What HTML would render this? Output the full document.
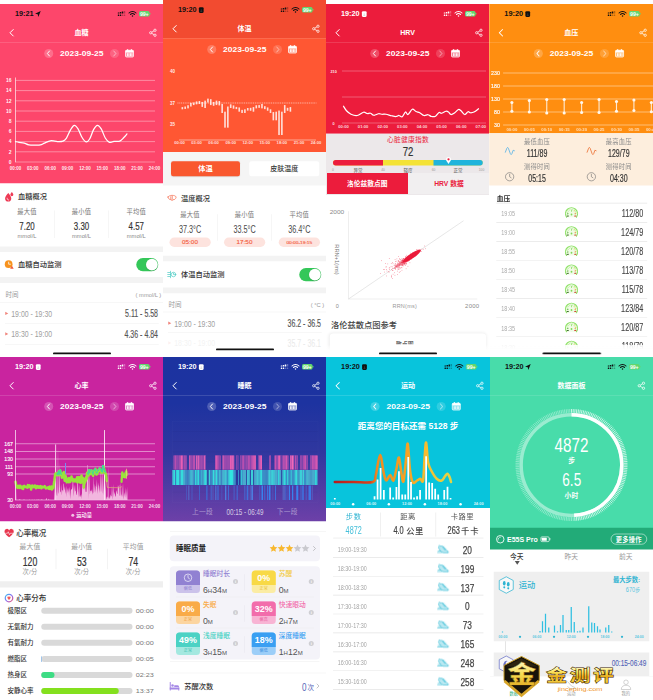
<!DOCTYPE html><html lang="zh-CN"><head><meta charset="utf-8"><title>collage</title><style>
html,body{margin:0;padding:0;background:#fff}
body{width:653px;height:700px;overflow:hidden;position:relative}
#s{position:absolute;left:0;top:0;width:2612px;height:2800px;transform:scale(.25);transform-origin:0 0;font-family:"Liberation Sans","Noto Sans CJK SC",sans-serif;background:#fff;overflow:hidden}
.p{position:absolute;overflow:hidden}
.a{position:absolute;display:block}
.t{position:absolute;white-space:nowrap;line-height:1}
svg{overflow:visible}
</style></head><body><div id="s"><div class="p" style="left:0px;top:16px;width:652px;height:1412px;background:#fff"><div class="a" style="left:0px;top:0px;width:652px;height:717px;background:#fd466b;"></div><div class="t" style="top:26.3px;font-size:28px;color:#111;font-weight:700;left:60px;transform:scaleX(1.04);transform-origin:0 50%;">19:21</div><svg class="a" style="left:139px;top:27px;" width="26" height="26" viewBox="0 0 26 26"><path d="M24 1 L1 12 L12 14 L14 25 Z" fill="#111"/></svg><svg class="a" style="left:471px;top:28px;" width="32" height="20" viewBox="0 0 32 20"><rect x="0" y="6" width="6" height="4" rx="1.2" fill="#111" opacity="1"/><rect x="8" y="4" width="6" height="6" rx="1.2" fill="#111" opacity="1"/><rect x="16" y="2" width="6" height="8" rx="1.2" fill="#111" opacity="1"/><rect x="24" y="0" width="6" height="10" rx="1.2" fill="#111" opacity="0.3"/><rect x="0" y="14" width="6" height="5.5" rx="1.5" fill="#111" opacity="1"/><rect x="8" y="14" width="6" height="5.5" rx="1.5" fill="#111" opacity="1"/><rect x="16" y="14" width="6" height="5.5" rx="1.5" fill="#111" opacity="0.3"/><rect x="24" y="14" width="6" height="5.5" rx="1.5" fill="#111" opacity="0.3"/></svg><svg class="a" style="left:514px;top:27px;" width="32" height="26" viewBox="0 0 32 26"><path d="M2 9 A19 19 0 0 1 30 9" fill="none" stroke="#111" stroke-width="4.2" stroke-linecap="round"/><path d="M8 15 A11.5 11.5 0 0 1 24 15" fill="none" stroke="#111" stroke-width="4.2" stroke-linecap="round"/><circle cx="16" cy="21" r="3" fill="#111"/></svg><div class="a" style="left:556px;top:28px;width:42px;height:22px;background:#62d66e;border-radius:6px;"></div><div class="a" style="left:598px;top:35px;width:3px;height:8px;background:#62d66e;border-radius:1.5px;"></div><div class="t" style="top:29.2px;font-size:21px;color:#fff;font-weight:700;letter-spacing:-0.3px;left:577px;transform:translateX(-50%);transform-origin:50% 50%;">99+</div><svg class="a" style="left:36px;top:99px;" width="20" height="32" viewBox="0 0 20 32"><path d="M17 3 L4 16 L17 29" fill="none" stroke="#fff" stroke-width="4" stroke-linecap="round" stroke-linejoin="round"/></svg><div class="t" style="top:101.3px;font-size:28px;color:#fff;font-weight:700;left:326px;transform:translateX(-50%);transform-origin:50% 50%;">血糖</div><svg class="a" style="left:596px;top:98px;" width="32" height="34" viewBox="0 0 32 34"><g fill="none" stroke="#fff" stroke-width="3"><circle cx="24" cy="7" r="4.6"/><circle cx="7" cy="17" r="4.6"/><circle cx="24" cy="27" r="4.6"/><path d="M11 14.5 L20 9.5 M11 19.5 L20 24.5"/></g></svg><div class="a" style="left:0px;top:152px;width:652px;height:2px;background:rgba(255,255,255,.28);"></div><div class="a" style="left:177px;top:180px;width:36px;height:36px;background:rgba(255,255,255,.22);border-radius:18px;"></div><svg class="a" style="left:187px;top:187px;" width="14" height="22" viewBox="0 0 14 22"><path d="M11 1 L2.5 11 L11 21" fill="none" stroke="#fff" stroke-opacity=".95" stroke-width="4" stroke-linecap="round" stroke-linejoin="round"/></svg><div class="t" style="top:183.8px;font-size:29px;color:#fff;font-weight:700;left:327px;transform:translateX(-50%) scaleX(1.17);transform-origin:50% 50%;">2023-09-25</div><div class="a" style="left:440px;top:180px;width:36px;height:36px;background:rgba(255,255,255,.16);border-radius:18px;"></div><svg class="a" style="left:452px;top:187px;" width="14" height="22" viewBox="0 0 14 22"><path d="M3 1 L11.5 11 L3 21" fill="none" stroke="#fff" stroke-opacity=".5" stroke-width="4" stroke-linecap="round" stroke-linejoin="round"/></svg><svg class="a" style="left:500px;top:180px;" width="36" height="34" viewBox="0 0 36 34"><rect x="2" y="5" width="32" height="27" rx="4" fill="#fff" fill-opacity=".45" stroke="#fff" stroke-width="3"/><rect x="2" y="5" width="32" height="9" rx="3" fill="#fff"/><rect x="8.5" y="0" width="4" height="8" rx="2" fill="#fff"/><rect x="23.5" y="0" width="4" height="8" rx="2" fill="#fff"/><g fill="#fff"><rect x="8" y="17" width="3.4" height="11"/><rect x="14" y="17" width="3.4" height="11"/><rect x="20" y="17" width="3.4" height="11"/><rect x="26" y="17" width="3.4" height="11"/></g></svg><svg class="a" style="left:0px;top:0px;" width="652" height="717" viewBox="0 0 652 717"><line x1="62" y1="632.0" x2="620" y2="632.0" stroke="#fff" stroke-opacity=".5" stroke-width="3"/><text x="46" y="639.0" font-size="20" font-weight="700" fill="#fff" fill-opacity=".95" text-anchor="end">0</text><line x1="62" y1="591.2" x2="620" y2="591.2" stroke="#fff" stroke-opacity=".5" stroke-width="3"/><text x="46" y="598.2" font-size="20" font-weight="700" fill="#fff" fill-opacity=".95" text-anchor="end">2</text><line x1="62" y1="550.4" x2="620" y2="550.4" stroke="#fff" stroke-opacity=".5" stroke-width="3"/><text x="46" y="557.4" font-size="20" font-weight="700" fill="#fff" fill-opacity=".95" text-anchor="end">4</text><line x1="62" y1="509.6" x2="620" y2="509.6" stroke="#fff" stroke-opacity=".5" stroke-width="3"/><text x="46" y="516.6" font-size="20" font-weight="700" fill="#fff" fill-opacity=".95" text-anchor="end">6</text><line x1="62" y1="468.8" x2="620" y2="468.8" stroke="#fff" stroke-opacity=".5" stroke-width="3"/><text x="46" y="475.8" font-size="20" font-weight="700" fill="#fff" fill-opacity=".95" text-anchor="end">8</text><line x1="62" y1="428.0" x2="620" y2="428.0" stroke="#fff" stroke-opacity=".5" stroke-width="3"/><text x="46" y="435.0" font-size="20" font-weight="700" fill="#fff" fill-opacity=".95" text-anchor="end">10</text><line x1="62" y1="387.2" x2="620" y2="387.2" stroke="#fff" stroke-opacity=".5" stroke-width="3"/><text x="46" y="394.2" font-size="20" font-weight="700" fill="#fff" fill-opacity=".95" text-anchor="end">12</text><line x1="62" y1="346.4" x2="620" y2="346.4" stroke="#fff" stroke-opacity=".5" stroke-width="3"/><text x="46" y="353.4" font-size="20" font-weight="700" fill="#fff" fill-opacity=".95" text-anchor="end">14</text><line x1="62" y1="305.6" x2="620" y2="305.6" stroke="#fff" stroke-opacity=".5" stroke-width="3"/><text x="46" y="312.6" font-size="20" font-weight="700" fill="#fff" fill-opacity=".95" text-anchor="end">16</text><line x1="62" y1="294" x2="62" y2="633" stroke="#fff" stroke-opacity=".85" stroke-width="3"/><text x="62.0" y="663.5" font-size="18" font-weight="700" fill="#fff" fill-opacity=".9" text-anchor="middle">00:00</text><text x="131.5" y="663.5" font-size="18" font-weight="700" fill="#fff" fill-opacity=".9" text-anchor="middle">03:00</text><text x="201.0" y="663.5" font-size="18" font-weight="700" fill="#fff" fill-opacity=".9" text-anchor="middle">06:00</text><text x="270.5" y="663.5" font-size="18" font-weight="700" fill="#fff" fill-opacity=".9" text-anchor="middle">09:00</text><text x="340.0" y="663.5" font-size="18" font-weight="700" fill="#fff" fill-opacity=".9" text-anchor="middle">12:00</text><text x="409.5" y="663.5" font-size="18" font-weight="700" fill="#fff" fill-opacity=".9" text-anchor="middle">15:00</text><text x="479.0" y="663.5" font-size="18" font-weight="700" fill="#fff" fill-opacity=".9" text-anchor="middle">18:00</text><text x="548.5" y="663.5" font-size="18" font-weight="700" fill="#fff" fill-opacity=".9" text-anchor="middle">21:00</text><text x="618.0" y="663.5" font-size="18" font-weight="700" fill="#fff" fill-opacity=".9" text-anchor="middle">24:00</text><path d="M62.0 550.4 C64.3 550.9 70.1 552.4 75.9 553.5 C81.7 554.5 90.2 554.8 96.8 556.5 C103.3 558.2 107.6 562.3 115.3 563.7 C123.0 565.0 135.4 564.7 143.1 564.7 C150.8 564.7 155.8 565.0 161.6 563.7 C167.4 562.3 171.3 559.2 177.8 556.5 C184.4 553.8 194.1 548.7 201.0 547.3 C207.9 546.0 214.1 547.9 219.5 548.4 C224.9 548.9 228.0 550.4 233.4 550.4 C238.8 550.4 246.6 550.7 252.0 548.4 C257.4 546.0 260.8 543.6 265.9 536.1 C270.9 528.6 276.9 512.0 282.1 503.5 C287.3 495.0 292.1 485.8 297.1 485.1 C302.2 484.4 307.0 491.2 312.2 499.4 C317.4 507.6 323.0 525.4 328.4 534.1 C333.8 542.8 339.6 550.4 344.6 551.4 C349.7 552.4 353.5 548.5 358.5 540.2 C363.6 531.9 369.5 510.6 374.8 501.4 C380.0 492.3 384.8 485.5 389.8 485.1 C394.8 484.8 399.7 490.9 404.9 499.4 C410.1 507.9 415.7 527.1 421.1 536.1 C426.5 545.1 431.5 551.2 437.3 553.5 C443.1 555.7 448.9 550.2 455.8 549.4 C462.8 548.5 472.4 550.9 479.0 548.4 C485.6 545.8 490.4 538.8 495.2 534.1 C500.0 529.3 505.8 522.2 508.0 519.8" fill="none" stroke="#fff" stroke-width="5" stroke-linecap="round" stroke-linejoin="round"/></svg><svg class="a" style="left:19px;top:751px;" width="38" height="40" viewBox="0 0 32 34"><path d="M12 4 C5 12 1 17 1 23 A10.5 10.5 0 0 0 22 23 C22 17 18 12 12 4Z" fill="#ee3a55"/><path d="M24 1 C21 5 19 7 19 10 A5 5 0 0 0 29 10 C29 7 27 5 24 1Z" fill="#ee3a55"/><path d="M8 22 C8 26 10 28 13 28" fill="none" stroke="#fff" stroke-width="2.4" stroke-linecap="round"/></svg><div class="t" style="top:755.8px;font-size:29px;color:#333;font-weight:500;left:72px;">血糖概况</div><div class="t" style="top:817.8px;font-size:25px;color:#777;letter-spacing:1px;left:108px;transform:translateX(-50%);transform-origin:50% 50%;">最大值</div><div class="t" style="top:866.4px;font-size:44px;color:#333;left:108px;transform:translateX(-50%) scaleX(0.72);transform-origin:50% 50%;-webkit-text-stroke:.7px #333;">7.20</div><div class="t" style="top:918.2px;font-size:20px;color:#888;left:108px;transform:translateX(-50%) scaleX(1.15);transform-origin:50% 50%;">mmol/L</div><div class="t" style="top:817.8px;font-size:25px;color:#777;letter-spacing:1px;left:326px;transform:translateX(-50%);transform-origin:50% 50%;">最小值</div><div class="t" style="top:866.4px;font-size:44px;color:#333;left:326px;transform:translateX(-50%) scaleX(0.72);transform-origin:50% 50%;-webkit-text-stroke:.7px #333;">3.30</div><div class="t" style="top:918.2px;font-size:20px;color:#888;left:326px;transform:translateX(-50%) scaleX(1.15);transform-origin:50% 50%;">mmol/L</div><div class="t" style="top:817.8px;font-size:25px;color:#777;letter-spacing:1px;left:545px;transform:translateX(-50%);transform-origin:50% 50%;">平均值</div><div class="t" style="top:866.4px;font-size:44px;color:#333;left:545px;transform:translateX(-50%) scaleX(0.72);transform-origin:50% 50%;-webkit-text-stroke:.7px #333;">4.57</div><div class="t" style="top:918.2px;font-size:20px;color:#888;left:545px;transform:translateX(-50%) scaleX(1.15);transform-origin:50% 50%;">mmol/L</div><div class="a" style="left:217px;top:826px;width:2px;height:110px;background:#ececec;"></div><div class="a" style="left:434px;top:826px;width:2px;height:110px;background:#ececec;"></div><div class="a" style="left:0px;top:970px;width:652px;height:22px;background:#f3f3f3;"></div><svg class="a" style="left:18px;top:1023px;" width="38" height="38" viewBox="0 0 32 32"><circle cx="14" cy="15" r="13" fill="#f7931e"/><path d="M14 8 V15 H20" fill="none" stroke="#fff" stroke-width="2.6" stroke-linecap="round"/><path d="M25 20 L31 30 H19Z" fill="#f05a3c"/></svg><div class="t" style="top:1027.8px;font-size:29px;color:#333;font-weight:500;left:72px;">血糖自动监测</div><div class="a" style="left:545px;top:1016px;width:88px;height:53px;background:#34c759;border-radius:26.5px;"></div><div class="a" style="left:584px;top:1019px;width:47px;height:47px;background:#fff;border-radius:23.5px;box-shadow:0 2px 4px rgba(0,0,0,.2);"></div><div class="a" style="left:0px;top:1092px;width:652px;height:24px;background:#f3f3f3;"></div><div class="t" style="top:1151.3px;font-size:26px;color:#999;left:22px;">时间</div><div class="t" style="top:1152.7px;font-size:23px;color:#999;left:645px;transform:translateX(-100%);transform-origin:100% 50%;">( mmol/L )</div><div class="a" style="left:0px;top:1193px;width:652px;height:2px;background:#eee;"></div><svg class="a" style="left:20px;top:1230px;" width="14" height="15" viewBox="0 0 14 15"><path d="M1 1 L13 7.5 L1 14Z" fill="#f0837a"/></svg><div class="t" style="top:1219.4px;font-size:38px;color:#a0a0a0;left:45px;transform:scaleX(0.73);transform-origin:0 50%;">19:00 - 19:30</div><div class="t" style="top:1218.4px;font-size:40px;color:#555;left:632px;transform:translateX(-100%) scaleX(0.7);transform-origin:100% 50%;-webkit-text-stroke:.6px #555;">5.11 - 5.58</div><div class="a" style="left:20px;top:1278px;width:615px;height:2px;background:#eee;"></div><svg class="a" style="left:20px;top:1312px;" width="14" height="15" viewBox="0 0 14 15"><path d="M1 1 L13 7.5 L1 14Z" fill="#f0837a"/></svg><div class="t" style="top:1301.4px;font-size:38px;color:#a0a0a0;left:45px;transform:scaleX(0.73);transform-origin:0 50%;">18:30 - 19:00</div><div class="t" style="top:1300.4px;font-size:40px;color:#555;left:632px;transform:translateX(-100%) scaleX(0.7);transform-origin:100% 50%;-webkit-text-stroke:.6px #555;">4.36 - 4.84</div><div class="a" style="left:20px;top:1360px;width:615px;height:2px;background:#eee;"></div><div class="a" style="left:212px;top:1394px;width:232px;height:7px;background:#111;border-radius:3.5px;"></div></div>
<div class="p" style="left:652px;top:0px;width:652px;height:1412px;background:#fff"><div class="a" style="left:0px;top:0px;width:652px;height:608px;background:#ff5733;"></div><div class="a" style="left:0px;top:0px;width:652px;height:153px;background:#f24b30;"></div><div class="t" style="top:26.3px;font-size:28px;color:#111;font-weight:700;left:60px;transform:scaleX(1.04);transform-origin:0 50%;">19:20</div><svg class="a" style="left:143px;top:28px;" width="20" height="24" viewBox="0 0 20 24"><rect x="0.5" y="0.5" width="19" height="23" rx="4.5" fill="#111"/><rect x="5" y="5" width="10" height="7" rx="1" fill="#111" stroke="BGC" stroke-opacity=".0"/><path d="M6 17.5 H14 M10 9 V17" stroke="#888" stroke-opacity=".55" stroke-width="2"/></svg><svg class="a" style="left:471px;top:28px;" width="32" height="20" viewBox="0 0 32 20"><rect x="0" y="6" width="6" height="4" rx="1.2" fill="#111" opacity="1"/><rect x="8" y="4" width="6" height="6" rx="1.2" fill="#111" opacity="1"/><rect x="16" y="2" width="6" height="8" rx="1.2" fill="#111" opacity="1"/><rect x="24" y="0" width="6" height="10" rx="1.2" fill="#111" opacity="0.3"/><rect x="0" y="14" width="6" height="5.5" rx="1.5" fill="#111" opacity="1"/><rect x="8" y="14" width="6" height="5.5" rx="1.5" fill="#111" opacity="1"/><rect x="16" y="14" width="6" height="5.5" rx="1.5" fill="#111" opacity="0.3"/><rect x="24" y="14" width="6" height="5.5" rx="1.5" fill="#111" opacity="0.3"/></svg><svg class="a" style="left:514px;top:27px;" width="32" height="26" viewBox="0 0 32 26"><path d="M2 9 A19 19 0 0 1 30 9" fill="none" stroke="#111" stroke-width="4.2" stroke-linecap="round"/><path d="M8 15 A11.5 11.5 0 0 1 24 15" fill="none" stroke="#111" stroke-width="4.2" stroke-linecap="round"/><circle cx="16" cy="21" r="3" fill="#111"/></svg><div class="a" style="left:556px;top:28px;width:42px;height:22px;background:#62d66e;border-radius:6px;"></div><div class="a" style="left:598px;top:35px;width:3px;height:8px;background:#62d66e;border-radius:1.5px;"></div><div class="t" style="top:29.2px;font-size:21px;color:#fff;font-weight:700;letter-spacing:-0.3px;left:577px;transform:translateX(-50%);transform-origin:50% 50%;">99+</div><svg class="a" style="left:36px;top:99px;" width="20" height="32" viewBox="0 0 20 32"><path d="M17 3 L4 16 L17 29" fill="none" stroke="#fff" stroke-width="4" stroke-linecap="round" stroke-linejoin="round"/></svg><div class="t" style="top:101.3px;font-size:28px;color:#fff;font-weight:700;left:326px;transform:translateX(-50%);transform-origin:50% 50%;">体温</div><svg class="a" style="left:596px;top:98px;" width="32" height="34" viewBox="0 0 32 34"><g fill="none" stroke="#fff" stroke-width="3"><circle cx="24" cy="7" r="4.6"/><circle cx="7" cy="17" r="4.6"/><circle cx="24" cy="27" r="4.6"/><path d="M11 14.5 L20 9.5 M11 19.5 L20 24.5"/></g></svg><div class="a" style="left:0px;top:152px;width:652px;height:2px;background:rgba(255,255,255,.28);"></div><div class="a" style="left:177px;top:180px;width:36px;height:36px;background:rgba(255,255,255,.22);border-radius:18px;"></div><svg class="a" style="left:187px;top:187px;" width="14" height="22" viewBox="0 0 14 22"><path d="M11 1 L2.5 11 L11 21" fill="none" stroke="#fff" stroke-opacity=".95" stroke-width="4" stroke-linecap="round" stroke-linejoin="round"/></svg><div class="t" style="top:183.8px;font-size:29px;color:#fff;font-weight:700;left:327px;transform:translateX(-50%) scaleX(1.17);transform-origin:50% 50%;">2023-09-25</div><div class="a" style="left:440px;top:180px;width:36px;height:36px;background:rgba(255,255,255,.16);border-radius:18px;"></div><svg class="a" style="left:452px;top:187px;" width="14" height="22" viewBox="0 0 14 22"><path d="M3 1 L11.5 11 L3 21" fill="none" stroke="#fff" stroke-opacity=".5" stroke-width="4" stroke-linecap="round" stroke-linejoin="round"/></svg><svg class="a" style="left:500px;top:180px;" width="36" height="34" viewBox="0 0 36 34"><rect x="2" y="5" width="32" height="27" rx="4" fill="#fff" fill-opacity=".45" stroke="#fff" stroke-width="3"/><rect x="2" y="5" width="32" height="9" rx="3" fill="#fff"/><rect x="8.5" y="0" width="4" height="8" rx="2" fill="#fff"/><rect x="23.5" y="0" width="4" height="8" rx="2" fill="#fff"/><g fill="#fff"><rect x="8" y="17" width="3.4" height="11"/><rect x="14" y="17" width="3.4" height="11"/><rect x="20" y="17" width="3.4" height="11"/><rect x="26" y="17" width="3.4" height="11"/></g></svg><svg class="a" style="left:0px;top:0px;" width="652" height="608" viewBox="0 0 652 608"><text x="28" y="291.0" font-size="18" font-weight="700" fill="#fff" fill-opacity=".9">40</text><text x="28" y="418.5" font-size="18" font-weight="700" fill="#fff" fill-opacity=".9">37</text><text x="28" y="503.5" font-size="18" font-weight="700" fill="#fff" fill-opacity=".9">35</text><line x1="58" y1="412" x2="614" y2="412" stroke="#fff" stroke-opacity=".9" stroke-width="2.6" stroke-dasharray="4 3.2"/><line x1="64" y1="560" x2="612" y2="560" stroke="#fff" stroke-opacity=".75" stroke-width="2.6"/><text x="66.0" y="577" font-size="16.5" font-weight="700" fill="#fff" fill-opacity=".8" text-anchor="middle">00:00</text><text x="134.2" y="577" font-size="16.5" font-weight="700" fill="#fff" fill-opacity=".8" text-anchor="middle">03:00</text><text x="202.5" y="577" font-size="16.5" font-weight="700" fill="#fff" fill-opacity=".8" text-anchor="middle">06:00</text><text x="270.8" y="577" font-size="16.5" font-weight="700" fill="#fff" fill-opacity=".8" text-anchor="middle">09:00</text><text x="339.0" y="577" font-size="16.5" font-weight="700" fill="#fff" fill-opacity=".8" text-anchor="middle">12:00</text><text x="407.2" y="577" font-size="16.5" font-weight="700" fill="#fff" fill-opacity=".8" text-anchor="middle">15:00</text><text x="475.5" y="577" font-size="16.5" font-weight="700" fill="#fff" fill-opacity=".8" text-anchor="middle">18:00</text><text x="543.8" y="577" font-size="16.5" font-weight="700" fill="#fff" fill-opacity=".8" text-anchor="middle">21:00</text><text x="612.0" y="577" font-size="16.5" font-weight="700" fill="#fff" fill-opacity=".8" text-anchor="middle">24:00</text><rect x="74.2" y="428.4" width="6.4" height="8.8" fill="#fff" fill-opacity=".82"/><rect x="85.5" y="426.1" width="6.4" height="9.6" fill="#fff" fill-opacity=".82"/><rect x="96.9" y="421.0" width="6.4" height="12.5" fill="#fff" fill-opacity=".82"/><rect x="108.3" y="411.4" width="6.4" height="14.7" fill="#fff" fill-opacity=".82"/><rect x="119.7" y="410.0" width="6.4" height="10.3" fill="#fff" fill-opacity=".82"/><rect x="131.1" y="405.6" width="6.4" height="11.8" fill="#fff" fill-opacity=".82"/><rect x="142.4" y="404.1" width="6.4" height="11.8" fill="#fff" fill-opacity=".82"/><rect x="153.8" y="407.8" width="6.4" height="19.8" fill="#fff" fill-opacity=".82"/><rect x="165.2" y="402.6" width="6.4" height="29.4" fill="#fff" fill-opacity=".82"/><rect x="176.6" y="394.5" width="6.4" height="15.4" fill="#fff" fill-opacity=".82"/><rect x="187.9" y="396.8" width="6.4" height="23.5" fill="#fff" fill-opacity=".82"/><rect x="199.3" y="407.8" width="6.4" height="15.4" fill="#fff" fill-opacity=".82"/><rect x="210.7" y="402.6" width="6.4" height="17.6" fill="#fff" fill-opacity=".82"/><rect x="222.1" y="404.1" width="6.4" height="17.6" fill="#fff" fill-opacity=".82"/><rect x="233.4" y="415.9" width="6.4" height="36.0" fill="#fff" fill-opacity=".82"/><rect x="244.8" y="446.7" width="6.4" height="63.9" fill="#fff" fill-opacity=".82"/><rect x="256.2" y="426.1" width="6.4" height="84.5" fill="#fff" fill-opacity=".82"/><rect x="267.6" y="417.3" width="6.4" height="14.7" fill="#fff" fill-opacity=".82"/><rect x="278.9" y="421.7" width="6.4" height="13.2" fill="#fff" fill-opacity=".82"/><rect x="290.3" y="427.6" width="6.4" height="8.8" fill="#fff" fill-opacity=".82"/><rect x="301.7" y="429.8" width="6.4" height="16.9" fill="#fff" fill-opacity=".82"/><rect x="313.1" y="439.4" width="6.4" height="12.5" fill="#fff" fill-opacity=".82"/><rect x="324.4" y="437.2" width="6.4" height="14.7" fill="#fff" fill-opacity=".82"/><rect x="335.8" y="432.0" width="6.4" height="10.3" fill="#fff" fill-opacity=".82"/><rect x="347.2" y="431.3" width="6.4" height="11.8" fill="#fff" fill-opacity=".82"/><rect x="358.6" y="428.4" width="6.4" height="18.4" fill="#fff" fill-opacity=".82"/><rect x="369.9" y="421.0" width="6.4" height="12.5" fill="#fff" fill-opacity=".82"/><rect x="381.3" y="420.3" width="6.4" height="11.0" fill="#fff" fill-opacity=".82"/><rect x="392.7" y="415.9" width="6.4" height="17.6" fill="#fff" fill-opacity=".82"/><rect x="404.1" y="424.7" width="6.4" height="11.8" fill="#fff" fill-opacity=".82"/><rect x="415.4" y="429.8" width="6.4" height="13.2" fill="#fff" fill-opacity=".82"/><rect x="426.8" y="437.2" width="6.4" height="14.7" fill="#fff" fill-opacity=".82"/><rect x="438.2" y="448.2" width="6.4" height="33.1" fill="#fff" fill-opacity=".82"/><rect x="449.6" y="446.7" width="6.4" height="34.5" fill="#fff" fill-opacity=".82"/><rect x="460.9" y="442.3" width="6.4" height="97.8" fill="#fff" fill-opacity=".82"/><rect x="472.3" y="446.7" width="6.4" height="93.3" fill="#fff" fill-opacity=".82"/><rect x="483.7" y="420.3" width="6.4" height="31.6" fill="#fff" fill-opacity=".82"/><rect x="495.1" y="431.3" width="6.4" height="11.8" fill="#fff" fill-opacity=".82"/><rect x="506.4" y="428.4" width="6.4" height="18.4" fill="#fff" fill-opacity=".82"/></svg><div class="a" style="left:0px;top:608px;width:652px;height:134px;background:#f5f5f5;"></div><div class="a" style="left:32px;top:645px;width:276px;height:60px;background:#f9582f;border-radius:9px;box-shadow:0 2px 5px rgba(0,0,0,.12);"></div><div class="t" style="top:660.8px;font-size:29px;color:#fff;font-weight:700;left:170px;transform:translateX(-50%);transform-origin:50% 50%;">体温</div><div class="a" style="left:345px;top:645px;width:280px;height:60px;background:#fff;border-radius:9px;"></div><div class="t" style="top:661.3px;font-size:28px;color:#333;font-weight:500;left:485px;transform:translateX(-50%);transform-origin:50% 50%;">皮肤温度</div><svg class="a" style="left:18px;top:776px;" width="38" height="30" viewBox="0 0 38 30"><g fill="none" stroke="#f4603f" stroke-width="2.6" stroke-linejoin="round" stroke-linecap="round"><path d="M2 12 C6 3 30 3 35 12 C32 22 26 24 22 22 L18 27 L15 22 C8 24 4 20 2 12Z"/><path d="M13 11 V19 M19 9 V21"/></g></svg><div class="t" style="top:777.8px;font-size:29px;color:#333;font-weight:500;left:72px;">温度概况</div><div class="t" style="top:845.8px;font-size:25px;color:#777;letter-spacing:1px;left:108px;transform:translateX(-50%);transform-origin:50% 50%;">最大值</div><div class="t" style="top:897.4px;font-size:42px;color:#4a4a4a;left:108px;transform:translateX(-50%) scaleX(0.69);transform-origin:50% 50%;">37.3°C</div><div class="a" style="left:26px;top:950px;width:165px;height:38px;background:#fde3de;border-radius:19px;"></div><div class="t" style="top:958.7px;font-size:21px;color:#f4603f;left:108px;transform:translateX(-50%) scaleX(1.2);transform-origin:50% 50%;-webkit-text-stroke:.5px #f4603f;">05:00</div><div class="t" style="top:845.8px;font-size:25px;color:#777;letter-spacing:1px;left:326px;transform:translateX(-50%);transform-origin:50% 50%;">最小值</div><div class="t" style="top:897.4px;font-size:42px;color:#4a4a4a;left:326px;transform:translateX(-50%) scaleX(0.69);transform-origin:50% 50%;">33.5°C</div><div class="a" style="left:244px;top:950px;width:165px;height:38px;background:#fde3de;border-radius:19px;"></div><div class="t" style="top:958.7px;font-size:21px;color:#f4603f;left:326px;transform:translateX(-50%) scaleX(1.2);transform-origin:50% 50%;-webkit-text-stroke:.5px #f4603f;">17:50</div><div class="t" style="top:845.8px;font-size:25px;color:#777;letter-spacing:1px;left:545px;transform:translateX(-50%);transform-origin:50% 50%;">平均值</div><div class="t" style="top:897.4px;font-size:42px;color:#4a4a4a;left:545px;transform:translateX(-50%) scaleX(0.69);transform-origin:50% 50%;">36.4°C</div><div class="a" style="left:463px;top:950px;width:165px;height:38px;background:#fde3de;border-radius:19px;"></div><div class="t" style="top:961.2px;font-size:16px;color:#f4603f;left:545px;transform:translateX(-50%) scaleX(1.2);transform-origin:50% 50%;-webkit-text-stroke:.5px #f4603f;">00:00-19:15</div><div class="a" style="left:217px;top:857px;width:2px;height:106px;background:#ececec;"></div><div class="a" style="left:434px;top:857px;width:2px;height:106px;background:#ececec;"></div><div class="a" style="left:0px;top:1023px;width:652px;height:22px;background:#f3f3f3;"></div><svg class="a" style="left:18px;top:1082px;" width="36" height="32" viewBox="0 0 36 32"><g fill="none" stroke="#3fc8c0" stroke-width="2.6" stroke-linecap="round"><path d="M1 8 H10 M1 16 H12 M1 24 H10 M12 3 V29"/><circle cx="24" cy="16" r="9"/><path d="M24 11 V16 H28"/></g></svg><div class="t" style="top:1083.8px;font-size:29px;color:#333;font-weight:500;left:72px;">体温自动监测</div><div class="a" style="left:545px;top:1072px;width:88px;height:53px;background:#34c759;border-radius:26.5px;"></div><div class="a" style="left:584px;top:1075px;width:47px;height:47px;background:#fff;border-radius:23.5px;box-shadow:0 2px 4px rgba(0,0,0,.2);"></div><div class="a" style="left:0px;top:1150px;width:652px;height:23px;background:#f3f3f3;"></div><div class="t" style="top:1205.3px;font-size:26px;color:#999;left:22px;">时间</div><div class="t" style="top:1206.7px;font-size:23px;color:#999;left:645px;transform:translateX(-100%);transform-origin:100% 50%;">( °C )</div><div class="a" style="left:0px;top:1247px;width:652px;height:2px;background:#eee;"></div><svg class="a" style="left:20px;top:1285px;" width="14" height="15" viewBox="0 0 14 15"><path d="M1 1 L13 7.5 L1 14Z" fill="#f0837a"/></svg><div class="t" style="top:1274.4px;font-size:38px;color:#a0a0a0;left:45px;transform:scaleX(0.73);transform-origin:0 50%;">19:00 - 19:30</div><div class="t" style="top:1273.4px;font-size:40px;color:#555;left:632px;transform:translateX(-100%) scaleX(0.7);transform-origin:100% 50%;-webkit-text-stroke:.6px #555;">36.2 - 36.5</div><div class="a" style="left:20px;top:1330px;width:615px;height:2px;background:#eee;"></div><svg class="a" style="left:20px;top:1364px;opacity:0.12;" width="14" height="15" viewBox="0 0 14 15"><path d="M1 1 L13 7.5 L1 14Z" fill="#f0837a"/></svg><div class="t" style="top:1353.4px;font-size:38px;color:#a0a0a0;left:45px;transform:scaleX(0.73);transform-origin:0 50%;opacity:0.12;">18:30 - 19:00</div><div class="t" style="top:1352.4px;font-size:40px;color:#555;left:632px;transform:translateX(-100%) scaleX(0.7);transform-origin:100% 50%;-webkit-text-stroke:.6px #555;opacity:0.12;">35.7 - 36.1</div><div class="a" style="left:212px;top:1394px;width:232px;height:7px;background:#111;border-radius:3.5px;"></div></div>
<div class="p" style="left:1304px;top:16px;width:652px;height:1412px;background:#fff"><div class="a" style="left:0px;top:0px;width:652px;height:519px;background:#ec1c3c;"></div><div class="t" style="top:26.3px;font-size:28px;color:#fff;font-weight:700;left:60px;transform:scaleX(1.04);transform-origin:0 50%;">19:20</div><svg class="a" style="left:143px;top:28px;" width="20" height="24" viewBox="0 0 20 24"><rect x="0.5" y="0.5" width="19" height="23" rx="4.5" fill="#fff"/><rect x="5" y="5" width="10" height="7" rx="1" fill="#fff" stroke="BGC" stroke-opacity=".0"/><path d="M6 17.5 H14 M10 9 V17" stroke="#888" stroke-opacity=".55" stroke-width="2"/></svg><svg class="a" style="left:471px;top:28px;" width="32" height="20" viewBox="0 0 32 20"><rect x="0" y="6" width="6" height="4" rx="1.2" fill="#fff" opacity="1"/><rect x="8" y="4" width="6" height="6" rx="1.2" fill="#fff" opacity="1"/><rect x="16" y="2" width="6" height="8" rx="1.2" fill="#fff" opacity="1"/><rect x="24" y="0" width="6" height="10" rx="1.2" fill="#fff" opacity="0.3"/><rect x="0" y="14" width="6" height="5.5" rx="1.5" fill="#fff" opacity="1"/><rect x="8" y="14" width="6" height="5.5" rx="1.5" fill="#fff" opacity="1"/><rect x="16" y="14" width="6" height="5.5" rx="1.5" fill="#fff" opacity="0.3"/><rect x="24" y="14" width="6" height="5.5" rx="1.5" fill="#fff" opacity="0.3"/></svg><svg class="a" style="left:514px;top:27px;" width="32" height="26" viewBox="0 0 32 26"><path d="M2 9 A19 19 0 0 1 30 9" fill="none" stroke="#fff" stroke-width="4.2" stroke-linecap="round"/><path d="M8 15 A11.5 11.5 0 0 1 24 15" fill="none" stroke="#fff" stroke-width="4.2" stroke-linecap="round"/><circle cx="16" cy="21" r="3" fill="#fff"/></svg><div class="a" style="left:556px;top:28px;width:42px;height:22px;background:#62d66e;border-radius:6px;"></div><div class="a" style="left:598px;top:35px;width:3px;height:8px;background:#62d66e;border-radius:1.5px;"></div><div class="t" style="top:29.2px;font-size:21px;color:#fff;font-weight:700;letter-spacing:-0.3px;left:577px;transform:translateX(-50%);transform-origin:50% 50%;">99+</div><svg class="a" style="left:36px;top:99px;" width="20" height="32" viewBox="0 0 20 32"><path d="M17 3 L4 16 L17 29" fill="none" stroke="#fff" stroke-width="4" stroke-linecap="round" stroke-linejoin="round"/></svg><div class="t" style="top:101.3px;font-size:28px;color:#fff;font-weight:700;left:326px;transform:translateX(-50%);transform-origin:50% 50%;">HRV</div><svg class="a" style="left:596px;top:98px;" width="32" height="34" viewBox="0 0 32 34"><g fill="none" stroke="#fff" stroke-width="3"><circle cx="24" cy="7" r="4.6"/><circle cx="7" cy="17" r="4.6"/><circle cx="24" cy="27" r="4.6"/><path d="M11 14.5 L20 9.5 M11 19.5 L20 24.5"/></g></svg><div class="a" style="left:0px;top:152px;width:652px;height:2px;background:rgba(255,255,255,.28);"></div><div class="a" style="left:177px;top:180px;width:36px;height:36px;background:rgba(255,255,255,.22);border-radius:18px;"></div><svg class="a" style="left:187px;top:187px;" width="14" height="22" viewBox="0 0 14 22"><path d="M11 1 L2.5 11 L11 21" fill="none" stroke="#fff" stroke-opacity=".95" stroke-width="4" stroke-linecap="round" stroke-linejoin="round"/></svg><div class="t" style="top:183.8px;font-size:29px;color:#fff;font-weight:700;left:327px;transform:translateX(-50%) scaleX(1.17);transform-origin:50% 50%;">2023-09-25</div><div class="a" style="left:440px;top:180px;width:36px;height:36px;background:rgba(255,255,255,.16);border-radius:18px;"></div><svg class="a" style="left:452px;top:187px;" width="14" height="22" viewBox="0 0 14 22"><path d="M3 1 L11.5 11 L3 21" fill="none" stroke="#fff" stroke-opacity=".5" stroke-width="4" stroke-linecap="round" stroke-linejoin="round"/></svg><svg class="a" style="left:500px;top:180px;" width="36" height="34" viewBox="0 0 36 34"><rect x="2" y="5" width="32" height="27" rx="4" fill="#fff" fill-opacity=".45" stroke="#fff" stroke-width="3"/><rect x="2" y="5" width="32" height="9" rx="3" fill="#fff"/><rect x="8.5" y="0" width="4" height="8" rx="2" fill="#fff"/><rect x="23.5" y="0" width="4" height="8" rx="2" fill="#fff"/><g fill="#fff"><rect x="8" y="17" width="3.4" height="11"/><rect x="14" y="17" width="3.4" height="11"/><rect x="20" y="17" width="3.4" height="11"/><rect x="26" y="17" width="3.4" height="11"/></g></svg><svg class="a" style="left:0px;top:0px;" width="652" height="519" viewBox="0 0 652 519"><line x1="64" y1="268" x2="640" y2="268" stroke="#fff" stroke-opacity=".45" stroke-width="2.6"/><line x1="64" y1="372" x2="640" y2="372" stroke="#fff" stroke-opacity=".45" stroke-width="2.6"/><line x1="64" y1="476" x2="640" y2="476" stroke="#fff" stroke-opacity=".45" stroke-width="2.6"/><text x="18" y="274" font-size="15" font-weight="700" fill="#fff" fill-opacity=".9">210</text><text x="26" y="482" font-size="15" font-weight="700" fill="#fff" fill-opacity=".9">0</text><text x="70.0" y="495.5" font-size="16.5" font-weight="700" fill="#fff" fill-opacity=".8" text-anchor="middle">00:00</text><text x="148.5" y="495.5" font-size="16.5" font-weight="700" fill="#fff" fill-opacity=".8" text-anchor="middle">01:00</text><text x="227.0" y="495.5" font-size="16.5" font-weight="700" fill="#fff" fill-opacity=".8" text-anchor="middle">02:00</text><text x="305.5" y="495.5" font-size="16.5" font-weight="700" fill="#fff" fill-opacity=".8" text-anchor="middle">03:00</text><text x="384.0" y="495.5" font-size="16.5" font-weight="700" fill="#fff" fill-opacity=".8" text-anchor="middle">04:00</text><text x="462.5" y="495.5" font-size="16.5" font-weight="700" fill="#fff" fill-opacity=".8" text-anchor="middle">05:00</text><text x="541.0" y="495.5" font-size="16.5" font-weight="700" fill="#fff" fill-opacity=".8" text-anchor="middle">06:00</text><text x="619.5" y="495.5" font-size="16.5" font-weight="700" fill="#fff" fill-opacity=".8" text-anchor="middle">07:00</text><path d="M70.0 409.0 C72.0 412.0 77.0 421.7 82.0 427.0 C87.0 432.3 92.8 437.8 100.0 441.0 C107.2 444.2 116.7 447.3 125.0 446.0 C133.3 444.7 143.3 434.3 150.0 433.0 C156.7 431.7 160.3 437.3 165.0 438.0 C169.7 438.7 173.5 435.8 178.0 437.0 C182.5 438.2 186.7 444.7 192.0 445.0 C197.3 445.3 204.5 439.7 210.0 439.0 C215.5 438.3 220.0 440.7 225.0 441.0 C230.0 441.3 233.8 440.0 240.0 441.0 C246.2 442.0 255.3 445.5 262.0 447.0 C268.7 448.5 275.0 450.2 280.0 450.0 C285.0 449.8 287.8 445.8 292.0 446.0 C296.2 446.2 300.7 453.3 305.0 451.0 C309.3 448.7 314.2 433.5 318.0 432.0 C321.8 430.5 323.5 443.8 328.0 442.0 C332.5 440.2 339.7 423.0 345.0 421.0 C350.3 419.0 355.0 427.7 360.0 430.0 C365.0 432.3 369.7 432.3 375.0 435.0 C380.3 437.7 386.5 444.7 392.0 446.0 C397.5 447.3 403.0 442.3 408.0 443.0 C413.0 443.7 417.0 449.0 422.0 450.0 C427.0 451.0 433.0 451.7 438.0 449.0 C443.0 446.3 448.0 436.0 452.0 434.0 C456.0 432.0 457.3 437.8 462.0 437.0 C466.7 436.2 475.3 429.8 480.0 429.0 C484.7 428.2 486.7 429.8 490.0 432.0 C493.3 434.2 495.8 441.5 500.0 442.0 C504.2 442.5 510.0 438.3 515.0 435.0 C520.0 431.7 525.8 423.3 530.0 422.0 C534.2 420.7 535.8 423.7 540.0 427.0 C544.2 430.3 550.3 441.3 555.0 442.0 C559.7 442.7 564.2 432.2 568.0 431.0 C571.8 429.8 574.0 434.8 578.0 435.0 C582.0 435.2 586.7 434.7 592.0 432.0 C597.3 429.3 607.0 421.2 610.0 419.0" fill="none" stroke="#fff" stroke-width="5" stroke-linecap="round" stroke-linejoin="round"/></svg><div class="a" style="left:0px;top:519px;width:652px;height:245px;background:#ece8ea;"></div><div class="t" style="top:530.8px;font-size:27px;color:#ea1c3c;letter-spacing:1px;left:328px;transform:translateX(-50%);transform-origin:50% 50%;">心脏健康指数</div><div class="t" style="top:562.0px;font-size:53px;color:#333;left:328px;transform:translateX(-50%) scaleX(0.72);transform-origin:50% 50%;-webkit-text-stroke:.8px #333;">72</div><div class="a" style="left:28px;top:624px;width:599px;height:22px;background:#f4e236;border-radius:11px;"></div><div class="a" style="left:430px;top:624px;width:197px;height:22px;background:#1fb4dc;border-radius:11px;border-radius:0 11px 11px 0;"></div><div class="a" style="left:28px;top:624px;width:200px;height:22px;background:#ec1c3c;border-radius:11px 0 0 11px;"></div><svg class="a" style="left:480px;top:612px;" width="20" height="28" viewBox="0 0 20 28"><path d="M10 0 A10 10 0 0 1 20 10 C20 16 12 22 10 28 C8 22 0 16 0 10 A10 10 0 0 1 10 0Z" fill="#fff"/><circle cx="10" cy="9" r="4.5" fill="#ec1c3c"/></svg><div class="t" style="top:657.6px;font-size:13px;color:#999;left:28px;transform:translateX(-50%);transform-origin:50% 50%;">0</div><div class="t" style="top:655.2px;font-size:18px;color:#777;font-weight:500;left:128px;transform:translateX(-50%);transform-origin:50% 50%;">异常</div><div class="t" style="top:657.6px;font-size:13px;color:#999;left:228px;transform:translateX(-50%);transform-origin:50% 50%;">40</div><div class="t" style="top:655.2px;font-size:18px;color:#777;font-weight:500;left:328px;transform:translateX(-50%);transform-origin:50% 50%;">轻度</div><div class="t" style="top:657.6px;font-size:13px;color:#999;left:430px;transform:translateX(-50%);transform-origin:50% 50%;">60</div><div class="t" style="top:655.2px;font-size:18px;color:#777;font-weight:500;left:528px;transform:translateX(-50%);transform-origin:50% 50%;">正常</div><div class="t" style="top:657.6px;font-size:13px;color:#999;left:622px;transform:translateX(-50%);transform-origin:50% 50%;">100</div><div class="a" style="left:328px;top:676px;width:324px;height:84px;background:#f1eff0;"></div><div class="a" style="left:4px;top:676px;width:324px;height:84px;background:#ec1c3c;"></div><div class="t" style="top:704.8px;font-size:27px;color:#fff;font-weight:700;left:165px;transform:translateX(-50%);transform-origin:50% 50%;">洛伦兹散点图</div><div class="t" style="top:704.8px;font-size:27px;color:#ea1c3c;font-weight:700;left:492px;transform:translateX(-50%);transform-origin:50% 50%;">HRV 数据</div><svg class="a" style="left:0px;top:0px;" width="652" height="1412" viewBox="0 0 652 1412"><line x1="90" y1="829" x2="90" y2="1180" stroke="#ddd" stroke-width="2"/><line x1="90" y1="1180" x2="605" y2="1180" stroke="#ddd" stroke-width="2"/><line x1="90" y1="1180" x2="550" y2="867" stroke="#cfcfcf" stroke-width="2"/><ellipse cx="343" cy="1008" rx="44" ry="10" fill="#ec1c3c" transform="rotate(-34.3 343 1008)"/><ellipse cx="318" cy="1025" rx="52" ry="9" fill="#ec1c3c" fill-opacity=".45" transform="rotate(-34.3 318 1025)"/><rect x="305.3" y="1040.1" width="2.6" height="2.6" fill="#ec1c3c" fill-opacity=".7"/><rect x="301.0" y="1031.7" width="2.6" height="2.6" fill="#ec1c3c" fill-opacity=".7"/><rect x="278.9" y="1046.9" width="2.6" height="2.6" fill="#ec1c3c" fill-opacity=".7"/><rect x="346.4" y="1007.9" width="2.6" height="2.6" fill="#ec1c3c" fill-opacity=".7"/><rect x="343.5" y="1008.8" width="2.6" height="2.6" fill="#ec1c3c" fill-opacity=".7"/><rect x="323.3" y="1022.5" width="2.6" height="2.6" fill="#ec1c3c" fill-opacity=".7"/><rect x="267.1" y="1079.4" width="2.6" height="2.6" fill="#ec1c3c" fill-opacity=".7"/><rect x="327.9" y="1021.8" width="2.6" height="2.6" fill="#ec1c3c" fill-opacity=".7"/><rect x="237.1" y="1036.7" width="2.6" height="2.6" fill="#ec1c3c" fill-opacity=".7"/><rect x="278.1" y="1042.8" width="2.6" height="2.6" fill="#ec1c3c" fill-opacity=".7"/><rect x="319.5" y="1023.0" width="2.6" height="2.6" fill="#ec1c3c" fill-opacity=".7"/><rect x="324.1" y="1015.2" width="2.6" height="2.6" fill="#ec1c3c" fill-opacity=".7"/><rect x="321.6" y="1025.8" width="2.6" height="2.6" fill="#ec1c3c" fill-opacity=".7"/><rect x="302.5" y="1063.6" width="2.6" height="2.6" fill="#ec1c3c" fill-opacity=".7"/><rect x="332.0" y="1024.3" width="2.6" height="2.6" fill="#ec1c3c" fill-opacity=".7"/><rect x="284.9" y="1034.7" width="2.6" height="2.6" fill="#ec1c3c" fill-opacity=".7"/><rect x="298.5" y="1036.1" width="2.6" height="2.6" fill="#ec1c3c" fill-opacity=".7"/><rect x="330.9" y="1017.6" width="2.6" height="2.6" fill="#ec1c3c" fill-opacity=".7"/><rect x="289.3" y="1029.4" width="2.6" height="2.6" fill="#ec1c3c" fill-opacity=".7"/><rect x="302.5" y="1054.0" width="2.6" height="2.6" fill="#ec1c3c" fill-opacity=".7"/><rect x="286.6" y="1050.0" width="2.6" height="2.6" fill="#ec1c3c" fill-opacity=".7"/><rect x="317.5" y="1011.8" width="2.6" height="2.6" fill="#ec1c3c" fill-opacity=".7"/><rect x="318.6" y="1039.1" width="2.6" height="2.6" fill="#ec1c3c" fill-opacity=".7"/><rect x="242.6" y="1066.8" width="2.6" height="2.6" fill="#ec1c3c" fill-opacity=".7"/><rect x="302.0" y="1025.0" width="2.6" height="2.6" fill="#ec1c3c" fill-opacity=".7"/><rect x="325.6" y="1018.9" width="2.6" height="2.6" fill="#ec1c3c" fill-opacity=".7"/><rect x="272.6" y="1073.8" width="2.6" height="2.6" fill="#ec1c3c" fill-opacity=".7"/><rect x="334.2" y="1020.1" width="2.6" height="2.6" fill="#ec1c3c" fill-opacity=".7"/><rect x="356.6" y="1000.6" width="2.6" height="2.6" fill="#ec1c3c" fill-opacity=".7"/><rect x="307.3" y="1017.5" width="2.6" height="2.6" fill="#ec1c3c" fill-opacity=".7"/><rect x="327.4" y="1013.6" width="2.6" height="2.6" fill="#ec1c3c" fill-opacity=".7"/><rect x="286.9" y="1026.3" width="2.6" height="2.6" fill="#ec1c3c" fill-opacity=".7"/><rect x="274.9" y="1043.5" width="2.6" height="2.6" fill="#ec1c3c" fill-opacity=".7"/><rect x="345.1" y="993.9" width="2.6" height="2.6" fill="#ec1c3c" fill-opacity=".7"/><rect x="266.6" y="1064.5" width="2.6" height="2.6" fill="#ec1c3c" fill-opacity=".7"/><rect x="357.2" y="1001.5" width="2.6" height="2.6" fill="#ec1c3c" fill-opacity=".7"/><rect x="220.1" y="1025.6" width="2.6" height="2.6" fill="#ec1c3c" fill-opacity=".7"/><rect x="318.2" y="1017.5" width="2.6" height="2.6" fill="#ec1c3c" fill-opacity=".7"/><rect x="283.9" y="1067.1" width="2.6" height="2.6" fill="#ec1c3c" fill-opacity=".7"/><rect x="345.3" y="1007.0" width="2.6" height="2.6" fill="#ec1c3c" fill-opacity=".7"/><rect x="319.9" y="1027.6" width="2.6" height="2.6" fill="#ec1c3c" fill-opacity=".7"/><rect x="362.1" y="998.4" width="2.6" height="2.6" fill="#ec1c3c" fill-opacity=".7"/><rect x="328.5" y="1021.8" width="2.6" height="2.6" fill="#ec1c3c" fill-opacity=".7"/><rect x="274.5" y="1083.7" width="2.6" height="2.6" fill="#ec1c3c" fill-opacity=".7"/><rect x="341.7" y="1011.7" width="2.6" height="2.6" fill="#ec1c3c" fill-opacity=".7"/><rect x="240.1" y="1060.3" width="2.6" height="2.6" fill="#ec1c3c" fill-opacity=".7"/><rect x="331.6" y="1004.4" width="2.6" height="2.6" fill="#ec1c3c" fill-opacity=".7"/><rect x="310.5" y="1043.0" width="2.6" height="2.6" fill="#ec1c3c" fill-opacity=".7"/><rect x="284.8" y="1081.5" width="2.6" height="2.6" fill="#ec1c3c" fill-opacity=".7"/><rect x="327.0" y="1017.3" width="2.6" height="2.6" fill="#ec1c3c" fill-opacity=".7"/><rect x="323.2" y="1027.1" width="2.6" height="2.6" fill="#ec1c3c" fill-opacity=".7"/><rect x="319.7" y="1035.9" width="2.6" height="2.6" fill="#ec1c3c" fill-opacity=".7"/><rect x="286.0" y="1039.1" width="2.6" height="2.6" fill="#ec1c3c" fill-opacity=".7"/><rect x="343.0" y="1007.7" width="2.6" height="2.6" fill="#ec1c3c" fill-opacity=".7"/><rect x="290.4" y="1060.4" width="2.6" height="2.6" fill="#ec1c3c" fill-opacity=".7"/><rect x="355.1" y="996.8" width="2.6" height="2.6" fill="#ec1c3c" fill-opacity=".7"/><rect x="265.2" y="1057.1" width="2.6" height="2.6" fill="#ec1c3c" fill-opacity=".7"/><rect x="303.6" y="1030.3" width="2.6" height="2.6" fill="#ec1c3c" fill-opacity=".7"/><rect x="351.5" y="995.6" width="2.6" height="2.6" fill="#ec1c3c" fill-opacity=".7"/><rect x="346.3" y="997.7" width="2.6" height="2.6" fill="#ec1c3c" fill-opacity=".7"/><rect x="290.4" y="1054.2" width="2.6" height="2.6" fill="#ec1c3c" fill-opacity=".7"/><rect x="348.1" y="1009.3" width="2.6" height="2.6" fill="#ec1c3c" fill-opacity=".7"/><rect x="321.6" y="1023.4" width="2.6" height="2.6" fill="#ec1c3c" fill-opacity=".7"/><rect x="317.8" y="1030.8" width="2.6" height="2.6" fill="#ec1c3c" fill-opacity=".7"/><rect x="306.2" y="1036.1" width="2.6" height="2.6" fill="#ec1c3c" fill-opacity=".7"/><rect x="328.2" y="1017.6" width="2.6" height="2.6" fill="#ec1c3c" fill-opacity=".7"/><rect x="335.8" y="1016.0" width="2.6" height="2.6" fill="#ec1c3c" fill-opacity=".7"/><rect x="374.4" y="988.4" width="2.6" height="2.6" fill="#ec1c3c" fill-opacity=".7"/><rect x="294.0" y="1035.1" width="2.6" height="2.6" fill="#ec1c3c" fill-opacity=".7"/><rect x="314.8" y="1037.7" width="2.6" height="2.6" fill="#ec1c3c" fill-opacity=".7"/><rect x="302.0" y="1040.8" width="2.6" height="2.6" fill="#ec1c3c" fill-opacity=".7"/><rect x="360.9" y="980.1" width="2.6" height="2.6" fill="#ec1c3c" fill-opacity=".7"/><rect x="276.9" y="1057.1" width="2.6" height="2.6" fill="#ec1c3c" fill-opacity=".7"/><rect x="323.6" y="1022.8" width="2.6" height="2.6" fill="#ec1c3c" fill-opacity=".7"/><rect x="301.1" y="1045.7" width="2.6" height="2.6" fill="#ec1c3c" fill-opacity=".7"/><rect x="316.6" y="1020.3" width="2.6" height="2.6" fill="#ec1c3c" fill-opacity=".7"/><rect x="387.7" y="979.6" width="2.6" height="2.6" fill="#ec1c3c" fill-opacity=".7"/><rect x="291.9" y="1040.5" width="2.6" height="2.6" fill="#ec1c3c" fill-opacity=".7"/><rect x="302.6" y="1034.0" width="2.6" height="2.6" fill="#ec1c3c" fill-opacity=".7"/><rect x="216.9" y="1077.2" width="2.6" height="2.6" fill="#ec1c3c" fill-opacity=".7"/><rect x="338.6" y="1003.5" width="2.6" height="2.6" fill="#ec1c3c" fill-opacity=".7"/><rect x="313.4" y="1039.3" width="2.6" height="2.6" fill="#ec1c3c" fill-opacity=".7"/><rect x="341.3" y="1017.8" width="2.6" height="2.6" fill="#ec1c3c" fill-opacity=".7"/><rect x="252.5" y="1060.1" width="2.6" height="2.6" fill="#ec1c3c" fill-opacity=".7"/><rect x="303.5" y="1043.2" width="2.6" height="2.6" fill="#ec1c3c" fill-opacity=".7"/><rect x="337.0" y="995.4" width="2.6" height="2.6" fill="#ec1c3c" fill-opacity=".7"/><rect x="340.4" y="1000.6" width="2.6" height="2.6" fill="#ec1c3c" fill-opacity=".7"/><rect x="326.9" y="1008.3" width="2.6" height="2.6" fill="#ec1c3c" fill-opacity=".7"/><rect x="321.5" y="1034.7" width="2.6" height="2.6" fill="#ec1c3c" fill-opacity=".7"/><rect x="306.5" y="1034.7" width="2.6" height="2.6" fill="#ec1c3c" fill-opacity=".7"/><rect x="335.6" y="1013.4" width="2.6" height="2.6" fill="#ec1c3c" fill-opacity=".7"/><rect x="316.2" y="1044.8" width="2.6" height="2.6" fill="#ec1c3c" fill-opacity=".7"/><rect x="342.3" y="1006.3" width="2.6" height="2.6" fill="#ec1c3c" fill-opacity=".7"/><rect x="393.5" y="966.6" width="2.6" height="2.6" fill="#ec1c3c" fill-opacity=".7"/><rect x="338.2" y="1009.2" width="2.6" height="2.6" fill="#ec1c3c" fill-opacity=".7"/><rect x="317.8" y="1032.2" width="2.6" height="2.6" fill="#ec1c3c" fill-opacity=".7"/><rect x="320.1" y="1029.5" width="2.6" height="2.6" fill="#ec1c3c" fill-opacity=".7"/><rect x="245.8" y="1038.4" width="2.6" height="2.6" fill="#ec1c3c" fill-opacity=".7"/><rect x="326.2" y="1011.9" width="2.6" height="2.6" fill="#ec1c3c" fill-opacity=".7"/><rect x="264.5" y="1032.1" width="2.6" height="2.6" fill="#ec1c3c" fill-opacity=".7"/><rect x="352.1" y="1005.9" width="2.6" height="2.6" fill="#ec1c3c" fill-opacity=".7"/><rect x="353.9" y="994.6" width="2.6" height="2.6" fill="#ec1c3c" fill-opacity=".7"/><rect x="303.9" y="1020.5" width="2.6" height="2.6" fill="#ec1c3c" fill-opacity=".7"/><rect x="338.8" y="1020.3" width="2.6" height="2.6" fill="#ec1c3c" fill-opacity=".7"/><rect x="295.3" y="1068.4" width="2.6" height="2.6" fill="#ec1c3c" fill-opacity=".7"/><rect x="340.8" y="1008.0" width="2.6" height="2.6" fill="#ec1c3c" fill-opacity=".7"/><rect x="265.1" y="1097.2" width="2.6" height="2.6" fill="#ec1c3c" fill-opacity=".7"/><rect x="303.6" y="1026.7" width="2.6" height="2.6" fill="#ec1c3c" fill-opacity=".7"/><rect x="324.4" y="1023.8" width="2.6" height="2.6" fill="#ec1c3c" fill-opacity=".7"/><rect x="354.5" y="993.7" width="2.6" height="2.6" fill="#ec1c3c" fill-opacity=".7"/><rect x="350.1" y="1011.8" width="2.6" height="2.6" fill="#ec1c3c" fill-opacity=".7"/><rect x="355.4" y="998.1" width="2.6" height="2.6" fill="#ec1c3c" fill-opacity=".7"/><rect x="294.8" y="1057.7" width="2.6" height="2.6" fill="#ec1c3c" fill-opacity=".7"/><rect x="314.4" y="1028.3" width="2.6" height="2.6" fill="#ec1c3c" fill-opacity=".7"/><rect x="354.3" y="998.4" width="2.6" height="2.6" fill="#ec1c3c" fill-opacity=".7"/><rect x="232.5" y="1071.0" width="2.6" height="2.6" fill="#ec1c3c" fill-opacity=".7"/><rect x="261.3" y="1083.6" width="2.6" height="2.6" fill="#ec1c3c" fill-opacity=".7"/><rect x="317.4" y="1019.1" width="2.6" height="2.6" fill="#ec1c3c" fill-opacity=".7"/><rect x="314.4" y="1036.8" width="2.6" height="2.6" fill="#ec1c3c" fill-opacity=".7"/><rect x="319.5" y="1038.4" width="2.6" height="2.6" fill="#ec1c3c" fill-opacity=".7"/><rect x="314.1" y="1039.9" width="2.6" height="2.6" fill="#ec1c3c" fill-opacity=".7"/><rect x="361.6" y="1004.7" width="2.6" height="2.6" fill="#ec1c3c" fill-opacity=".7"/><rect x="295.8" y="1054.2" width="2.6" height="2.6" fill="#ec1c3c" fill-opacity=".7"/><rect x="238.1" y="1050.7" width="2.6" height="2.6" fill="#ec1c3c" fill-opacity=".7"/><rect x="261.2" y="1090.9" width="2.6" height="2.6" fill="#ec1c3c" fill-opacity=".7"/><rect x="271.1" y="1055.8" width="2.6" height="2.6" fill="#ec1c3c" fill-opacity=".7"/><rect x="303.9" y="1033.6" width="2.6" height="2.6" fill="#ec1c3c" fill-opacity=".7"/><rect x="293.2" y="1045.0" width="2.6" height="2.6" fill="#ec1c3c" fill-opacity=".7"/><rect x="366.7" y="991.9" width="2.6" height="2.6" fill="#ec1c3c" fill-opacity=".7"/><rect x="330.5" y="1024.0" width="2.6" height="2.6" fill="#ec1c3c" fill-opacity=".7"/><rect x="296.1" y="1022.5" width="2.6" height="2.6" fill="#ec1c3c" fill-opacity=".7"/><rect x="300.5" y="1053.4" width="2.6" height="2.6" fill="#ec1c3c" fill-opacity=".7"/><rect x="251.5" y="1055.0" width="2.6" height="2.6" fill="#ec1c3c" fill-opacity=".7"/><rect x="344.1" y="1011.7" width="2.6" height="2.6" fill="#ec1c3c" fill-opacity=".7"/><rect x="314.7" y="1036.2" width="2.6" height="2.6" fill="#ec1c3c" fill-opacity=".7"/><rect x="309.5" y="1017.7" width="2.6" height="2.6" fill="#ec1c3c" fill-opacity=".7"/><rect x="253.9" y="1052.8" width="2.6" height="2.6" fill="#ec1c3c" fill-opacity=".7"/><rect x="337.6" y="1007.8" width="2.6" height="2.6" fill="#ec1c3c" fill-opacity=".7"/><rect x="275.0" y="1039.2" width="2.6" height="2.6" fill="#ec1c3c" fill-opacity=".7"/><rect x="260.5" y="1060.5" width="2.6" height="2.6" fill="#ec1c3c" fill-opacity=".7"/><rect x="276.4" y="1060.0" width="2.6" height="2.6" fill="#ec1c3c" fill-opacity=".7"/><rect x="240.1" y="1086.6" width="2.6" height="2.6" fill="#ec1c3c" fill-opacity=".7"/><rect x="275.0" y="1021.4" width="2.6" height="2.6" fill="#ec1c3c" fill-opacity=".7"/><rect x="332.1" y="1013.1" width="2.6" height="2.6" fill="#ec1c3c" fill-opacity=".7"/><rect x="228.3" y="1060.3" width="2.6" height="2.6" fill="#ec1c3c" fill-opacity=".7"/><rect x="317.2" y="1020.6" width="2.6" height="2.6" fill="#ec1c3c" fill-opacity=".7"/><rect x="336.8" y="1016.3" width="2.6" height="2.6" fill="#ec1c3c" fill-opacity=".7"/><rect x="332.2" y="1017.2" width="2.6" height="2.6" fill="#ec1c3c" fill-opacity=".7"/><rect x="354.0" y="1004.2" width="2.6" height="2.6" fill="#ec1c3c" fill-opacity=".7"/><rect x="316.1" y="1008.0" width="2.6" height="2.6" fill="#ec1c3c" fill-opacity=".7"/><rect x="342.0" y="1016.2" width="2.6" height="2.6" fill="#ec1c3c" fill-opacity=".7"/><rect x="297.7" y="1031.6" width="2.6" height="2.6" fill="#ec1c3c" fill-opacity=".7"/><rect x="366.4" y="981.2" width="2.6" height="2.6" fill="#ec1c3c" fill-opacity=".7"/><rect x="334.3" y="1033.8" width="2.6" height="2.6" fill="#ec1c3c" fill-opacity=".7"/><rect x="286.8" y="1058.4" width="2.6" height="2.6" fill="#ec1c3c" fill-opacity=".7"/><rect x="369.3" y="989.2" width="2.6" height="2.6" fill="#ec1c3c" fill-opacity=".7"/><rect x="331.0" y="1022.6" width="2.6" height="2.6" fill="#ec1c3c" fill-opacity=".7"/><rect x="280.8" y="1047.9" width="2.6" height="2.6" fill="#ec1c3c" fill-opacity=".7"/><rect x="323.0" y="1029.1" width="2.6" height="2.6" fill="#ec1c3c" fill-opacity=".7"/><rect x="307.9" y="1028.9" width="2.6" height="2.6" fill="#ec1c3c" fill-opacity=".7"/><rect x="274.8" y="1046.7" width="2.6" height="2.6" fill="#ec1c3c" fill-opacity=".7"/><rect x="338.5" y="1011.2" width="2.6" height="2.6" fill="#ec1c3c" fill-opacity=".7"/><rect x="276.1" y="1037.5" width="2.6" height="2.6" fill="#ec1c3c" fill-opacity=".7"/><rect x="397.4" y="977.8" width="2.6" height="2.6" fill="#ec1c3c" fill-opacity=".7"/><rect x="321.6" y="1003.5" width="2.6" height="2.6" fill="#ec1c3c" fill-opacity=".7"/><rect x="331.3" y="1019.0" width="2.6" height="2.6" fill="#ec1c3c" fill-opacity=".7"/><rect x="364.4" y="995.7" width="2.6" height="2.6" fill="#ec1c3c" fill-opacity=".7"/><rect x="311.0" y="1035.7" width="2.6" height="2.6" fill="#ec1c3c" fill-opacity=".7"/><rect x="261.3" y="1089.7" width="2.6" height="2.6" fill="#ec1c3c" fill-opacity=".7"/><rect x="317.3" y="1018.3" width="2.6" height="2.6" fill="#ec1c3c" fill-opacity=".7"/><rect x="357.0" y="1009.1" width="2.6" height="2.6" fill="#ec1c3c" fill-opacity=".7"/><rect x="259.0" y="1049.5" width="2.6" height="2.6" fill="#ec1c3c" fill-opacity=".7"/><rect x="320.1" y="1024.8" width="2.6" height="2.6" fill="#ec1c3c" fill-opacity=".7"/><rect x="290.9" y="1028.4" width="2.6" height="2.6" fill="#ec1c3c" fill-opacity=".7"/><rect x="379.9" y="989.0" width="2.6" height="2.6" fill="#ec1c3c" fill-opacity=".7"/><rect x="259.6" y="1036.2" width="2.6" height="2.6" fill="#ec1c3c" fill-opacity=".7"/><rect x="366.6" y="997.7" width="2.6" height="2.6" fill="#ec1c3c" fill-opacity=".7"/><rect x="369.8" y="994.4" width="2.6" height="2.6" fill="#ec1c3c" fill-opacity=".7"/><rect x="284.8" y="1051.6" width="2.6" height="2.6" fill="#ec1c3c" fill-opacity=".7"/><rect x="232.4" y="1061.5" width="2.6" height="2.6" fill="#ec1c3c" fill-opacity=".7"/><rect x="311.2" y="1035.5" width="2.6" height="2.6" fill="#ec1c3c" fill-opacity=".7"/><rect x="286.2" y="1043.8" width="2.6" height="2.6" fill="#ec1c3c" fill-opacity=".7"/><rect x="326.0" y="1022.2" width="2.6" height="2.6" fill="#ec1c3c" fill-opacity=".7"/><rect x="330.9" y="1017.3" width="2.6" height="2.6" fill="#ec1c3c" fill-opacity=".7"/><rect x="305.1" y="1044.4" width="2.6" height="2.6" fill="#ec1c3c" fill-opacity=".7"/><rect x="307.3" y="1022.2" width="2.6" height="2.6" fill="#ec1c3c" fill-opacity=".7"/><rect x="290.4" y="1043.1" width="2.6" height="2.6" fill="#ec1c3c" fill-opacity=".7"/><rect x="307.6" y="1033.5" width="2.6" height="2.6" fill="#ec1c3c" fill-opacity=".7"/><rect x="311.0" y="1031.2" width="2.6" height="2.6" fill="#ec1c3c" fill-opacity=".7"/><rect x="298.4" y="1021.6" width="2.6" height="2.6" fill="#ec1c3c" fill-opacity=".7"/><rect x="327.7" y="1027.2" width="2.6" height="2.6" fill="#ec1c3c" fill-opacity=".7"/><rect x="323.1" y="1019.4" width="2.6" height="2.6" fill="#ec1c3c" fill-opacity=".7"/><rect x="320.3" y="1014.6" width="2.6" height="2.6" fill="#ec1c3c" fill-opacity=".7"/><rect x="251.0" y="1071.2" width="2.6" height="2.6" fill="#ec1c3c" fill-opacity=".7"/><rect x="287.2" y="1059.1" width="2.6" height="2.6" fill="#ec1c3c" fill-opacity=".7"/><rect x="251.8" y="1017.1" width="2.6" height="2.6" fill="#ec1c3c" fill-opacity=".7"/><rect x="291.6" y="1073.0" width="2.6" height="2.6" fill="#ec1c3c" fill-opacity=".7"/><rect x="288.8" y="1024.1" width="2.6" height="2.6" fill="#ec1c3c" fill-opacity=".7"/><rect x="290.2" y="1052.3" width="2.6" height="2.6" fill="#ec1c3c" fill-opacity=".7"/><rect x="326.4" y="1020.2" width="2.6" height="2.6" fill="#ec1c3c" fill-opacity=".7"/><rect x="358.9" y="1001.2" width="2.6" height="2.6" fill="#ec1c3c" fill-opacity=".7"/><rect x="312.8" y="1035.2" width="2.6" height="2.6" fill="#ec1c3c" fill-opacity=".7"/><rect x="365.0" y="998.6" width="2.6" height="2.6" fill="#ec1c3c" fill-opacity=".7"/><rect x="339.4" y="1003.5" width="2.6" height="2.6" fill="#ec1c3c" fill-opacity=".7"/><rect x="309.8" y="1039.4" width="2.6" height="2.6" fill="#ec1c3c" fill-opacity=".7"/><rect x="307.7" y="1046.4" width="2.6" height="2.6" fill="#ec1c3c" fill-opacity=".7"/><rect x="332.0" y="1021.8" width="2.6" height="2.6" fill="#ec1c3c" fill-opacity=".7"/><rect x="319.2" y="1057.8" width="2.6" height="2.6" fill="#ec1c3c" fill-opacity=".7"/><rect x="348.6" y="1002.5" width="2.6" height="2.6" fill="#ec1c3c" fill-opacity=".7"/><rect x="326.4" y="1047.8" width="2.6" height="2.6" fill="#ec1c3c" fill-opacity=".7"/><rect x="305.1" y="1045.7" width="2.6" height="2.6" fill="#ec1c3c" fill-opacity=".7"/><rect x="341.0" y="1009.0" width="2.6" height="2.6" fill="#ec1c3c" fill-opacity=".7"/><rect x="275.1" y="1057.3" width="2.6" height="2.6" fill="#ec1c3c" fill-opacity=".7"/><rect x="326.3" y="1029.3" width="2.6" height="2.6" fill="#ec1c3c" fill-opacity=".7"/><rect x="334.9" y="1013.2" width="2.6" height="2.6" fill="#ec1c3c" fill-opacity=".7"/><rect x="338.5" y="1013.9" width="2.6" height="2.6" fill="#ec1c3c" fill-opacity=".7"/><rect x="316.9" y="1025.8" width="2.6" height="2.6" fill="#ec1c3c" fill-opacity=".7"/><rect x="306.8" y="1041.4" width="2.6" height="2.6" fill="#ec1c3c" fill-opacity=".7"/><rect x="271.1" y="1043.8" width="2.6" height="2.6" fill="#ec1c3c" fill-opacity=".7"/><rect x="302.2" y="1017.8" width="2.6" height="2.6" fill="#ec1c3c" fill-opacity=".7"/><rect x="282.3" y="1018.3" width="2.6" height="2.6" fill="#ec1c3c" fill-opacity=".7"/><rect x="293.0" y="1050.9" width="2.6" height="2.6" fill="#ec1c3c" fill-opacity=".7"/><rect x="327.8" y="1017.5" width="2.6" height="2.6" fill="#ec1c3c" fill-opacity=".7"/><rect x="293.9" y="1021.6" width="2.6" height="2.6" fill="#ec1c3c" fill-opacity=".7"/><rect x="369.2" y="993.0" width="2.6" height="2.6" fill="#ec1c3c" fill-opacity=".7"/><rect x="342.1" y="1002.9" width="2.6" height="2.6" fill="#ec1c3c" fill-opacity=".7"/><rect x="293.1" y="1017.2" width="2.6" height="2.6" fill="#ec1c3c" fill-opacity=".7"/><rect x="337.4" y="1017.1" width="2.6" height="2.6" fill="#ec1c3c" fill-opacity=".7"/><rect x="249.6" y="1069.3" width="2.6" height="2.6" fill="#ec1c3c" fill-opacity=".7"/><rect x="324.1" y="1007.7" width="2.6" height="2.6" fill="#ec1c3c" fill-opacity=".7"/><rect x="240.1" y="1050.2" width="2.6" height="2.6" fill="#ec1c3c" fill-opacity=".7"/><rect x="279.5" y="1027.3" width="2.6" height="2.6" fill="#ec1c3c" fill-opacity=".7"/><rect x="312.4" y="1031.1" width="2.6" height="2.6" fill="#ec1c3c" fill-opacity=".7"/><rect x="332.4" y="1019.8" width="2.6" height="2.6" fill="#ec1c3c" fill-opacity=".7"/><rect x="360.8" y="1002.7" width="2.6" height="2.6" fill="#ec1c3c" fill-opacity=".7"/><rect x="263.7" y="1050.3" width="2.6" height="2.6" fill="#ec1c3c" fill-opacity=".7"/><rect x="266.9" y="1037.8" width="2.6" height="2.6" fill="#ec1c3c" fill-opacity=".7"/><rect x="307.6" y="1031.6" width="2.6" height="2.6" fill="#ec1c3c" fill-opacity=".7"/><rect x="319.5" y="1010.4" width="2.6" height="2.6" fill="#ec1c3c" fill-opacity=".7"/><rect x="270.8" y="1055.8" width="2.6" height="2.6" fill="#ec1c3c" fill-opacity=".7"/><rect x="301.9" y="1031.2" width="2.6" height="2.6" fill="#ec1c3c" fill-opacity=".7"/><rect x="303.8" y="1024.7" width="2.6" height="2.6" fill="#ec1c3c" fill-opacity=".7"/><rect x="333.3" y="1016.5" width="2.6" height="2.6" fill="#ec1c3c" fill-opacity=".7"/><rect x="303.4" y="1025.9" width="2.6" height="2.6" fill="#ec1c3c" fill-opacity=".7"/><rect x="288.1" y="1009.0" width="2.6" height="2.6" fill="#ec1c3c" fill-opacity=".7"/><rect x="279.5" y="1051.2" width="2.6" height="2.6" fill="#ec1c3c" fill-opacity=".7"/><rect x="264.8" y="1064.9" width="2.6" height="2.6" fill="#ec1c3c" fill-opacity=".7"/><rect x="307.9" y="1016.5" width="2.6" height="2.6" fill="#ec1c3c" fill-opacity=".7"/><rect x="300.2" y="1032.2" width="2.6" height="2.6" fill="#ec1c3c" fill-opacity=".7"/><rect x="327.0" y="1023.6" width="2.6" height="2.6" fill="#ec1c3c" fill-opacity=".7"/><rect x="304.2" y="1023.5" width="2.6" height="2.6" fill="#ec1c3c" fill-opacity=".7"/><rect x="305.2" y="1032.3" width="2.6" height="2.6" fill="#ec1c3c" fill-opacity=".7"/><rect x="334.1" y="1015.5" width="2.6" height="2.6" fill="#ec1c3c" fill-opacity=".7"/><rect x="276.5" y="1029.2" width="2.6" height="2.6" fill="#ec1c3c" fill-opacity=".7"/><rect x="293.3" y="1030.3" width="2.6" height="2.6" fill="#ec1c3c" fill-opacity=".7"/><rect x="274.0" y="1051.9" width="2.6" height="2.6" fill="#ec1c3c" fill-opacity=".7"/><rect x="295.4" y="1041.4" width="2.6" height="2.6" fill="#ec1c3c" fill-opacity=".7"/><rect x="325.1" y="1016.4" width="2.6" height="2.6" fill="#ec1c3c" fill-opacity=".7"/><rect x="382.5" y="979.0" width="2.6" height="2.6" fill="#ec1c3c" fill-opacity=".7"/><rect x="345.2" y="1006.9" width="2.6" height="2.6" fill="#ec1c3c" fill-opacity=".7"/><text x="15" y="840" font-size="24" fill="#8a8a8a" textLength="58" lengthAdjust="spacingAndGlyphs">2000</text><text x="45" y="1217" font-size="22" fill="#8a8a8a" text-anchor="middle">0</text><text x="315" y="1217" font-size="22" fill="#9a9a9a" text-anchor="middle" letter-spacing="1">RRN(ms)</text><text x="585" y="1217" font-size="24" fill="#8a8a8a" text-anchor="middle" letter-spacing="1">2000</text><text transform="translate(36 1022) rotate(90)" font-size="23" fill="#777" text-anchor="middle">RRN+1(ms)</text></svg><div class="t" style="top:1266.8px;font-size:33px;color:#444;font-weight:500;left:20px;">洛伦兹散点图参考</div><div class="a" style="left:15px;top:1318px;width:625px;height:120px;background:#fff;border-radius:14px;box-shadow:0 0 14px rgba(0,0,0,.09);"></div><div class="t" style="top:1348.2px;font-size:24px;color:#333;font-weight:700;left:315px;transform:translateX(-50%);transform-origin:50% 50%;opacity:.75;clip-path:inset(0 0 45% 0);">散点图</div><div class="a" style="left:0px;top:1366px;width:652px;height:50px;background:linear-gradient(rgba(255,255,255,.3),#fff 40%);"></div><div class="a" style="left:212px;top:1394px;width:232px;height:7px;background:#111;border-radius:3.5px;"></div></div>
<div class="p" style="left:1957.0px;top:16px;width:655.0px;height:1412px;background:#fff"><div class="a" style="left:0;top:0;width:652px;height:1412px;transform:scaleX(1.0062);transform-origin:0 0"><div class="a" style="left:0px;top:0px;width:652px;height:517px;background:#ff8e10;"></div><div class="t" style="top:26.3px;font-size:28px;color:#111;font-weight:700;left:60px;transform:scaleX(1.04);transform-origin:0 50%;">19:20</div><svg class="a" style="left:143px;top:28px;" width="20" height="24" viewBox="0 0 20 24"><rect x="0.5" y="0.5" width="19" height="23" rx="4.5" fill="#111"/><rect x="5" y="5" width="10" height="7" rx="1" fill="#111" stroke="BGC" stroke-opacity=".0"/><path d="M6 17.5 H14 M10 9 V17" stroke="#888" stroke-opacity=".55" stroke-width="2"/></svg><svg class="a" style="left:471px;top:28px;" width="32" height="20" viewBox="0 0 32 20"><rect x="0" y="6" width="6" height="4" rx="1.2" fill="#111" opacity="1"/><rect x="8" y="4" width="6" height="6" rx="1.2" fill="#111" opacity="1"/><rect x="16" y="2" width="6" height="8" rx="1.2" fill="#111" opacity="1"/><rect x="24" y="0" width="6" height="10" rx="1.2" fill="#111" opacity="0.3"/><rect x="0" y="14" width="6" height="5.5" rx="1.5" fill="#111" opacity="1"/><rect x="8" y="14" width="6" height="5.5" rx="1.5" fill="#111" opacity="1"/><rect x="16" y="14" width="6" height="5.5" rx="1.5" fill="#111" opacity="0.3"/><rect x="24" y="14" width="6" height="5.5" rx="1.5" fill="#111" opacity="0.3"/></svg><svg class="a" style="left:514px;top:27px;" width="32" height="26" viewBox="0 0 32 26"><path d="M2 9 A19 19 0 0 1 30 9" fill="none" stroke="#111" stroke-width="4.2" stroke-linecap="round"/><path d="M8 15 A11.5 11.5 0 0 1 24 15" fill="none" stroke="#111" stroke-width="4.2" stroke-linecap="round"/><circle cx="16" cy="21" r="3" fill="#111"/></svg><div class="a" style="left:556px;top:28px;width:42px;height:22px;background:#62d66e;border-radius:6px;"></div><div class="a" style="left:598px;top:35px;width:3px;height:8px;background:#62d66e;border-radius:1.5px;"></div><div class="t" style="top:29.2px;font-size:21px;color:#fff;font-weight:700;letter-spacing:-0.3px;left:577px;transform:translateX(-50%);transform-origin:50% 50%;">99+</div><svg class="a" style="left:36px;top:99px;" width="20" height="32" viewBox="0 0 20 32"><path d="M17 3 L4 16 L17 29" fill="none" stroke="#fff" stroke-width="4" stroke-linecap="round" stroke-linejoin="round"/></svg><div class="t" style="top:101.3px;font-size:28px;color:#fff;font-weight:700;left:326px;transform:translateX(-50%);transform-origin:50% 50%;">血压</div><svg class="a" style="left:596px;top:98px;" width="32" height="34" viewBox="0 0 32 34"><g fill="none" stroke="#fff" stroke-width="3"><circle cx="24" cy="7" r="4.6"/><circle cx="7" cy="17" r="4.6"/><circle cx="24" cy="27" r="4.6"/><path d="M11 14.5 L20 9.5 M11 19.5 L20 24.5"/></g></svg><div class="a" style="left:0px;top:152px;width:652px;height:2px;background:rgba(255,255,255,.28);"></div><div class="a" style="left:177px;top:180px;width:36px;height:36px;background:rgba(255,255,255,.22);border-radius:18px;"></div><svg class="a" style="left:187px;top:187px;" width="14" height="22" viewBox="0 0 14 22"><path d="M11 1 L2.5 11 L11 21" fill="none" stroke="#fff" stroke-opacity=".95" stroke-width="4" stroke-linecap="round" stroke-linejoin="round"/></svg><div class="t" style="top:183.8px;font-size:29px;color:#fff;font-weight:700;left:327px;transform:translateX(-50%) scaleX(1.17);transform-origin:50% 50%;">2023-09-25</div><div class="a" style="left:440px;top:180px;width:36px;height:36px;background:rgba(255,255,255,.16);border-radius:18px;"></div><svg class="a" style="left:452px;top:187px;" width="14" height="22" viewBox="0 0 14 22"><path d="M3 1 L11.5 11 L3 21" fill="none" stroke="#fff" stroke-opacity=".5" stroke-width="4" stroke-linecap="round" stroke-linejoin="round"/></svg><svg class="a" style="left:500px;top:180px;" width="36" height="34" viewBox="0 0 36 34"><rect x="2" y="5" width="32" height="27" rx="4" fill="#fff" fill-opacity=".45" stroke="#fff" stroke-width="3"/><rect x="2" y="5" width="32" height="9" rx="3" fill="#fff"/><rect x="8.5" y="0" width="4" height="8" rx="2" fill="#fff"/><rect x="23.5" y="0" width="4" height="8" rx="2" fill="#fff"/><g fill="#fff"><rect x="8" y="17" width="3.4" height="11"/><rect x="14" y="17" width="3.4" height="11"/><rect x="20" y="17" width="3.4" height="11"/><rect x="26" y="17" width="3.4" height="11"/></g></svg><svg class="a" style="left:0px;top:0px;" width="652" height="517" viewBox="0 0 652 517"><line x1="55" y1="276" x2="652" y2="276" stroke="#fff" stroke-opacity=".5" stroke-width="3.4"/><text x="43" y="283.5" font-size="21" fill="#fff" fill-opacity=".95" text-anchor="end" letter-spacing=".5" stroke="#fff" stroke-width=".7">230</text><line x1="55" y1="328" x2="652" y2="328" stroke="#fff" stroke-opacity=".5" stroke-width="3.4"/><text x="43" y="335.5" font-size="21" fill="#fff" fill-opacity=".95" text-anchor="end" letter-spacing=".5" stroke="#fff" stroke-width=".7">180</text><line x1="55" y1="380" x2="652" y2="380" stroke="#fff" stroke-opacity=".5" stroke-width="3.4"/><text x="43" y="387.5" font-size="21" fill="#fff" fill-opacity=".95" text-anchor="end" letter-spacing=".5" stroke="#fff" stroke-width=".7">130</text><line x1="55" y1="432" x2="652" y2="432" stroke="#fff" stroke-opacity=".5" stroke-width="3.4"/><text x="43" y="439.5" font-size="21" fill="#fff" fill-opacity=".95" text-anchor="end" letter-spacing=".5" stroke="#fff" stroke-width=".7">80</text><line x1="55" y1="484" x2="652" y2="484" stroke="#fff" stroke-opacity=".5" stroke-width="3.4"/><text x="43" y="491.5" font-size="21" fill="#fff" fill-opacity=".95" text-anchor="end" letter-spacing=".5" stroke="#fff" stroke-width=".7">30</text><text x="90.0" y="509.5" font-size="17" font-weight="700" fill="#fff" fill-opacity=".7" text-anchor="middle">00:00</text><line x1="90.0" y1="394" x2="90.0" y2="429" stroke="#fff" stroke-opacity=".8" stroke-width="4.5"/><circle cx="90.0" cy="394" r="6.2" fill="#fff8ee"/><circle cx="90.0" cy="429" r="6.2" fill="#fff8ee"/><text x="159.3" y="509.5" font-size="17" font-weight="700" fill="#fff" fill-opacity=".7" text-anchor="middle">00:05</text><line x1="159.3" y1="386" x2="159.3" y2="432" stroke="#fff" stroke-opacity=".8" stroke-width="4.5"/><circle cx="159.3" cy="386" r="6.2" fill="#fff8ee"/><circle cx="159.3" cy="432" r="6.2" fill="#fff8ee"/><text x="228.6" y="509.5" font-size="17" font-weight="700" fill="#fff" fill-opacity=".7" text-anchor="middle">00:10</text><line x1="228.6" y1="382" x2="228.6" y2="436" stroke="#fff" stroke-opacity=".8" stroke-width="4.5"/><circle cx="228.6" cy="382" r="6.2" fill="#fff8ee"/><circle cx="228.6" cy="436" r="6.2" fill="#fff8ee"/><text x="297.9" y="509.5" font-size="17" font-weight="700" fill="#fff" fill-opacity=".7" text-anchor="middle">00:15</text><line x1="297.9" y1="382" x2="297.9" y2="436" stroke="#fff" stroke-opacity=".8" stroke-width="4.5"/><circle cx="297.9" cy="382" r="6.2" fill="#fff8ee"/><circle cx="297.9" cy="436" r="6.2" fill="#fff8ee"/><text x="367.2" y="509.5" font-size="17" font-weight="700" fill="#fff" fill-opacity=".7" text-anchor="middle">00:20</text><line x1="367.2" y1="394" x2="367.2" y2="434" stroke="#fff" stroke-opacity=".8" stroke-width="4.5"/><circle cx="367.2" cy="394" r="6.2" fill="#fff8ee"/><circle cx="367.2" cy="434" r="6.2" fill="#fff8ee"/><text x="436.5" y="509.5" font-size="17" font-weight="700" fill="#fff" fill-opacity=".7" text-anchor="middle">00:25</text><line x1="436.5" y1="382" x2="436.5" y2="434" stroke="#fff" stroke-opacity=".8" stroke-width="4.5"/><circle cx="436.5" cy="382" r="6.2" fill="#fff8ee"/><circle cx="436.5" cy="434" r="6.2" fill="#fff8ee"/><text x="505.8" y="509.5" font-size="17" font-weight="700" fill="#fff" fill-opacity=".7" text-anchor="middle">00:30</text><line x1="505.8" y1="390" x2="505.8" y2="429" stroke="#fff" stroke-opacity=".8" stroke-width="4.5"/><circle cx="505.8" cy="390" r="6.2" fill="#fff8ee"/><circle cx="505.8" cy="429" r="6.2" fill="#fff8ee"/><text x="575.1" y="509.5" font-size="17" font-weight="700" fill="#fff" fill-opacity=".7" text-anchor="middle">00:35</text><line x1="575.1" y1="384" x2="575.1" y2="426" stroke="#fff" stroke-opacity=".8" stroke-width="4.5"/><circle cx="575.1" cy="384" r="6.2" fill="#fff8ee"/><circle cx="575.1" cy="426" r="6.2" fill="#fff8ee"/><text x="644.4" y="509.5" font-size="17" font-weight="700" fill="#fff" fill-opacity=".7" text-anchor="middle">00:40</text><line x1="644.4" y1="394" x2="644.4" y2="431" stroke="#fff" stroke-opacity=".8" stroke-width="4.5"/><circle cx="644.4" cy="394" r="6.2" fill="#fff8ee"/><circle cx="644.4" cy="431" r="6.2" fill="#fff8ee"/></svg><div class="a" style="left:0px;top:517px;width:652px;height:209px;background:#fdeedd;"></div><div class="t" style="top:538.8px;font-size:25px;color:#888;letter-spacing:1px;left:190px;transform:translateX(-50%);transform-origin:50% 50%;">最低血压</div><div class="t" style="top:576.4px;font-size:40px;color:#333;left:190px;transform:translateX(-50%) scaleX(0.7);transform-origin:50% 50%;-webkit-text-stroke:.7px #333;">111/89</div><div class="t" style="top:639.8px;font-size:25px;color:#888;letter-spacing:1px;left:190px;transform:translateX(-50%);transform-origin:50% 50%;">测得时间</div><div class="t" style="top:676.4px;font-size:40px;color:#333;left:190px;transform:translateX(-50%) scaleX(0.7);transform-origin:50% 50%;-webkit-text-stroke:.7px #333;">05:15</div><svg class="a" style="left:62px;top:569px;" width="40" height="40" viewBox="0 0 40 40"><path d="M2 24 L8 8 Q11 1 14 8 L22 30 Q25 37 28 30 L33 16 L38 18" fill="none" stroke="#5ab4e6" stroke-width="3.4" stroke-linecap="round" stroke-linejoin="round"/></svg><svg class="a" style="left:62px;top:672px;" width="38" height="38" viewBox="0 0 38 38"><circle cx="19" cy="19" r="16.5" fill="none" stroke="#777" stroke-width="2.6"/><path d="M19 9 V19 L25 23" fill="none" stroke="#777" stroke-width="2.6" stroke-linecap="round"/></svg><div class="t" style="top:538.8px;font-size:25px;color:#888;letter-spacing:1px;left:515px;transform:translateX(-50%);transform-origin:50% 50%;">最高血压</div><div class="t" style="top:576.4px;font-size:40px;color:#333;left:515px;transform:translateX(-50%) scaleX(0.7);transform-origin:50% 50%;-webkit-text-stroke:.7px #333;">129/79</div><div class="t" style="top:639.8px;font-size:25px;color:#888;letter-spacing:1px;left:515px;transform:translateX(-50%);transform-origin:50% 50%;">测得时间</div><div class="t" style="top:676.4px;font-size:40px;color:#333;left:515px;transform:translateX(-50%) scaleX(0.7);transform-origin:50% 50%;-webkit-text-stroke:.7px #333;">04:30</div><svg class="a" style="left:387px;top:569px;" width="40" height="40" viewBox="0 0 40 40"><path d="M2 24 L8 8 Q11 1 14 8 L22 30 Q25 37 28 30 L33 16 L38 18" fill="none" stroke="#ec7438" stroke-width="3.4" stroke-linecap="round" stroke-linejoin="round"/></svg><svg class="a" style="left:387px;top:672px;" width="38" height="38" viewBox="0 0 38 38"><circle cx="19" cy="19" r="16.5" fill="none" stroke="#777" stroke-width="2.6"/><path d="M19 9 V19 L25 23" fill="none" stroke="#777" stroke-width="2.6" stroke-linecap="round"/></svg><div class="t" style="top:763.8px;font-size:27px;color:#333;font-weight:700;left:30px;">血压</div><div class="a" style="left:28px;top:795px;width:600px;height:2.5px;background:#e6e6e6;"></div><div class="t" style="top:821.8px;font-size:31px;color:#aaa;left:48px;transform:scaleX(0.7);transform-origin:0 50%;">19:05</div><svg class="a" style="left:298px;top:812.0px;" width="58" height="44" viewBox="0 0 58 44"><path d="M9.3 40.8 A24 24 0 1 1 48.7 40.8 Z" fill="#f0fbe6"/><path d="M9.3 40.8 A24 24 0 1 1 48.7 40.8" fill="none" stroke="#8fe268" stroke-width="4.5" stroke-linecap="round"/><path d="M15 36.5 A17 17 0 1 1 43 36.5" fill="none" stroke="#b4ec96" stroke-width="6" stroke-dasharray="2.4 4.2"/><path d="M38 17 L43 13 M43 25 L48 23" stroke="#f1d267" stroke-width="3"/><circle cx="29" cy="30" r="3.6" fill="#7ed957"/><path d="M29 11 V19" stroke="#7ed957" stroke-width="2.8"/><rect x="10" y="34.5" width="8" height="3.6" fill="#2f5a1e"/><rect x="11" y="25.5" width="6" height="3" fill="#4da332"/><rect x="40" y="34.5" width="8" height="3.6" fill="#d0301f"/><rect x="41" y="25.5" width="6" height="3" fill="#f08a42"/></svg><div class="t" style="top:816.9px;font-size:41px;color:#444;left:612px;transform:translateX(-100%) scaleX(0.7);transform-origin:100% 50%;-webkit-text-stroke:.6px #444;">112/80</div><div class="a" style="left:28px;top:872.0px;width:600px;height:2.5px;background:#e6e6e6;"></div><div class="t" style="top:898.1px;font-size:31px;color:#aaa;left:48px;transform:scaleX(0.7);transform-origin:0 50%;">19:00</div><svg class="a" style="left:298px;top:888.3px;" width="58" height="44" viewBox="0 0 58 44"><path d="M9.3 40.8 A24 24 0 1 1 48.7 40.8 Z" fill="#f0fbe6"/><path d="M9.3 40.8 A24 24 0 1 1 48.7 40.8" fill="none" stroke="#8fe268" stroke-width="4.5" stroke-linecap="round"/><path d="M15 36.5 A17 17 0 1 1 43 36.5" fill="none" stroke="#b4ec96" stroke-width="6" stroke-dasharray="2.4 4.2"/><path d="M38 17 L43 13 M43 25 L48 23" stroke="#f1d267" stroke-width="3"/><circle cx="29" cy="30" r="3.6" fill="#7ed957"/><path d="M29 11 V19" stroke="#7ed957" stroke-width="2.8"/><rect x="10" y="34.5" width="8" height="3.6" fill="#2f5a1e"/><rect x="11" y="25.5" width="6" height="3" fill="#4da332"/><rect x="40" y="34.5" width="8" height="3.6" fill="#d0301f"/><rect x="41" y="25.5" width="6" height="3" fill="#f08a42"/></svg><div class="t" style="top:893.2px;font-size:41px;color:#444;left:612px;transform:translateX(-100%) scaleX(0.7);transform-origin:100% 50%;-webkit-text-stroke:.6px #444;">124/79</div><div class="a" style="left:28px;top:948.3px;width:600px;height:2.5px;background:#e6e6e6;"></div><div class="t" style="top:974.4px;font-size:31px;color:#aaa;left:48px;transform:scaleX(0.7);transform-origin:0 50%;">18:55</div><svg class="a" style="left:298px;top:964.6px;" width="58" height="44" viewBox="0 0 58 44"><path d="M9.3 40.8 A24 24 0 1 1 48.7 40.8 Z" fill="#f0fbe6"/><path d="M9.3 40.8 A24 24 0 1 1 48.7 40.8" fill="none" stroke="#8fe268" stroke-width="4.5" stroke-linecap="round"/><path d="M15 36.5 A17 17 0 1 1 43 36.5" fill="none" stroke="#b4ec96" stroke-width="6" stroke-dasharray="2.4 4.2"/><path d="M38 17 L43 13 M43 25 L48 23" stroke="#f1d267" stroke-width="3"/><circle cx="29" cy="30" r="3.6" fill="#7ed957"/><path d="M29 11 V19" stroke="#7ed957" stroke-width="2.8"/><rect x="10" y="34.5" width="8" height="3.6" fill="#2f5a1e"/><rect x="11" y="25.5" width="6" height="3" fill="#4da332"/><rect x="40" y="34.5" width="8" height="3.6" fill="#d0301f"/><rect x="41" y="25.5" width="6" height="3" fill="#f08a42"/></svg><div class="t" style="top:969.5px;font-size:41px;color:#444;left:612px;transform:translateX(-100%) scaleX(0.7);transform-origin:100% 50%;-webkit-text-stroke:.6px #444;">120/78</div><div class="a" style="left:28px;top:1024.6px;width:600px;height:2.5px;background:#e6e6e6;"></div><div class="t" style="top:1050.7px;font-size:31px;color:#aaa;left:48px;transform:scaleX(0.7);transform-origin:0 50%;">18:50</div><svg class="a" style="left:298px;top:1040.9px;" width="58" height="44" viewBox="0 0 58 44"><path d="M9.3 40.8 A24 24 0 1 1 48.7 40.8 Z" fill="#f0fbe6"/><path d="M9.3 40.8 A24 24 0 1 1 48.7 40.8" fill="none" stroke="#8fe268" stroke-width="4.5" stroke-linecap="round"/><path d="M15 36.5 A17 17 0 1 1 43 36.5" fill="none" stroke="#b4ec96" stroke-width="6" stroke-dasharray="2.4 4.2"/><path d="M38 17 L43 13 M43 25 L48 23" stroke="#f1d267" stroke-width="3"/><circle cx="29" cy="30" r="3.6" fill="#7ed957"/><path d="M29 11 V19" stroke="#7ed957" stroke-width="2.8"/><rect x="10" y="34.5" width="8" height="3.6" fill="#2f5a1e"/><rect x="11" y="25.5" width="6" height="3" fill="#4da332"/><rect x="40" y="34.5" width="8" height="3.6" fill="#d0301f"/><rect x="41" y="25.5" width="6" height="3" fill="#f08a42"/></svg><div class="t" style="top:1045.8px;font-size:41px;color:#444;left:612px;transform:translateX(-100%) scaleX(0.7);transform-origin:100% 50%;-webkit-text-stroke:.6px #444;">113/78</div><div class="a" style="left:28px;top:1100.9px;width:600px;height:2.5px;background:#e6e6e6;"></div><div class="t" style="top:1127.0px;font-size:31px;color:#aaa;left:48px;transform:scaleX(0.7);transform-origin:0 50%;">18:45</div><svg class="a" style="left:298px;top:1117.2px;" width="58" height="44" viewBox="0 0 58 44"><path d="M9.3 40.8 A24 24 0 1 1 48.7 40.8 Z" fill="#f0fbe6"/><path d="M9.3 40.8 A24 24 0 1 1 48.7 40.8" fill="none" stroke="#8fe268" stroke-width="4.5" stroke-linecap="round"/><path d="M15 36.5 A17 17 0 1 1 43 36.5" fill="none" stroke="#b4ec96" stroke-width="6" stroke-dasharray="2.4 4.2"/><path d="M38 17 L43 13 M43 25 L48 23" stroke="#f1d267" stroke-width="3"/><circle cx="29" cy="30" r="3.6" fill="#7ed957"/><path d="M29 11 V19" stroke="#7ed957" stroke-width="2.8"/><rect x="10" y="34.5" width="8" height="3.6" fill="#2f5a1e"/><rect x="11" y="25.5" width="6" height="3" fill="#4da332"/><rect x="40" y="34.5" width="8" height="3.6" fill="#d0301f"/><rect x="41" y="25.5" width="6" height="3" fill="#f08a42"/></svg><div class="t" style="top:1122.1px;font-size:41px;color:#444;left:612px;transform:translateX(-100%) scaleX(0.7);transform-origin:100% 50%;-webkit-text-stroke:.6px #444;">115/78</div><div class="a" style="left:28px;top:1177.2px;width:600px;height:2.5px;background:#e6e6e6;"></div><div class="t" style="top:1203.3px;font-size:31px;color:#aaa;left:48px;transform:scaleX(0.7);transform-origin:0 50%;">18:40</div><svg class="a" style="left:298px;top:1193.5px;" width="58" height="44" viewBox="0 0 58 44"><path d="M9.3 40.8 A24 24 0 1 1 48.7 40.8 Z" fill="#f0fbe6"/><path d="M9.3 40.8 A24 24 0 1 1 48.7 40.8" fill="none" stroke="#8fe268" stroke-width="4.5" stroke-linecap="round"/><path d="M15 36.5 A17 17 0 1 1 43 36.5" fill="none" stroke="#b4ec96" stroke-width="6" stroke-dasharray="2.4 4.2"/><path d="M38 17 L43 13 M43 25 L48 23" stroke="#f1d267" stroke-width="3"/><circle cx="29" cy="30" r="3.6" fill="#7ed957"/><path d="M29 11 V19" stroke="#7ed957" stroke-width="2.8"/><rect x="10" y="34.5" width="8" height="3.6" fill="#2f5a1e"/><rect x="11" y="25.5" width="6" height="3" fill="#4da332"/><rect x="40" y="34.5" width="8" height="3.6" fill="#d0301f"/><rect x="41" y="25.5" width="6" height="3" fill="#f08a42"/></svg><div class="t" style="top:1198.4px;font-size:41px;color:#444;left:612px;transform:translateX(-100%) scaleX(0.7);transform-origin:100% 50%;-webkit-text-stroke:.6px #444;">123/84</div><div class="a" style="left:28px;top:1253.5px;width:600px;height:2.5px;background:#e6e6e6;"></div><div class="t" style="top:1279.6px;font-size:31px;color:#aaa;left:48px;transform:scaleX(0.7);transform-origin:0 50%;">18:35</div><svg class="a" style="left:298px;top:1269.8px;" width="58" height="44" viewBox="0 0 58 44"><path d="M9.3 40.8 A24 24 0 1 1 48.7 40.8 Z" fill="#f0fbe6"/><path d="M9.3 40.8 A24 24 0 1 1 48.7 40.8" fill="none" stroke="#8fe268" stroke-width="4.5" stroke-linecap="round"/><path d="M15 36.5 A17 17 0 1 1 43 36.5" fill="none" stroke="#b4ec96" stroke-width="6" stroke-dasharray="2.4 4.2"/><path d="M38 17 L43 13 M43 25 L48 23" stroke="#f1d267" stroke-width="3"/><circle cx="29" cy="30" r="3.6" fill="#7ed957"/><path d="M29 11 V19" stroke="#7ed957" stroke-width="2.8"/><rect x="10" y="34.5" width="8" height="3.6" fill="#2f5a1e"/><rect x="11" y="25.5" width="6" height="3" fill="#4da332"/><rect x="40" y="34.5" width="8" height="3.6" fill="#d0301f"/><rect x="41" y="25.5" width="6" height="3" fill="#f08a42"/></svg><div class="t" style="top:1274.7px;font-size:41px;color:#444;left:612px;transform:translateX(-100%) scaleX(0.7);transform-origin:100% 50%;-webkit-text-stroke:.6px #444;">120/87</div><div class="a" style="left:28px;top:1329.8px;width:600px;height:2.5px;background:#e6e6e6;"></div><div class="t" style="top:1355.9px;font-size:31px;color:#aaa;left:48px;transform:scaleX(0.7);transform-origin:0 50%;">18:30</div><svg class="a" style="left:298px;top:1346.1px;" width="58" height="44" viewBox="0 0 58 44"><path d="M9.3 40.8 A24 24 0 1 1 48.7 40.8 Z" fill="#f0fbe6"/><path d="M9.3 40.8 A24 24 0 1 1 48.7 40.8" fill="none" stroke="#8fe268" stroke-width="4.5" stroke-linecap="round"/><path d="M15 36.5 A17 17 0 1 1 43 36.5" fill="none" stroke="#b4ec96" stroke-width="6" stroke-dasharray="2.4 4.2"/><path d="M38 17 L43 13 M43 25 L48 23" stroke="#f1d267" stroke-width="3"/><circle cx="29" cy="30" r="3.6" fill="#7ed957"/><path d="M29 11 V19" stroke="#7ed957" stroke-width="2.8"/><rect x="10" y="34.5" width="8" height="3.6" fill="#2f5a1e"/><rect x="11" y="25.5" width="6" height="3" fill="#4da332"/><rect x="40" y="34.5" width="8" height="3.6" fill="#d0301f"/><rect x="41" y="25.5" width="6" height="3" fill="#f08a42"/></svg><div class="t" style="top:1351.0px;font-size:41px;color:#444;left:612px;transform:translateX(-100%) scaleX(0.7);transform-origin:100% 50%;-webkit-text-stroke:.6px #444;">118/79</div><div class="a" style="left:28px;top:1406.1px;width:600px;height:2.5px;background:#e6e6e6;"></div><div class="a" style="left:0px;top:1364px;width:652px;height:60px;background:linear-gradient(rgba(255,255,255,.85),#fff 30%);"></div><div class="a" style="left:212px;top:1394px;width:232px;height:7px;background:#111;border-radius:3.5px;"></div></div></div>
<div class="p" style="left:0px;top:1428px;width:652px;height:1372px;background:#fff"><div class="a" style="left:0px;top:0px;width:652px;height:657px;background:#c9249f;"></div><div class="t" style="top:26.3px;font-size:28px;color:#fff;font-weight:700;left:60px;transform:scaleX(1.04);transform-origin:0 50%;">19:20</div><svg class="a" style="left:143px;top:28px;" width="20" height="24" viewBox="0 0 20 24"><rect x="0.5" y="0.5" width="19" height="23" rx="4.5" fill="#fff"/><rect x="5" y="5" width="10" height="7" rx="1" fill="#fff" stroke="BGC" stroke-opacity=".0"/><path d="M6 17.5 H14 M10 9 V17" stroke="#888" stroke-opacity=".55" stroke-width="2"/></svg><svg class="a" style="left:471px;top:28px;" width="32" height="20" viewBox="0 0 32 20"><rect x="0" y="6" width="6" height="4" rx="1.2" fill="#fff" opacity="1"/><rect x="8" y="4" width="6" height="6" rx="1.2" fill="#fff" opacity="1"/><rect x="16" y="2" width="6" height="8" rx="1.2" fill="#fff" opacity="1"/><rect x="24" y="0" width="6" height="10" rx="1.2" fill="#fff" opacity="0.3"/><rect x="0" y="14" width="6" height="5.5" rx="1.5" fill="#fff" opacity="1"/><rect x="8" y="14" width="6" height="5.5" rx="1.5" fill="#fff" opacity="1"/><rect x="16" y="14" width="6" height="5.5" rx="1.5" fill="#fff" opacity="0.3"/><rect x="24" y="14" width="6" height="5.5" rx="1.5" fill="#fff" opacity="0.3"/></svg><svg class="a" style="left:514px;top:27px;" width="32" height="26" viewBox="0 0 32 26"><path d="M2 9 A19 19 0 0 1 30 9" fill="none" stroke="#fff" stroke-width="4.2" stroke-linecap="round"/><path d="M8 15 A11.5 11.5 0 0 1 24 15" fill="none" stroke="#fff" stroke-width="4.2" stroke-linecap="round"/><circle cx="16" cy="21" r="3" fill="#fff"/></svg><div class="a" style="left:556px;top:28px;width:42px;height:22px;background:#62d66e;border-radius:6px;"></div><div class="a" style="left:598px;top:35px;width:3px;height:8px;background:#62d66e;border-radius:1.5px;"></div><div class="t" style="top:29.2px;font-size:21px;color:#fff;font-weight:700;letter-spacing:-0.3px;left:577px;transform:translateX(-50%);transform-origin:50% 50%;">99+</div><svg class="a" style="left:36px;top:99px;" width="20" height="32" viewBox="0 0 20 32"><path d="M17 3 L4 16 L17 29" fill="none" stroke="#fff" stroke-width="4" stroke-linecap="round" stroke-linejoin="round"/></svg><div class="t" style="top:101.3px;font-size:28px;color:#fff;font-weight:700;left:326px;transform:translateX(-50%);transform-origin:50% 50%;">心率</div><svg class="a" style="left:596px;top:98px;" width="32" height="34" viewBox="0 0 32 34"><g fill="none" stroke="#fff" stroke-width="3"><circle cx="24" cy="7" r="4.6"/><circle cx="7" cy="17" r="4.6"/><circle cx="24" cy="27" r="4.6"/><path d="M11 14.5 L20 9.5 M11 19.5 L20 24.5"/></g></svg><div class="a" style="left:0px;top:152px;width:652px;height:2px;background:rgba(255,255,255,.28);"></div><div class="a" style="left:177px;top:180px;width:36px;height:36px;background:rgba(255,255,255,.22);border-radius:18px;"></div><svg class="a" style="left:187px;top:187px;" width="14" height="22" viewBox="0 0 14 22"><path d="M11 1 L2.5 11 L11 21" fill="none" stroke="#fff" stroke-opacity=".95" stroke-width="4" stroke-linecap="round" stroke-linejoin="round"/></svg><div class="t" style="top:183.8px;font-size:29px;color:#fff;font-weight:700;left:327px;transform:translateX(-50%) scaleX(1.17);transform-origin:50% 50%;">2023-09-25</div><div class="a" style="left:440px;top:180px;width:36px;height:36px;background:rgba(255,255,255,.16);border-radius:18px;"></div><svg class="a" style="left:452px;top:187px;" width="14" height="22" viewBox="0 0 14 22"><path d="M3 1 L11.5 11 L3 21" fill="none" stroke="#fff" stroke-opacity=".5" stroke-width="4" stroke-linecap="round" stroke-linejoin="round"/></svg><svg class="a" style="left:500px;top:180px;" width="36" height="34" viewBox="0 0 36 34"><rect x="2" y="5" width="32" height="27" rx="4" fill="#fff" fill-opacity=".45" stroke="#fff" stroke-width="3"/><rect x="2" y="5" width="32" height="9" rx="3" fill="#fff"/><rect x="8.5" y="0" width="4" height="8" rx="2" fill="#fff"/><rect x="23.5" y="0" width="4" height="8" rx="2" fill="#fff"/><g fill="#fff"><rect x="8" y="17" width="3.4" height="11"/><rect x="14" y="17" width="3.4" height="11"/><rect x="20" y="17" width="3.4" height="11"/><rect x="26" y="17" width="3.4" height="11"/></g></svg><svg class="a" style="left:0px;top:0px;" width="652" height="657" viewBox="0 0 652 657"><line x1="62" y1="347" x2="620" y2="347" stroke="#fff" stroke-opacity=".62" stroke-width="3"/><text x="52" y="354.5" font-size="21" fill="#fff" text-anchor="end" stroke="#fff" stroke-width=".5">167</text><line x1="62" y1="378" x2="620" y2="378" stroke="#fff" stroke-opacity=".62" stroke-width="3"/><text x="52" y="385.5" font-size="21" fill="#fff" text-anchor="end" stroke="#fff" stroke-width=".5">148</text><line x1="62" y1="408" x2="620" y2="408" stroke="#fff" stroke-opacity=".62" stroke-width="3"/><text x="52" y="415.5" font-size="21" fill="#fff" text-anchor="end" stroke="#fff" stroke-width=".5">130</text><line x1="62" y1="439" x2="620" y2="439" stroke="#fff" stroke-opacity=".62" stroke-width="3"/><text x="52" y="446.5" font-size="21" fill="#fff" text-anchor="end" stroke="#fff" stroke-width=".5">111</text><line x1="62" y1="468" x2="620" y2="468" stroke="#fff" stroke-opacity=".62" stroke-width="3"/><text x="52" y="475.5" font-size="21" fill="#fff" text-anchor="end" stroke="#fff" stroke-width=".5">93</text><line x1="62" y1="572" x2="620" y2="572" stroke="#fff" stroke-opacity=".62" stroke-width="3"/><text x="52" y="579.5" font-size="21" fill="#fff" text-anchor="end" stroke="#fff" stroke-width=".5">30</text><polygon points="62.0,572.0 62.0,502.0 63.7,502.0 65.4,571.6 67.1,572.0 68.8,572.0 70.5,572.0 72.2,570.0 73.9,572.0 75.6,572.0 77.3,572.0 79.0,567.0 80.7,569.6 82.4,572.0 84.1,572.0 85.8,572.0 87.5,572.0 89.2,572.0 90.9,572.0 92.6,572.0 94.3,572.0 96.0,567.4 97.7,571.9 99.4,572.0 101.1,572.0 102.8,572.0 104.5,572.0 106.2,572.0 107.9,572.0 109.6,572.0 111.3,572.0 113.0,572.0 114.7,572.0 116.4,572.0 118.1,570.4 119.8,572.0 121.5,572.0 123.2,572.0 124.9,572.0 126.6,572.0 128.3,569.5 130.0,572.0 131.7,572.0 133.4,572.0 135.1,572.0 136.8,570.4 138.5,572.0 140.2,572.0 141.9,572.0 143.6,572.0 145.3,572.0 147.0,569.6 148.7,572.0 150.4,572.0 152.1,568.2 153.8,572.0 155.5,571.0 157.2,570.8 158.9,572.0 160.6,572.0 162.3,572.0 164.0,570.4 165.7,568.8 167.4,572.0 169.1,569.8 170.8,572.0 172.5,572.0 174.2,572.0 175.9,572.0 177.6,572.0 179.3,572.0 181.0,572.0 182.7,572.0 184.4,565.6 186.1,563.1 187.8,572.0 189.5,572.0 191.2,572.0 192.9,572.0 194.6,566.1 196.3,571.7 198.0,572.0 199.7,570.3 201.4,571.9 203.1,572.0 204.8,572.0 206.5,572.0 208.2,572.0 209.9,572.0 211.6,572.0 213.3,572.0 215.0,572.0 216.7,572.0 218.4,497.6 220.1,571.7 221.8,350.0 223.5,350.0 225.2,537.2 226.9,552.8 228.6,556.4 230.3,504.9 232.0,357.0 233.7,548.4 235.4,541.1 237.1,505.6 238.8,422.0 240.5,537.2 242.2,542.3 243.9,537.3 245.6,507.0 247.3,554.7 249.0,530.9 250.7,533.1 252.4,539.1 254.1,505.3 255.8,507.7 257.5,534.1 259.2,518.1 260.9,547.9 262.6,536.6 264.3,514.4 266.0,560.6 267.7,516.9 269.4,546.0 271.1,524.2 272.8,542.4 274.5,521.6 276.2,555.8 277.9,518.0 279.6,532.2 281.3,569.6 283.0,535.4 284.7,528.8 286.4,529.9 288.1,527.5 289.8,519.1 291.5,479.4 293.2,511.6 294.9,559.3 296.6,536.4 298.3,522.9 300.0,510.0 301.7,538.2 303.4,534.3 305.1,550.8 306.8,551.7 308.5,536.7 310.2,481.2 311.9,494.7 313.6,563.9 315.3,535.6 317.0,508.8 318.7,555.6 320.4,559.7 322.1,550.7 323.8,560.3 325.5,546.3 327.2,571.2 328.9,507.2 330.6,509.7 332.3,534.3 334.0,481.9 335.7,499.8 337.4,535.1 339.1,480.8 340.8,518.5 342.5,540.4 344.2,539.4 345.9,540.3 347.6,505.6 349.3,432.0 351.0,432.0 352.7,570.7 354.4,483.2 356.1,465.7 357.8,495.0 359.5,550.2 361.2,534.3 362.9,535.8 364.6,533.0 366.3,539.2 368.0,526.7 369.7,551.2 371.4,539.5 373.1,470.5 374.8,546.0 376.5,539.1 378.2,505.5 379.9,523.6 381.6,543.5 383.3,513.7 385.0,521.4 386.7,488.2 388.4,527.0 390.1,547.9 391.8,499.5 393.5,510.5 395.2,517.2 396.9,544.6 398.6,513.4 400.3,541.3 402.0,490.3 403.7,450.5 405.4,489.0 407.1,534.0 408.8,547.2 410.5,437.0 412.2,511.5 413.9,554.3 415.6,486.4 417.3,294.0 419.0,294.0 420.7,536.5 422.4,496.4 424.1,570.3 425.8,556.9 427.5,571.8 429.2,558.0 430.9,559.6 432.6,432.0 434.3,560.4 436.0,568.1 437.7,557.4 439.4,569.0 441.1,556.5 442.8,548.9 444.5,558.0 446.2,555.8 447.9,512.2 449.6,537.8 451.3,570.9 453.0,550.9 454.7,506.5 456.4,549.6 458.1,539.0 459.8,550.6 461.5,559.9 463.2,554.8 464.9,533.1 466.6,536.8 468.3,546.3 470.0,548.6 471.7,511.5 473.4,524.0 475.1,516.4 476.8,509.5 478.5,553.1 480.2,557.1 481.9,534.1 483.6,500.2 485.3,559.9 487.0,547.7 488.7,559.9 490.4,528.0 492.1,505.4 493.8,549.4 495.5,571.0 497.2,540.8 498.9,549.1 500.6,563.4 502.3,519.9 504.0,555.1 505.7,524.9 507.4,569.1 509.1,514.6 510.0,572.0" fill="#f6c6e6" fill-opacity=".9"/><line x1="418" y1="292" x2="418" y2="572" stroke="#fff" stroke-opacity=".9" stroke-width="3"/><line x1="222.5" y1="350" x2="222.5" y2="572" stroke="#fbe3f3" stroke-width="3"/><polyline points="62.0,499.0 63.6,507.4 65.2,515.8 66.8,515.7 68.4,521.3 70.0,523.4 71.6,518.1 73.2,515.2 74.8,519.5 76.4,521.4 78.0,523.5 79.6,515.4 81.2,515.1 82.8,522.0 84.4,521.2 86.0,524.8 87.6,522.9 89.2,519.0 90.8,518.4 92.4,528.3 94.0,518.2 95.6,516.5 97.2,515.2 98.8,519.4 100.4,519.6 102.0,517.8 103.6,518.8 105.2,519.9 106.8,521.3 108.4,522.7 110.0,519.5 111.6,512.5 113.2,521.2 114.8,513.7 116.4,518.0 118.0,513.4 119.6,518.6 121.2,515.8 122.8,519.2 124.4,530.0 126.0,518.2 127.6,521.3 129.2,513.7 130.8,517.2 132.4,520.5 134.0,517.8 135.6,519.4 137.2,518.4 138.8,514.5 140.4,520.0 142.0,515.3 143.6,524.7 145.2,516.5 146.8,520.8 148.4,518.5 150.0,521.9 151.6,516.5 153.2,522.2 154.8,518.4 156.4,523.3 158.0,521.2 159.6,519.6 161.2,516.4 162.8,521.9 164.4,521.0 166.0,525.2 167.6,518.2 169.2,521.5 170.8,521.4 172.4,520.7 174.0,520.6 175.6,520.6 177.2,517.9 178.8,516.5 180.4,518.8 182.0,522.3 183.6,525.6 185.2,523.9 186.8,524.2 188.4,523.3 190.0,523.1 191.6,521.4 193.2,523.6 194.8,527.2 196.4,519.9 198.0,518.7 199.6,528.1 201.2,522.2 202.8,524.8 204.4,524.5 206.0,517.6 207.6,530.2 209.2,528.0 210.8,522.4 212.4,524.5 214.0,522.4 215.6,506.1 217.2,496.0 218.8,483.6 220.4,470.8 222.0,465.8 223.6,465.5 225.2,465.2 226.8,467.5 228.4,472.4 230.0,469.3 231.6,464.4 233.2,473.2 234.8,458.1 236.4,468.7 238.0,471.6 239.6,463.1 241.2,454.0 242.8,461.5 244.4,470.8 246.0,474.2 247.6,482.7 249.2,466.1 250.8,474.1 252.4,479.7 254.0,475.0 255.6,460.5 257.2,483.8 258.8,495.3 260.4,487.2 262.0,474.7 263.6,479.2 265.2,484.7 266.8,501.5 268.4,489.4 270.0,486.9 271.6,498.0 273.2,487.5 274.8,501.4 276.4,483.9 278.0,485.7 279.6,494.4 281.2,499.6 282.8,494.5 284.4,492.4 286.0,477.8 287.6,485.9 289.2,487.0 290.8,487.8 292.4,496.0 294.0,489.9 295.6,498.0 297.2,493.4 298.8,490.5 300.4,493.3 302.0,495.2 303.6,497.8 305.2,488.2 306.8,489.5 308.4,481.3 310.0,501.7 311.6,500.3 313.2,488.6 314.8,486.2 316.4,480.5 318.0,490.0 319.6,489.9 321.2,503.4 322.8,490.3 324.4,484.2 326.0,473.7 327.6,501.8 329.2,494.4 330.8,482.9 332.4,496.5 334.0,485.1 335.6,521.9 337.2,506.5 338.8,503.8 340.4,499.7 342.0,487.0 343.6,495.0 345.2,479.0 346.8,487.9 348.4,462.7 350.0,465.2 351.6,474.1 353.2,475.3 354.8,455.3 356.4,452.6 358.0,469.2 359.6,468.8 361.2,455.6 362.8,457.4 364.4,457.2 366.0,453.5 367.6,456.8 369.2,470.0 370.8,465.9 372.4,475.3 374.0,460.2 375.6,459.7 377.2,453.6 378.8,459.5 380.4,451.1 382.0,447.7 383.6,464.9 385.2,469.9 386.8,465.6 388.4,468.9 390.0,461.2 391.6,454.3 393.2,459.8 394.8,456.5 396.4,451.0 398.0,446.2 399.6,446.9 401.2,456.5 402.8,456.8 404.4,451.7 406.0,464.3 407.6,454.8 409.2,456.8 410.8,460.5 412.4,445.5 414.0,436.7 415.6,456.1 417.2,448.4 418.8,464.7 420.4,460.2 422.0,467.2 423.6,467.8 425.2,477.2 426.8,496.0" fill="none" stroke="#9ae23c" stroke-width="10" stroke-linejoin="round" stroke-linecap="round"/><polyline points="426.8,496.0 428.4,514.9 430.0,522.0 431.6,522.0 433.2,522.1 434.8,522.1 436.4,522.1 438.0,522.2 439.6,522.2 441.2,522.2 442.8,522.3 444.4,522.3 446.0,522.3 447.6,522.3 449.2,522.4 450.8,522.4 452.4,522.4 454.0,522.5 455.6,522.5 457.2,522.5 458.8,522.5 460.4,522.6 462.0,522.6 463.6,522.6 465.2,522.7 466.8,522.7 468.4,522.7 470.0,522.7 471.6,522.8 473.2,522.8 474.8,522.8 476.4,522.9 478.0,522.9 479.6,522.9 481.2,522.9 482.8,523.0 484.4,518.3" fill="none" stroke="#e0b07c" stroke-width="3.5" stroke-linejoin="round" stroke-linecap="round"/><polyline points="486.0,499.5 487.6,480.7 489.2,461.3 490.8,480.7 492.4,470.7 494.0,469.9 495.6,471.9 497.2,480.1 498.8,480.7 500.4,481.4 502.0,462.5 503.6,469.7 505.2,457.0 506.8,472.7" fill="none" stroke="#9ae23c" stroke-width="9" stroke-linejoin="round" stroke-linecap="round"/><polyline points="350.0,460.7 351.6,469.6 353.2,470.8 354.8,450.8 356.4,448.1 358.0,464.7 359.6,464.3 361.2,451.1 362.8,452.9 364.4,452.7 366.0,449.0 367.6,452.3 369.2,465.5 370.8,461.4 372.4,470.8 374.0,455.7 375.6,455.2 377.2,449.1 378.8,455.0 380.4,446.6 382.0,443.2 383.6,460.4 385.2,465.4 386.8,461.1 388.4,464.4 390.0,456.7 391.6,449.8 393.2,455.3 394.8,452.0 396.4,446.5 398.0,441.7 399.6,442.4 401.2,452.0 402.8,452.3 404.4,447.2 406.0,459.8 407.6,450.3 409.2,452.3 410.8,456.0 412.4,441.0 414.0,432.2 415.6,451.6 417.2,443.9 418.8,460.2 420.4,455.7 422.0,462.7 423.6,463.3" fill="none" stroke="#3fd89a" stroke-width="3.5" stroke-linejoin="round"/><polyline points="226.8,464.5 228.4,469.4 230.0,466.3 231.6,461.4 233.2,470.2 234.8,455.1 236.4,465.7 238.0,468.6 239.6,460.1 241.2,451.0 242.8,458.5 244.4,467.8 246.0,471.2" fill="none" stroke="#3fd89a" stroke-width="5" stroke-linejoin="round"/><line x1="262" y1="424" x2="262" y2="467" stroke="#7a8cf0" stroke-width="4"/><line x1="410" y1="432" x2="410" y2="462" stroke="#3fd89a" stroke-width="5"/><line x1="506" y1="447" x2="506" y2="487" stroke="#e8d27c" stroke-width="3"/><line x1="62" y1="292" x2="62" y2="573" stroke="#fff" stroke-opacity=".9" stroke-width="3"/><text x="62.0" y="604.5" font-size="18" font-weight="700" fill="#fff" fill-opacity=".85" text-anchor="middle">00:00</text><text x="131.5" y="604.5" font-size="18" font-weight="700" fill="#fff" fill-opacity=".85" text-anchor="middle">03:00</text><text x="201.0" y="604.5" font-size="18" font-weight="700" fill="#fff" fill-opacity=".85" text-anchor="middle">06:00</text><text x="270.5" y="604.5" font-size="18" font-weight="700" fill="#fff" fill-opacity=".85" text-anchor="middle">09:00</text><text x="340.0" y="604.5" font-size="18" font-weight="700" fill="#fff" fill-opacity=".85" text-anchor="middle">12:00</text><text x="409.5" y="604.5" font-size="18" font-weight="700" fill="#fff" fill-opacity=".85" text-anchor="middle">15:00</text><text x="479.0" y="604.5" font-size="18" font-weight="700" fill="#fff" fill-opacity=".85" text-anchor="middle">18:00</text><text x="548.5" y="604.5" font-size="18" font-weight="700" fill="#fff" fill-opacity=".85" text-anchor="middle">21:00</text><text x="618.0" y="604.5" font-size="18" font-weight="700" fill="#fff" fill-opacity=".85" text-anchor="middle">24:00</text><circle cx="291" cy="633" r="6" fill="#f3c3e4"/></svg><div class="t" style="top:622.7px;font-size:21px;color:#fff;font-weight:500;left:305px;">运动量</div><svg class="a" style="left:18px;top:688px;" width="37" height="34" viewBox="0 0 37 34"><path d="M18.5 33 C2 20 0 13 0 9.5 A9.5 9.5 0 0 1 18.5 6 A9.5 9.5 0 0 1 37 9.5 C37 13 35 20 18.5 33Z" fill="#e8374f"/><path d="M3 17 H12 L15 11 L20 23 L23 17 H34" fill="none" stroke="#fff" stroke-width="2.4" stroke-linejoin="round"/></svg><div class="t" style="top:689.3px;font-size:30px;color:#333;font-weight:500;left:65px;">心率概况</div><div class="t" style="top:746.8px;font-size:27px;color:#999;letter-spacing:1px;left:120px;transform:translateX(-50%);transform-origin:50% 50%;">最大值</div><div class="t" style="top:794.5px;font-size:50px;color:#333;left:120px;transform:translateX(-50%) scaleX(0.7);transform-origin:50% 50%;-webkit-text-stroke:.8px #333;">120</div><div class="t" style="top:847.8px;font-size:25px;color:#999;letter-spacing:1px;left:120px;transform:translateX(-50%);transform-origin:50% 50%;">次/分</div><div class="t" style="top:746.8px;font-size:27px;color:#999;letter-spacing:1px;left:327px;transform:translateX(-50%);transform-origin:50% 50%;">最小值</div><div class="t" style="top:794.5px;font-size:50px;color:#333;left:327px;transform:translateX(-50%) scaleX(0.7);transform-origin:50% 50%;-webkit-text-stroke:.8px #333;">53</div><div class="t" style="top:847.8px;font-size:25px;color:#999;letter-spacing:1px;left:327px;transform:translateX(-50%);transform-origin:50% 50%;">次/分</div><div class="t" style="top:746.8px;font-size:27px;color:#999;letter-spacing:1px;left:533px;transform:translateX(-50%);transform-origin:50% 50%;">平均值</div><div class="t" style="top:794.5px;font-size:50px;color:#333;left:533px;transform:translateX(-50%) scaleX(0.7);transform-origin:50% 50%;-webkit-text-stroke:.8px #333;">74</div><div class="t" style="top:847.8px;font-size:25px;color:#999;letter-spacing:1px;left:533px;transform:translateX(-50%);transform-origin:50% 50%;">次/分</div><div class="a" style="left:223px;top:767px;width:2px;height:82px;background:#e6e6e6;"></div><div class="a" style="left:430px;top:767px;width:2px;height:82px;background:#e6e6e6;"></div><div class="a" style="left:0px;top:897px;width:652px;height:25px;background:#efefef;"></div><svg class="a" style="left:18px;top:946px;" width="36" height="36" viewBox="0 0 36 36"><defs><linearGradient id="rg5" x1="0" y1="0" x2="1" y2="1"><stop offset="0" stop-color="#35c4f0"/><stop offset=".5" stop-color="#8a6cf0"/><stop offset="1" stop-color="#f05a78"/></linearGradient></defs><circle cx="18" cy="18" r="15" fill="#fff" stroke="url(#rg5)" stroke-width="5"/><path d="M18 26 C10 20 10 12 14.5 12 C17 12 18 14.5 18 14.5 C18 14.5 19 12 21.5 12 C26 12 26 20 18 26Z" fill="#f05a5a"/></svg><div class="t" style="top:949.3px;font-size:30px;color:#333;font-weight:500;left:65px;">心率分布</div><div class="t" style="top:1002.3px;font-size:26px;color:#333;font-weight:500;left:30px;">极限区</div><div class="a" style="left:165px;top:1003.0px;width:365px;height:24px;background:#d9d9d9;border-radius:12px;"></div><div class="t" style="top:1002.8px;font-size:25px;color:#777;left:543px;transform:scaleX(1.16);transform-origin:0 50%;">00:00</div><div class="t" style="top:1066.5px;font-size:26px;color:#333;font-weight:500;left:30px;">无氧耐力</div><div class="a" style="left:165px;top:1067.2px;width:365px;height:24px;background:#d9d9d9;border-radius:12px;"></div><div class="t" style="top:1067.0px;font-size:25px;color:#777;left:543px;transform:scaleX(1.16);transform-origin:0 50%;">00:00</div><div class="t" style="top:1130.7px;font-size:26px;color:#333;font-weight:500;left:30px;">有氧耐力</div><div class="a" style="left:165px;top:1131.4px;width:365px;height:24px;background:#d9d9d9;border-radius:12px;"></div><div class="t" style="top:1131.2px;font-size:25px;color:#777;left:543px;transform:scaleX(1.16);transform-origin:0 50%;">00:00</div><div class="t" style="top:1194.9px;font-size:26px;color:#333;font-weight:500;left:30px;">燃脂区</div><div class="a" style="left:165px;top:1195.6px;width:365px;height:24px;background:#d9d9d9;border-radius:12px;"></div><div class="a" style="left:165px;top:1195.6px;width:3px;height:24px;background:#8ab8e8;border-radius:12px;"></div><div class="t" style="top:1195.3px;font-size:25px;color:#777;left:543px;transform:scaleX(1.16);transform-origin:0 50%;">00:05</div><div class="t" style="top:1259.1px;font-size:26px;color:#333;font-weight:500;left:30px;">热身区</div><div class="a" style="left:165px;top:1259.8px;width:365px;height:24px;background:#d9d9d9;border-radius:12px;"></div><div class="a" style="left:165px;top:1259.8px;width:53px;height:24px;background:#3ddc84;border-radius:12px;"></div><div class="t" style="top:1259.5px;font-size:25px;color:#777;left:543px;transform:scaleX(1.16);transform-origin:0 50%;">02:23</div><div class="t" style="top:1323.3px;font-size:26px;color:#333;font-weight:500;left:30px;">安静心率</div><div class="a" style="left:165px;top:1324.0px;width:365px;height:24px;background:#d9d9d9;border-radius:12px;"></div><div class="a" style="left:165px;top:1324.0px;width:310px;height:24px;background:#84e01e;border-radius:12px;"></div><div class="t" style="top:1323.8px;font-size:25px;color:#777;left:543px;transform:scaleX(1.16);transform-origin:0 50%;">13:37</div></div>
<div class="p" style="left:652px;top:1428px;width:652px;height:1372px;background:#fff"><div class="a" style="left:0px;top:0px;width:652px;height:657px;background:linear-gradient(#1c33a0 0,#1d33a0 28%,#30379f 58%,#6d40a8 100%);"></div><div class="t" style="top:26.3px;font-size:28px;color:#fff;font-weight:700;left:60px;transform:scaleX(1.04);transform-origin:0 50%;">19:20</div><svg class="a" style="left:143px;top:28px;" width="20" height="24" viewBox="0 0 20 24"><rect x="0.5" y="0.5" width="19" height="23" rx="4.5" fill="#fff"/><rect x="5" y="5" width="10" height="7" rx="1" fill="#fff" stroke="BGC" stroke-opacity=".0"/><path d="M6 17.5 H14 M10 9 V17" stroke="#888" stroke-opacity=".55" stroke-width="2"/></svg><svg class="a" style="left:471px;top:28px;" width="32" height="20" viewBox="0 0 32 20"><rect x="0" y="6" width="6" height="4" rx="1.2" fill="#fff" opacity="1"/><rect x="8" y="4" width="6" height="6" rx="1.2" fill="#fff" opacity="1"/><rect x="16" y="2" width="6" height="8" rx="1.2" fill="#fff" opacity="1"/><rect x="24" y="0" width="6" height="10" rx="1.2" fill="#fff" opacity="0.3"/><rect x="0" y="14" width="6" height="5.5" rx="1.5" fill="#fff" opacity="1"/><rect x="8" y="14" width="6" height="5.5" rx="1.5" fill="#fff" opacity="1"/><rect x="16" y="14" width="6" height="5.5" rx="1.5" fill="#fff" opacity="0.3"/><rect x="24" y="14" width="6" height="5.5" rx="1.5" fill="#fff" opacity="0.3"/></svg><svg class="a" style="left:514px;top:27px;" width="32" height="26" viewBox="0 0 32 26"><path d="M2 9 A19 19 0 0 1 30 9" fill="none" stroke="#fff" stroke-width="4.2" stroke-linecap="round"/><path d="M8 15 A11.5 11.5 0 0 1 24 15" fill="none" stroke="#fff" stroke-width="4.2" stroke-linecap="round"/><circle cx="16" cy="21" r="3" fill="#fff"/></svg><div class="a" style="left:556px;top:28px;width:42px;height:22px;background:#62d66e;border-radius:6px;"></div><div class="a" style="left:598px;top:35px;width:3px;height:8px;background:#62d66e;border-radius:1.5px;"></div><div class="t" style="top:29.2px;font-size:21px;color:#fff;font-weight:700;letter-spacing:-0.3px;left:577px;transform:translateX(-50%);transform-origin:50% 50%;">99+</div><svg class="a" style="left:36px;top:99px;" width="20" height="32" viewBox="0 0 20 32"><path d="M17 3 L4 16 L17 29" fill="none" stroke="#fff" stroke-width="4" stroke-linecap="round" stroke-linejoin="round"/></svg><div class="t" style="top:101.3px;font-size:28px;color:#fff;font-weight:700;left:326px;transform:translateX(-50%);transform-origin:50% 50%;">睡眠</div><svg class="a" style="left:596px;top:98px;" width="32" height="34" viewBox="0 0 32 34"><g fill="none" stroke="#fff" stroke-width="3"><circle cx="24" cy="7" r="4.6"/><circle cx="7" cy="17" r="4.6"/><circle cx="24" cy="27" r="4.6"/><path d="M11 14.5 L20 9.5 M11 19.5 L20 24.5"/></g></svg><div class="a" style="left:0px;top:152px;width:652px;height:2px;background:rgba(255,255,255,.28);"></div><div class="a" style="left:177px;top:180px;width:36px;height:36px;background:rgba(255,255,255,.22);border-radius:18px;"></div><svg class="a" style="left:187px;top:187px;" width="14" height="22" viewBox="0 0 14 22"><path d="M11 1 L2.5 11 L11 21" fill="none" stroke="#fff" stroke-opacity=".95" stroke-width="4" stroke-linecap="round" stroke-linejoin="round"/></svg><div class="t" style="top:183.8px;font-size:29px;color:#fff;font-weight:700;left:327px;transform:translateX(-50%) scaleX(1.17);transform-origin:50% 50%;">2023-09-25</div><div class="a" style="left:440px;top:180px;width:36px;height:36px;background:rgba(255,255,255,.16);border-radius:18px;"></div><svg class="a" style="left:452px;top:187px;" width="14" height="22" viewBox="0 0 14 22"><path d="M3 1 L11.5 11 L3 21" fill="none" stroke="#fff" stroke-opacity=".5" stroke-width="4" stroke-linecap="round" stroke-linejoin="round"/></svg><svg class="a" style="left:500px;top:180px;" width="36" height="34" viewBox="0 0 36 34"><rect x="2" y="5" width="32" height="27" rx="4" fill="#fff" fill-opacity=".45" stroke="#fff" stroke-width="3"/><rect x="2" y="5" width="32" height="9" rx="3" fill="#fff"/><rect x="8.5" y="0" width="4" height="8" rx="2" fill="#fff"/><rect x="23.5" y="0" width="4" height="8" rx="2" fill="#fff"/><g fill="#fff"><rect x="8" y="17" width="3.4" height="11"/><rect x="14" y="17" width="3.4" height="11"/><rect x="20" y="17" width="3.4" height="11"/><rect x="26" y="17" width="3.4" height="11"/></g></svg><svg class="a" style="left:0px;top:0px;" width="652" height="657" viewBox="0 0 652 657"><rect x="38" y="257" width="582" height="325" fill="none" stroke="#fff" stroke-opacity=".035" stroke-width="2"/><line x1="38" y1="297.6" x2="620" y2="297.6" stroke="#000" stroke-opacity=".05" stroke-width="2"/><line x1="38" y1="338.2" x2="620" y2="338.2" stroke="#000" stroke-opacity=".05" stroke-width="2"/><line x1="38" y1="378.8" x2="620" y2="378.8" stroke="#000" stroke-opacity=".05" stroke-width="2"/><line x1="38" y1="419.4" x2="620" y2="419.4" stroke="#000" stroke-opacity=".05" stroke-width="2"/><line x1="38" y1="460.0" x2="620" y2="460.0" stroke="#000" stroke-opacity=".05" stroke-width="2"/><line x1="38" y1="500.6" x2="620" y2="500.6" stroke="#000" stroke-opacity=".05" stroke-width="2"/><line x1="38" y1="541.2" x2="620" y2="541.2" stroke="#000" stroke-opacity=".05" stroke-width="2"/><rect x="42" y="394" width="53" height="56" fill="#8d49ad"/><rect x="42.0" y="394" width="5" height="56" fill="#8446ac"/><rect x="47.0" y="394" width="6" height="56" fill="#b84eb0"/><rect x="53.0" y="394" width="8" height="56" fill="#8f48ad"/><rect x="61.0" y="394" width="2" height="56" fill="#6a40a8"/><rect x="63.0" y="394" width="8" height="56" fill="#a04cae"/><rect x="71.0" y="394" width="6" height="56" fill="#e85fb4"/><rect x="77.0" y="394" width="3" height="56" fill="#d858b0"/><rect x="80.0" y="394" width="3" height="56" fill="#6a40a8"/><rect x="83.0" y="394" width="8" height="56" fill="#a04cae"/><rect x="91.0" y="394" width="4" height="56" fill="#8f48ad"/><rect x="104" y="394" width="68" height="56" fill="#8d49ad"/><rect x="104.0" y="394" width="2" height="56" fill="#c652b0"/><rect x="106.0" y="394" width="3" height="56" fill="#e85fb4"/><rect x="109.0" y="394" width="6" height="56" fill="#a04cae"/><rect x="115.0" y="394" width="4" height="56" fill="#8446ac"/><rect x="119.0" y="394" width="3" height="56" fill="#9a4aae"/><rect x="122.0" y="394" width="3" height="56" fill="#d858b0"/><rect x="125.0" y="394" width="3" height="56" fill="#c652b0"/><rect x="128.0" y="394" width="5" height="56" fill="#6a40a8"/><rect x="133.0" y="394" width="3" height="56" fill="#f06ab8"/><rect x="136.0" y="394" width="2" height="56" fill="#e85fb4"/><rect x="138.0" y="394" width="3" height="56" fill="#a04cae"/><rect x="141.0" y="394" width="3" height="56" fill="#f06ab8"/><rect x="144.0" y="394" width="3" height="56" fill="#b84eb0"/><rect x="147.0" y="394" width="3" height="56" fill="#8f48ad"/><rect x="150.0" y="394" width="6" height="56" fill="#a04cae"/><rect x="156.0" y="394" width="3" height="56" fill="#a04cae"/><rect x="159.0" y="394" width="4" height="56" fill="#8446ac"/><rect x="163.0" y="394" width="2" height="56" fill="#b84eb0"/><rect x="165.0" y="394" width="4" height="56" fill="#f06ab8"/><rect x="169.0" y="394" width="3" height="56" fill="#8446ac"/><rect x="208" y="394" width="22" height="56" fill="#8d49ad"/><rect x="208.0" y="394" width="2" height="56" fill="#b84eb0"/><rect x="210.0" y="394" width="3" height="56" fill="#c652b0"/><rect x="213.0" y="394" width="5" height="56" fill="#e85fb4"/><rect x="218.0" y="394" width="5" height="56" fill="#b84eb0"/><rect x="223.0" y="394" width="2" height="56" fill="#8446ac"/><rect x="225.0" y="394" width="3" height="56" fill="#8446ac"/><rect x="228.0" y="394" width="2" height="56" fill="#b84eb0"/><rect x="236" y="394" width="49" height="56" fill="#8d49ad"/><rect x="236.0" y="394" width="3" height="56" fill="#6a40a8"/><rect x="239.0" y="394" width="4" height="56" fill="#f06ab8"/><rect x="243.0" y="394" width="2" height="56" fill="#8446ac"/><rect x="245.0" y="394" width="2" height="56" fill="#b84eb0"/><rect x="247.0" y="394" width="8" height="56" fill="#9a4aae"/><rect x="255.0" y="394" width="2" height="56" fill="#8f48ad"/><rect x="257.0" y="394" width="8" height="56" fill="#9a4aae"/><rect x="265.0" y="394" width="3" height="56" fill="#9a4aae"/><rect x="268.0" y="394" width="5" height="56" fill="#e85fb4"/><rect x="273.0" y="394" width="4" height="56" fill="#e85fb4"/><rect x="277.0" y="394" width="6" height="56" fill="#f06ab8"/><rect x="283.0" y="394" width="2" height="56" fill="#a04cae"/><rect x="292" y="394" width="10" height="56" fill="#8d49ad"/><rect x="292.0" y="394" width="2" height="56" fill="#a04cae"/><rect x="294.0" y="394" width="8" height="56" fill="#6a40a8"/><rect x="308" y="394" width="64" height="56" fill="#8d49ad"/><rect x="308.0" y="394" width="3" height="56" fill="#8f48ad"/><rect x="311.0" y="394" width="3" height="56" fill="#8f48ad"/><rect x="314.0" y="394" width="3" height="56" fill="#6a40a8"/><rect x="317.0" y="394" width="2" height="56" fill="#c652b0"/><rect x="319.0" y="394" width="6" height="56" fill="#b84eb0"/><rect x="325.0" y="394" width="8" height="56" fill="#8446ac"/><rect x="333.0" y="394" width="2" height="56" fill="#9a4aae"/><rect x="335.0" y="394" width="2" height="56" fill="#a04cae"/><rect x="337.0" y="394" width="3" height="56" fill="#8f48ad"/><rect x="340.0" y="394" width="5" height="56" fill="#b84eb0"/><rect x="345.0" y="394" width="3" height="56" fill="#b84eb0"/><rect x="348.0" y="394" width="3" height="56" fill="#8f48ad"/><rect x="351.0" y="394" width="2" height="56" fill="#8446ac"/><rect x="353.0" y="394" width="6" height="56" fill="#b84eb0"/><rect x="359.0" y="394" width="3" height="56" fill="#f06ab8"/><rect x="362.0" y="394" width="8" height="56" fill="#d858b0"/><rect x="370.0" y="394" width="2" height="56" fill="#f06ab8"/><rect x="380" y="394" width="16" height="56" fill="#8d49ad"/><rect x="380.0" y="394" width="6" height="56" fill="#8446ac"/><rect x="386.0" y="394" width="4" height="56" fill="#f06ab8"/><rect x="390.0" y="394" width="6" height="56" fill="#e85fb4"/><rect x="426" y="394" width="6" height="56" fill="#8d49ad"/><rect x="426.0" y="394" width="2" height="56" fill="#c652b0"/><rect x="428.0" y="394" width="4" height="56" fill="#9a4aae"/><rect x="446" y="394" width="56" height="56" fill="#8d49ad"/><rect x="446.0" y="394" width="2" height="56" fill="#a04cae"/><rect x="448.0" y="394" width="6" height="56" fill="#c652b0"/><rect x="454.0" y="394" width="3" height="56" fill="#8446ac"/><rect x="457.0" y="394" width="4" height="56" fill="#9a4aae"/><rect x="461.0" y="394" width="3" height="56" fill="#e85fb4"/><rect x="464.0" y="394" width="6" height="56" fill="#e85fb4"/><rect x="470.0" y="394" width="8" height="56" fill="#6a40a8"/><rect x="478.0" y="394" width="3" height="56" fill="#a04cae"/><rect x="481.0" y="394" width="3" height="56" fill="#c652b0"/><rect x="484.0" y="394" width="3" height="56" fill="#9a4aae"/><rect x="487.0" y="394" width="2" height="56" fill="#f06ab8"/><rect x="489.0" y="394" width="4" height="56" fill="#b84eb0"/><rect x="493.0" y="394" width="3" height="56" fill="#e85fb4"/><rect x="496.0" y="394" width="6" height="56" fill="#9a4aae"/><rect x="508" y="394" width="32" height="56" fill="#8d49ad"/><rect x="508.0" y="394" width="3" height="56" fill="#f06ab8"/><rect x="511.0" y="394" width="4" height="56" fill="#c652b0"/><rect x="515.0" y="394" width="8" height="56" fill="#f06ab8"/><rect x="523.0" y="394" width="5" height="56" fill="#6a40a8"/><rect x="528.0" y="394" width="4" height="56" fill="#b84eb0"/><rect x="532.0" y="394" width="4" height="56" fill="#8446ac"/><rect x="536.0" y="394" width="3" height="56" fill="#6a40a8"/><rect x="539.0" y="394" width="1" height="56" fill="#f06ab8"/><rect x="548" y="394" width="32" height="56" fill="#8d49ad"/><rect x="548.0" y="394" width="2" height="56" fill="#9a4aae"/><rect x="550.0" y="394" width="8" height="56" fill="#8f48ad"/><rect x="558.0" y="394" width="3" height="56" fill="#6a40a8"/><rect x="561.0" y="394" width="8" height="56" fill="#b84eb0"/><rect x="569.0" y="394" width="3" height="56" fill="#d858b0"/><rect x="572.0" y="394" width="4" height="56" fill="#8446ac"/><rect x="576.0" y="394" width="4" height="56" fill="#8f48ad"/><rect x="588" y="394" width="30" height="56" fill="#8d49ad"/><rect x="588.0" y="394" width="8" height="56" fill="#8f48ad"/><rect x="596.0" y="394" width="3" height="56" fill="#d858b0"/><rect x="599.0" y="394" width="8" height="56" fill="#b84eb0"/><rect x="607.0" y="394" width="6" height="56" fill="#c652b0"/><rect x="613.0" y="394" width="5" height="56" fill="#e85fb4"/><rect x="38" y="452" width="580" height="60" fill="#419fc6"/><rect x="38.0" y="452" width="5" height="60" fill="#40c4d6"/><rect x="43.0" y="452" width="5" height="60" fill="#34e0de"/><rect x="48.0" y="452" width="5" height="60" fill="#3d7cc0"/><rect x="53.0" y="452" width="3" height="60" fill="#2fe6e0"/><rect x="56.0" y="452" width="9" height="60" fill="#34e0de"/><rect x="65.0" y="452" width="6" height="60" fill="#3f96c6"/><rect x="71.0" y="452" width="5" height="60" fill="#35dcdc"/><rect x="76.0" y="452" width="6" height="60" fill="#35dcdc"/><rect x="82.0" y="452" width="6" height="60" fill="#4aa6cc"/><rect x="88.0" y="452" width="6" height="60" fill="#3a8ec8"/><rect x="94.0" y="452" width="9" height="60" fill="#3d7cc0"/><rect x="103.0" y="452" width="3" height="60" fill="#3a8ec8"/><rect x="106.0" y="452" width="4" height="60" fill="#3f96c6"/><rect x="110.0" y="452" width="5" height="60" fill="#40c4d6"/><rect x="115.0" y="452" width="7" height="60" fill="#48aace"/><rect x="122.0" y="452" width="7" height="60" fill="#3a84c4"/><rect x="129.0" y="452" width="5" height="60" fill="#2fe6e0"/><rect x="134.0" y="452" width="4" height="60" fill="#3f96c6"/><rect x="138.0" y="452" width="3" height="60" fill="#35dcdc"/><rect x="141.0" y="452" width="3" height="60" fill="#2fe6e0"/><rect x="144.0" y="452" width="9" height="60" fill="#3a8ec8"/><rect x="153.0" y="452" width="2" height="60" fill="#3ccfd8"/><rect x="155.0" y="452" width="6" height="60" fill="#3f96c6"/><rect x="161.0" y="452" width="4" height="60" fill="#4aa6cc"/><rect x="165.0" y="452" width="9" height="60" fill="#35dcdc"/><rect x="174.0" y="452" width="3" height="60" fill="#45b4d0"/><rect x="177.0" y="452" width="6" height="60" fill="#2a369c"/><rect x="183.0" y="452" width="5" height="60" fill="#3ccfd8"/><rect x="188.0" y="452" width="6" height="60" fill="#3a84c4"/><rect x="194.0" y="452" width="5" height="60" fill="#3a84c4"/><rect x="199.0" y="452" width="6" height="60" fill="#34e0de"/><rect x="205.0" y="452" width="6" height="60" fill="#4aa6cc"/><rect x="211.0" y="452" width="7" height="60" fill="#35dcdc"/><rect x="218.0" y="452" width="6" height="60" fill="#3a8ec8"/><rect x="224.0" y="452" width="7" height="60" fill="#45b4d0"/><rect x="231.0" y="452" width="3" height="60" fill="#3d7cc0"/><rect x="234.0" y="452" width="2" height="60" fill="#3d7cc0"/><rect x="236.0" y="452" width="3" height="60" fill="#48aace"/><rect x="239.0" y="452" width="7" height="60" fill="#45b4d0"/><rect x="246.0" y="452" width="9" height="60" fill="#40c4d6"/><rect x="255.0" y="452" width="7" height="60" fill="#3a8ec8"/><rect x="262.0" y="452" width="5" height="60" fill="#34e0de"/><rect x="267.0" y="452" width="9" height="60" fill="#2fe6e0"/><rect x="276.0" y="452" width="6" height="60" fill="#34e0de"/><rect x="282.0" y="452" width="9" height="60" fill="#3a8ec8"/><rect x="291.0" y="452" width="9" height="60" fill="#2a369c"/><rect x="300.0" y="452" width="4" height="60" fill="#3a8ec8"/><rect x="304.0" y="452" width="7" height="60" fill="#2a369c"/><rect x="311.0" y="452" width="4" height="60" fill="#2fe6e0"/><rect x="315.0" y="452" width="4" height="60" fill="#3a8ec8"/><rect x="319.0" y="452" width="5" height="60" fill="#48aace"/><rect x="324.0" y="452" width="9" height="60" fill="#48aace"/><rect x="333.0" y="452" width="3" height="60" fill="#2a369c"/><rect x="336.0" y="452" width="5" height="60" fill="#40c4d6"/><rect x="341.0" y="452" width="6" height="60" fill="#40c4d6"/><rect x="347.0" y="452" width="2" height="60" fill="#3d7cc0"/><rect x="349.0" y="452" width="3" height="60" fill="#2a369c"/><rect x="352.0" y="452" width="9" height="60" fill="#3ccfd8"/><rect x="361.0" y="452" width="4" height="60" fill="#2a369c"/><rect x="365.0" y="452" width="9" height="60" fill="#4aa6cc"/><rect x="374.0" y="452" width="9" height="60" fill="#40c4d6"/><rect x="383.0" y="452" width="4" height="60" fill="#3f96c6"/><rect x="387.0" y="452" width="3" height="60" fill="#2fe6e0"/><rect x="390.0" y="452" width="7" height="60" fill="#35dcdc"/><rect x="397.0" y="452" width="9" height="60" fill="#3a8ec8"/><rect x="406.0" y="452" width="3" height="60" fill="#3a84c4"/><rect x="409.0" y="452" width="9" height="60" fill="#3a84c4"/><rect x="418.0" y="452" width="3" height="60" fill="#3a84c4"/><rect x="421.0" y="452" width="2" height="60" fill="#45b4d0"/><rect x="423.0" y="452" width="5" height="60" fill="#3ccfd8"/><rect x="428.0" y="452" width="2" height="60" fill="#4aa6cc"/><rect x="430.0" y="452" width="3" height="60" fill="#40c4d6"/><rect x="433.0" y="452" width="9" height="60" fill="#3ccfd8"/><rect x="442.0" y="452" width="4" height="60" fill="#3ccfd8"/><rect x="446.0" y="452" width="3" height="60" fill="#40c4d6"/><rect x="449.0" y="452" width="9" height="60" fill="#48aace"/><rect x="458.0" y="452" width="3" height="60" fill="#3a8ec8"/><rect x="461.0" y="452" width="3" height="60" fill="#2fe6e0"/><rect x="464.0" y="452" width="3" height="60" fill="#40c4d6"/><rect x="467.0" y="452" width="3" height="60" fill="#48aace"/><rect x="470.0" y="452" width="3" height="60" fill="#48aace"/><rect x="473.0" y="452" width="3" height="60" fill="#2a369c"/><rect x="476.0" y="452" width="6" height="60" fill="#3f96c6"/><rect x="482.0" y="452" width="9" height="60" fill="#35dcdc"/><rect x="491.0" y="452" width="6" height="60" fill="#3a8ec8"/><rect x="497.0" y="452" width="5" height="60" fill="#35dcdc"/><rect x="502.0" y="452" width="5" height="60" fill="#3a84c4"/><rect x="507.0" y="452" width="4" height="60" fill="#3a84c4"/><rect x="511.0" y="452" width="4" height="60" fill="#34e0de"/><rect x="515.0" y="452" width="3" height="60" fill="#3d7cc0"/><rect x="518.0" y="452" width="9" height="60" fill="#3a8ec8"/><rect x="527.0" y="452" width="3" height="60" fill="#35dcdc"/><rect x="530.0" y="452" width="6" height="60" fill="#35dcdc"/><rect x="536.0" y="452" width="2" height="60" fill="#3ccfd8"/><rect x="538.0" y="452" width="9" height="60" fill="#3f96c6"/><rect x="547.0" y="452" width="9" height="60" fill="#3ccfd8"/><rect x="556.0" y="452" width="2" height="60" fill="#4aa6cc"/><rect x="558.0" y="452" width="2" height="60" fill="#4aa6cc"/><rect x="560.0" y="452" width="4" height="60" fill="#3ccfd8"/><rect x="564.0" y="452" width="9" height="60" fill="#3a8ec8"/><rect x="573.0" y="452" width="7" height="60" fill="#45b4d0"/><rect x="580.0" y="452" width="5" height="60" fill="#48aace"/><rect x="585.0" y="452" width="6" height="60" fill="#4aa6cc"/><rect x="591.0" y="452" width="3" height="60" fill="#3d7cc0"/><rect x="594.0" y="452" width="5" height="60" fill="#4aa6cc"/><rect x="599.0" y="452" width="6" height="60" fill="#48aace"/><rect x="605.0" y="452" width="4" height="60" fill="#4aa6cc"/><rect x="609.0" y="452" width="3" height="60" fill="#2fe6e0"/><rect x="612.0" y="452" width="3" height="60" fill="#2fe6e0"/><rect x="615.0" y="452" width="3" height="60" fill="#3f96c6"/><rect x="92.0" y="514" width="3" height="58" fill="#4a5cc4" fill-opacity=".95"/><rect x="100.0" y="514" width="6" height="58" fill="#5560c0" fill-opacity=".95"/><rect x="114.0" y="514" width="4" height="58" fill="#4a5cc4" fill-opacity=".95"/><rect x="144.0" y="514" width="3" height="58" fill="#3b6fd8" fill-opacity=".95"/><rect x="173.0" y="514" width="5" height="58" fill="#3b6fd8" fill-opacity=".95"/><rect x="190.0" y="514" width="6" height="58" fill="#4a5cc4" fill-opacity=".95"/><rect x="198.0" y="514" width="4" height="58" fill="#5560c0" fill-opacity=".95"/><rect x="210.0" y="514" width="3" height="58" fill="#4a96f6" fill-opacity=".95"/><rect x="218.0" y="514" width="4" height="58" fill="#3b7ae8" fill-opacity=".95"/><rect x="234.0" y="514" width="3" height="58" fill="#4a5cc4" fill-opacity=".95"/><rect x="249.0" y="514" width="4" height="58" fill="#4a96f6" fill-opacity=".95"/><rect x="261.0" y="514" width="3" height="58" fill="#3b7ae8" fill-opacity=".95"/><rect x="282.0" y="514" width="5" height="58" fill="#4a5cc4" fill-opacity=".95"/><rect x="295.0" y="514" width="3" height="58" fill="#3786f2" fill-opacity=".95"/><rect x="324.0" y="514" width="6" height="58" fill="#4a5cc4" fill-opacity=".95"/><rect x="335.0" y="514" width="4" height="58" fill="#3786f2" fill-opacity=".95"/><rect x="342.0" y="514" width="3" height="58" fill="#5560c0" fill-opacity=".95"/><rect x="348.0" y="514" width="3" height="58" fill="#5560c0" fill-opacity=".95"/><rect x="354.0" y="514" width="5" height="58" fill="#4a96f6" fill-opacity=".95"/><rect x="385.0" y="514" width="4" height="58" fill="#4a5cc4" fill-opacity=".95"/><rect x="394.0" y="514" width="6" height="58" fill="#3786f2" fill-opacity=".95"/><rect x="405.0" y="514" width="4" height="58" fill="#3b6fd8" fill-opacity=".95"/><rect x="417.0" y="514" width="4" height="58" fill="#3786f2" fill-opacity=".95"/><rect x="424.0" y="514" width="6" height="58" fill="#3786f2" fill-opacity=".95"/><rect x="438.0" y="514" width="3" height="58" fill="#4a5cc4" fill-opacity=".95"/><rect x="449.0" y="514" width="3" height="58" fill="#3786f2" fill-opacity=".95"/><rect x="478.0" y="514" width="10" height="58" fill="#5560c0" fill-opacity=".95"/><rect x="490.0" y="514" width="3" height="58" fill="#3b7ae8" fill-opacity=".95"/><rect x="498.0" y="514" width="4" height="58" fill="#4a5cc4" fill-opacity=".95"/><rect x="504.0" y="514" width="4" height="58" fill="#3786f2" fill-opacity=".95"/><rect x="516.0" y="514" width="5" height="58" fill="#3786f2" fill-opacity=".95"/><rect x="533.0" y="514" width="8" height="58" fill="#3786f2" fill-opacity=".95"/><rect x="549.0" y="514" width="6" height="58" fill="#4a5cc4" fill-opacity=".95"/><rect x="557.0" y="514" width="6" height="58" fill="#3b7ae8" fill-opacity=".95"/><rect x="571.0" y="514" width="3" height="58" fill="#3b6fd8" fill-opacity=".95"/><rect x="582.0" y="514" width="10" height="58" fill="#3b7ae8" fill-opacity=".95"/><rect x="595.0" y="514" width="4" height="58" fill="#5560c0" fill-opacity=".95"/></svg><div class="t" style="top:606.8px;font-size:27px;color:rgba(255,255,255,.45);letter-spacing:1px;left:158px;transform:translateX(-50%);transform-origin:50% 50%;">上一段</div><div class="t" style="top:603.3px;font-size:34px;color:rgba(255,255,255,.72);left:328px;transform:translateX(-50%) scaleX(0.74);transform-origin:50% 50%;">00:15 - 06:49</div><div class="t" style="top:606.8px;font-size:27px;color:rgba(255,255,255,.45);letter-spacing:1px;left:497px;transform:translateX(-50%);transform-origin:50% 50%;">下一段</div><div class="a" style="left:28px;top:696px;width:624px;height:2px;background:#ededed;"></div><div class="a" style="left:27px;top:714px;width:601px;height:103px;background:#f4f3f9;border-radius:16px;"></div><div class="t" style="top:752.3px;font-size:30px;color:#222;font-weight:700;left:52px;">睡眠质量</div><svg class="a" style="left:426px;top:749px;" width="32" height="32" viewBox="0 0 28 28"><path d="M14 1 L18 9.6 L27.4 10.8 L20.5 17.3 L22.3 26.6 L14 22 L5.7 26.6 L7.5 17.3 L0.6 10.8 L10 9.6Z" fill="#f8b830"/></svg><svg class="a" style="left:458px;top:749px;" width="32" height="32" viewBox="0 0 28 28"><path d="M14 1 L18 9.6 L27.4 10.8 L20.5 17.3 L22.3 26.6 L14 22 L5.7 26.6 L7.5 17.3 L0.6 10.8 L10 9.6Z" fill="#f8b830"/></svg><svg class="a" style="left:490px;top:749px;" width="32" height="32" viewBox="0 0 28 28"><path d="M14 1 L18 9.6 L27.4 10.8 L20.5 17.3 L22.3 26.6 L14 22 L5.7 26.6 L7.5 17.3 L0.6 10.8 L10 9.6Z" fill="#f8b830"/></svg><svg class="a" style="left:522px;top:749px;" width="32" height="32" viewBox="0 0 28 28"><path d="M14 1 L18 9.6 L27.4 10.8 L20.5 17.3 L22.3 26.6 L14 22 L5.7 26.6 L7.5 17.3 L0.6 10.8 L10 9.6Z" fill="#c9c9ce"/></svg><svg class="a" style="left:554px;top:749px;" width="32" height="32" viewBox="0 0 28 28"><path d="M14 1 L18 9.6 L27.4 10.8 L20.5 17.3 L22.3 26.6 L14 22 L5.7 26.6 L7.5 17.3 L0.6 10.8 L10 9.6Z" fill="#c9c9ce"/></svg><svg class="a" style="left:600px;top:756px;" width="12" height="20" viewBox="0 0 12 20"><path d="M2 2 L10 10 L2 18" fill="none" stroke="#b0b0b4" stroke-width="3" stroke-linecap="round" stroke-linejoin="round"/></svg><div class="a" style="left:27px;top:837px;width:601px;height:373px;background:#f4f3f9;border-radius:16px;"></div><div class="a" style="left:52px;top:854px;width:96px;height:90px;background:#cbc2ea;border-radius:14px;"></div><div class="a" style="left:52px;top:854px;width:96px;height:58px;background:#9181d2;border-radius:14px;border-radius:14px 14px 0 0;"></div><svg class="a" style="left:82px;top:865px;" width="36" height="36" viewBox="0 0 36 36"><circle cx="18" cy="18" r="15" fill="none" stroke="#fff" stroke-opacity=".85" stroke-width="3"/><path d="M18 9 V18 L24 22" fill="none" stroke="#fff" stroke-opacity=".85" stroke-width="3" stroke-linecap="round"/></svg><div class="t" style="top:920.2px;font-size:16px;color:#8f7fd0;letter-spacing:1px;left:100px;transform:translateX(-50%);transform-origin:50% 50%;">偏低</div><div class="t" style="top:853.8px;font-size:27px;color:#9181d2;font-weight:500;left:160px;">睡眠时长</div><div class="t" style="top:912.9px;font-size:35px;color:#555;left:160px;">6<span style="font-size:24px">H</span>34<span style="font-size:24px">M</span></div><div class="a" style="left:280px;top:888px;width:20px;height:20px;background:#cfcfd3;border-radius:10px;"></div><div class="t" style="top:890.6px;font-size:15px;color:#fff;font-weight:700;left:290px;transform:translateX(-50%);transform-origin:50% 50%;">i</div><div class="a" style="left:355px;top:854px;width:96px;height:90px;background:#fbeca4;border-radius:14px;"></div><div class="a" style="left:355px;top:854px;width:96px;height:58px;background:#f8d946;border-radius:14px;border-radius:14px 14px 0 0;"></div><div class="t" style="top:866.8px;font-size:33px;color:#fff;font-weight:700;left:403px;transform:translateX(-50%) scaleX(1.08);transform-origin:50% 50%;">0%</div><div class="t" style="top:920.2px;font-size:16px;color:#e8c030;letter-spacing:1px;left:403px;transform:translateX(-50%);transform-origin:50% 50%;">正常</div><div class="t" style="top:853.8px;font-size:27px;color:#f3cb3f;font-weight:500;left:463px;">苏醒</div><div class="t" style="top:912.9px;font-size:35px;color:#555;left:463px;">0<span style="font-size:24px">M</span></div><div class="a" style="left:583px;top:888px;width:20px;height:20px;background:#cfcfd3;border-radius:10px;"></div><div class="t" style="top:890.6px;font-size:15px;color:#fff;font-weight:700;left:593px;transform:translateX(-50%);transform-origin:50% 50%;">i</div><div class="a" style="left:52px;top:978px;width:96px;height:90px;background:#fcd5a0;border-radius:14px;"></div><div class="a" style="left:52px;top:978px;width:96px;height:58px;background:#f9ab48;border-radius:14px;border-radius:14px 14px 0 0;"></div><div class="t" style="top:990.8px;font-size:33px;color:#fff;font-weight:700;left:100px;transform:translateX(-50%) scaleX(1.08);transform-origin:50% 50%;">0%</div><div class="t" style="top:1044.2px;font-size:16px;color:#f0a040;letter-spacing:1px;left:100px;transform:translateX(-50%);transform-origin:50% 50%;">正常</div><div class="t" style="top:977.8px;font-size:27px;color:#f9ab48;font-weight:500;left:160px;">失眠</div><div class="t" style="top:1036.8px;font-size:35px;color:#555;left:160px;">0<span style="font-size:24px">M</span></div><div class="a" style="left:280px;top:1012px;width:20px;height:20px;background:#cfcfd3;border-radius:10px;"></div><div class="t" style="top:1014.6px;font-size:15px;color:#fff;font-weight:700;left:290px;transform:translateX(-50%);transform-origin:50% 50%;">i</div><div class="a" style="left:355px;top:978px;width:96px;height:90px;background:#f8b4d4;border-radius:14px;"></div><div class="a" style="left:355px;top:978px;width:96px;height:58px;background:#f26dab;border-radius:14px;border-radius:14px 14px 0 0;"></div><div class="t" style="top:990.8px;font-size:33px;color:#fff;font-weight:700;left:403px;transform:translateX(-50%) scaleX(1.08);transform-origin:50% 50%;">32%</div><div class="t" style="top:1044.2px;font-size:16px;color:#e85a9c;letter-spacing:1px;left:403px;transform:translateX(-50%);transform-origin:50% 50%;">偏高</div><div class="t" style="top:977.8px;font-size:27px;color:#f26dab;font-weight:500;left:463px;">快速眼动</div><div class="t" style="top:1036.8px;font-size:35px;color:#555;left:463px;">2<span style="font-size:24px">H</span>7<span style="font-size:24px">M</span></div><div class="a" style="left:583px;top:1012px;width:20px;height:20px;background:#cfcfd3;border-radius:10px;"></div><div class="t" style="top:1014.6px;font-size:15px;color:#fff;font-weight:700;left:593px;transform:translateX(-50%);transform-origin:50% 50%;">i</div><div class="a" style="left:52px;top:1102px;width:96px;height:90px;background:#a4e8e0;border-radius:14px;"></div><div class="a" style="left:52px;top:1102px;width:96px;height:58px;background:#4bd2c4;border-radius:14px;border-radius:14px 14px 0 0;"></div><div class="t" style="top:1114.8px;font-size:33px;color:#fff;font-weight:700;left:100px;transform:translateX(-50%) scaleX(1.08);transform-origin:50% 50%;">49%</div><div class="t" style="top:1168.2px;font-size:16px;color:#3cc0b2;letter-spacing:1px;left:100px;transform:translateX(-50%);transform-origin:50% 50%;">正常</div><div class="t" style="top:1101.8px;font-size:27px;color:#4bd2c4;font-weight:500;left:160px;">浅度睡眠</div><div class="t" style="top:1160.8px;font-size:35px;color:#555;left:160px;">3<span style="font-size:24px">H</span>15<span style="font-size:24px">M</span></div><div class="a" style="left:280px;top:1136px;width:20px;height:20px;background:#cfcfd3;border-radius:10px;"></div><div class="t" style="top:1138.7px;font-size:15px;color:#fff;font-weight:700;left:290px;transform:translateX(-50%);transform-origin:50% 50%;">i</div><div class="a" style="left:355px;top:1102px;width:96px;height:90px;background:#9ccef8;border-radius:14px;"></div><div class="a" style="left:355px;top:1102px;width:96px;height:58px;background:#3a9ff2;border-radius:14px;border-radius:14px 14px 0 0;"></div><div class="t" style="top:1114.8px;font-size:33px;color:#fff;font-weight:700;left:403px;transform:translateX(-50%) scaleX(1.08);transform-origin:50% 50%;">18%</div><div class="t" style="top:1168.2px;font-size:16px;color:#3a90e0;letter-spacing:1px;left:403px;transform:translateX(-50%);transform-origin:50% 50%;">偏低</div><div class="t" style="top:1101.8px;font-size:27px;color:#3a9ff2;font-weight:500;left:463px;">深度睡眠</div><div class="t" style="top:1160.8px;font-size:35px;color:#555;left:463px;">1<span style="font-size:24px">H</span>12<span style="font-size:24px">M</span></div><div class="a" style="left:583px;top:1136px;width:20px;height:20px;background:#cfcfd3;border-radius:10px;"></div><div class="t" style="top:1138.7px;font-size:15px;color:#fff;font-weight:700;left:593px;transform:translateX(-50%);transform-origin:50% 50%;">i</div><div class="a" style="left:326px;top:869px;width:2px;height:66px;background:#e6e5ec;"></div><div class="a" style="left:326px;top:993px;width:2px;height:66px;background:#e6e5ec;"></div><div class="a" style="left:326px;top:1117px;width:2px;height:66px;background:#e6e5ec;"></div><div class="a" style="left:52px;top:959px;width:552px;height:2px;background:#eae9f0;"></div><div class="a" style="left:52px;top:1083px;width:552px;height:2px;background:#eae9f0;"></div><div class="a" style="left:28px;top:1216px;width:598px;height:2px;background:#ededed;"></div><div class="a" style="left:28px;top:1263px;width:624px;height:2px;background:#ededed;"></div><svg class="a" style="left:26px;top:1298px;" width="40" height="38" viewBox="0 0 40 38"><g fill="#a487e6"><rect x="1" y="2" width="4" height="34" rx="2"/><rect x="1" y="24" width="38" height="8"/><rect x="35" y="24" width="4" height="12" rx="1"/><circle cx="12" cy="16" r="5"/><path d="M19 22 V15 H32 A6 6 0 0 1 38 22Z"/></g></svg><div class="t" style="top:1302.8px;font-size:29px;color:#333;font-weight:500;left:85px;">苏醒次数</div><div class="t" style="top:1296.0px;font-size:45px;color:#5566b8;left:574px;transform:translateX(-100%) scaleX(0.72);transform-origin:100% 50%;">0</div><div class="t" style="top:1311.3px;font-size:26px;color:#5566b8;left:578px;">次</div><svg class="a" style="left:614px;top:1306px;" width="12" height="20" viewBox="0 0 12 20"><path d="M2 2 L10 10 L2 18" fill="none" stroke="#b0b0b4" stroke-width="3" stroke-linecap="round" stroke-linejoin="round"/></svg></div>
<div class="p" style="left:1304px;top:1428px;width:656px;height:1372px;background:#fff"><div class="a" style="left:0;top:0;width:652px;height:1372px;transform:scaleX(1.0062);transform-origin:0 0"><div class="a" style="left:0px;top:0px;width:652px;height:604px;background:#08c4dc;"></div><div class="t" style="top:26.3px;font-size:28px;color:#111;font-weight:700;left:60px;transform:scaleX(1.04);transform-origin:0 50%;">19:20</div><svg class="a" style="left:143px;top:28px;" width="20" height="24" viewBox="0 0 20 24"><rect x="0.5" y="0.5" width="19" height="23" rx="4.5" fill="#111"/><rect x="5" y="5" width="10" height="7" rx="1" fill="#111" stroke="BGC" stroke-opacity=".0"/><path d="M6 17.5 H14 M10 9 V17" stroke="#888" stroke-opacity=".55" stroke-width="2"/></svg><svg class="a" style="left:471px;top:28px;" width="32" height="20" viewBox="0 0 32 20"><rect x="0" y="6" width="6" height="4" rx="1.2" fill="#111" opacity="1"/><rect x="8" y="4" width="6" height="6" rx="1.2" fill="#111" opacity="1"/><rect x="16" y="2" width="6" height="8" rx="1.2" fill="#111" opacity="1"/><rect x="24" y="0" width="6" height="10" rx="1.2" fill="#111" opacity="0.3"/><rect x="0" y="14" width="6" height="5.5" rx="1.5" fill="#111" opacity="1"/><rect x="8" y="14" width="6" height="5.5" rx="1.5" fill="#111" opacity="1"/><rect x="16" y="14" width="6" height="5.5" rx="1.5" fill="#111" opacity="0.3"/><rect x="24" y="14" width="6" height="5.5" rx="1.5" fill="#111" opacity="0.3"/></svg><svg class="a" style="left:514px;top:27px;" width="32" height="26" viewBox="0 0 32 26"><path d="M2 9 A19 19 0 0 1 30 9" fill="none" stroke="#111" stroke-width="4.2" stroke-linecap="round"/><path d="M8 15 A11.5 11.5 0 0 1 24 15" fill="none" stroke="#111" stroke-width="4.2" stroke-linecap="round"/><circle cx="16" cy="21" r="3" fill="#111"/></svg><div class="a" style="left:556px;top:28px;width:42px;height:22px;background:#62d66e;border-radius:6px;"></div><div class="a" style="left:598px;top:35px;width:3px;height:8px;background:#62d66e;border-radius:1.5px;"></div><div class="t" style="top:29.2px;font-size:21px;color:#fff;font-weight:700;letter-spacing:-0.3px;left:577px;transform:translateX(-50%);transform-origin:50% 50%;">99+</div><svg class="a" style="left:36px;top:99px;" width="20" height="32" viewBox="0 0 20 32"><path d="M17 3 L4 16 L17 29" fill="none" stroke="#fff" stroke-width="4" stroke-linecap="round" stroke-linejoin="round"/></svg><div class="t" style="top:101.3px;font-size:28px;color:#fff;font-weight:700;left:326px;transform:translateX(-50%);transform-origin:50% 50%;">运动</div><svg class="a" style="left:596px;top:98px;" width="32" height="34" viewBox="0 0 32 34"><g fill="none" stroke="#fff" stroke-width="3"><circle cx="24" cy="7" r="4.6"/><circle cx="7" cy="17" r="4.6"/><circle cx="24" cy="27" r="4.6"/><path d="M11 14.5 L20 9.5 M11 19.5 L20 24.5"/></g></svg><div class="a" style="left:0px;top:152px;width:652px;height:2px;background:rgba(255,255,255,.28);"></div><div class="a" style="left:177px;top:180px;width:36px;height:36px;background:rgba(255,255,255,.22);border-radius:18px;"></div><svg class="a" style="left:187px;top:187px;" width="14" height="22" viewBox="0 0 14 22"><path d="M11 1 L2.5 11 L11 21" fill="none" stroke="#fff" stroke-opacity=".95" stroke-width="4" stroke-linecap="round" stroke-linejoin="round"/></svg><div class="t" style="top:183.8px;font-size:29px;color:#fff;font-weight:700;left:327px;transform:translateX(-50%) scaleX(1.17);transform-origin:50% 50%;">2023-09-25</div><div class="a" style="left:440px;top:180px;width:36px;height:36px;background:rgba(255,255,255,.16);border-radius:18px;"></div><svg class="a" style="left:452px;top:187px;" width="14" height="22" viewBox="0 0 14 22"><path d="M3 1 L11.5 11 L3 21" fill="none" stroke="#fff" stroke-opacity=".5" stroke-width="4" stroke-linecap="round" stroke-linejoin="round"/></svg><svg class="a" style="left:500px;top:180px;" width="36" height="34" viewBox="0 0 36 34"><rect x="2" y="5" width="32" height="27" rx="4" fill="#fff" fill-opacity=".45" stroke="#fff" stroke-width="3"/><rect x="2" y="5" width="32" height="9" rx="3" fill="#fff"/><rect x="8.5" y="0" width="4" height="8" rx="2" fill="#fff"/><rect x="23.5" y="0" width="4" height="8" rx="2" fill="#fff"/><g fill="#fff"><rect x="8" y="17" width="3.4" height="11"/><rect x="14" y="17" width="3.4" height="11"/><rect x="20" y="17" width="3.4" height="11"/><rect x="26" y="17" width="3.4" height="11"/></g></svg><div class="t" style="top:257.3px;font-size:34px;color:#fff;font-weight:700;left:326px;transform:translateX(-50%);transform-origin:50% 50%;">距离您的目标还需 5128 步</div><svg class="a" style="left:0px;top:0px;" width="652" height="604" viewBox="0 0 652 604"><defs><linearGradient id="cg7" gradientUnits="userSpaceOnUse" x1="35" y1="0" x2="500" y2="0"><stop offset="0" stop-color="#b81c1c"/><stop offset=".3" stop-color="#d8401c"/><stop offset=".36" stop-color="#f08a20"/><stop offset=".62" stop-color="#f8a224"/><stop offset=".8" stop-color="#f6c030"/><stop offset="1" stop-color="#e2d448"/></linearGradient></defs><path d="M35.0 500.0 C47.5 500.0 84.8 500.0 110.0 500.0 C135.2 500.0 171.3 504.7 186.0 500.0 C200.7 495.3 193.2 490.0 198.0 472.0 C202.8 454.0 209.7 392.8 215.0 392.0 C220.3 391.2 225.8 450.0 230.0 467.0 C234.2 484.0 235.8 493.2 240.0 494.0 C244.2 494.8 250.3 472.0 255.0 472.0 C259.7 472.0 263.8 498.2 268.0 494.0 C272.2 489.8 276.3 462.3 280.0 447.0 C283.7 431.7 286.7 398.7 290.0 402.0 C293.3 405.3 297.0 451.2 300.0 467.0 C303.0 482.8 305.0 506.2 308.0 497.0 C311.0 487.8 315.2 437.0 318.0 412.0 C320.8 387.0 322.3 340.3 325.0 347.0 C327.7 353.7 330.7 426.2 334.0 452.0 C337.3 477.8 340.3 495.0 345.0 502.0 C349.7 509.0 357.0 496.5 362.0 494.0 C367.0 491.5 371.0 487.0 375.0 487.0 C379.0 487.0 383.2 508.2 386.0 494.0 C388.8 479.8 390.0 427.3 392.0 402.0 C394.0 376.7 395.7 338.7 398.0 342.0 C400.3 345.3 402.3 402.8 406.0 422.0 C409.7 441.2 414.3 446.2 420.0 457.0 C425.7 467.8 433.3 480.8 440.0 487.0 C446.7 493.2 454.5 495.7 460.0 494.0 C465.5 492.3 469.2 481.5 473.0 477.0 C476.8 472.5 479.8 466.2 483.0 467.0 C486.2 467.8 489.7 476.5 492.0 482.0 C494.3 487.5 496.2 497.0 497.0 500.0" fill="none" stroke="url(#cg7)" stroke-width="10" stroke-linecap="round" stroke-linejoin="round"/><rect x="31.5" y="564" width="7" height="6" fill="#fff"/><rect x="189.5" y="557" width="7" height="13" fill="#fff"/><rect x="201.5" y="490" width="7" height="80" fill="#fff"/><rect x="213.5" y="444" width="7" height="126" fill="#fff"/><rect x="226.5" y="532" width="7" height="38" fill="#fff"/><rect x="251.5" y="522" width="7" height="48" fill="#fff"/><rect x="263.5" y="562" width="7" height="8" fill="#fff"/><rect x="276.5" y="520" width="7" height="50" fill="#fff"/><rect x="286.5" y="457" width="7" height="113" fill="#fff"/><rect x="299.5" y="550" width="7" height="20" fill="#fff"/><rect x="311.5" y="550" width="7" height="20" fill="#fff"/><rect x="323.5" y="400" width="7" height="170" fill="#fff"/><rect x="334.5" y="500" width="7" height="70" fill="#fff"/><rect x="346.5" y="562" width="7" height="8" fill="#fff"/><rect x="358.5" y="557" width="7" height="13" fill="#fff"/><rect x="370.5" y="532" width="7" height="38" fill="#fff"/><rect x="394.5" y="397" width="7" height="173" fill="#fff"/><rect x="406.5" y="502" width="7" height="68" fill="#fff"/><rect x="418.5" y="504" width="7" height="66" fill="#fff"/><rect x="430.5" y="527" width="7" height="43" fill="#fff"/><rect x="442.5" y="550" width="7" height="20" fill="#fff"/><rect x="466.5" y="532" width="7" height="38" fill="#fff"/><rect x="479.5" y="519" width="7" height="51" fill="#fff"/><rect x="491.5" y="564" width="7" height="6" fill="#fff"/><text x="37" y="594" font-size="15.5" font-weight="700" fill="#fff" fill-opacity=".85" text-anchor="middle">00:00</text><circle cx="108" cy="589" r="5" fill="#fff"/><text x="180" y="594" font-size="15.5" font-weight="700" fill="#fff" fill-opacity=".85" text-anchor="middle">06:00</text><circle cx="250" cy="589" r="5" fill="#fff"/><text x="322" y="594" font-size="15.5" font-weight="700" fill="#fff" fill-opacity=".85" text-anchor="middle">12:00</text><circle cx="393" cy="589" r="5" fill="#fff"/><text x="463" y="594" font-size="15.5" font-weight="700" fill="#fff" fill-opacity=".85" text-anchor="middle">18:00</text><circle cx="535" cy="589" r="5" fill="#fff"/><text x="607" y="594" font-size="15.5" font-weight="700" fill="#fff" fill-opacity=".85" text-anchor="middle">24:00</text></svg><div class="t" style="top:622.8px;font-size:29px;color:#2fb4d2;letter-spacing:2px;left:110px;transform:translateX(-50%);transform-origin:50% 50%;">步数</div><div class="t" style="top:622.8px;font-size:29px;color:#555;letter-spacing:2px;left:326px;transform:translateX(-50%);transform-origin:50% 50%;">距离</div><div class="t" style="top:622.8px;font-size:29px;color:#555;letter-spacing:2px;left:542px;transform:translateX(-50%);transform-origin:50% 50%;">卡路里</div><div class="t" style="top:674.4px;font-size:40px;color:#45bfd9;left:110px;transform:translateX(-50%) scaleX(0.72);transform-origin:50% 50%;">4872</div><div class="t" style="top:673.9px;font-size:41px;color:#444;left:268px;transform:scaleX(0.72);transform-origin:0 50%;-webkit-text-stroke:.9px #444;">4.0</div><div class="t" style="top:680.8px;font-size:33px;color:#444;font-weight:500;letter-spacing:2px;left:319px;">公里</div><div class="t" style="top:673.9px;font-size:41px;color:#444;left:483px;transform:scaleX(0.72);transform-origin:0 50%;-webkit-text-stroke:.9px #444;">263</div><div class="t" style="top:680.8px;font-size:33px;color:#444;font-weight:500;letter-spacing:3px;left:537px;">千卡</div><div class="a" style="left:216px;top:622px;width:2px;height:96px;background:#e2e2e2;"></div><div class="a" style="left:434px;top:622px;width:2px;height:96px;background:#e2e2e2;"></div><div class="a" style="left:28px;top:723px;width:598px;height:2.5px;background:#e4e4e4;"></div><div class="t" style="top:755.8px;font-size:29px;color:#a4a4a4;left:47px;transform:scaleX(0.74);transform-origin:0 50%;">19:00-19:30</div><svg class="a" style="left:444px;top:750.0px;" width="44" height="36" viewBox="0 0 44 36"><g fill="none" stroke="#38bcd6" stroke-width="2.6" stroke-linejoin="round" stroke-linecap="round"><path d="M8 4 C11 8 15 8 18 5 L32 22 C38 24 42 26 42 30 L42 33 H22 C14 30 8 24 4 14 Z" fill="#38bcd6" fill-opacity=".35"/><path d="M20 12 L25 9 M24 17 L29 14 M28 21 L33 18"/><path d="M2 26 H12 M0 32 H16"/></g></svg><div class="t" style="top:747.5px;font-size:46px;color:#444;left:562px;transform:translateX(-50%) scaleX(0.72);transform-origin:50% 50%;-webkit-text-stroke:1px #444;">20</div><div class="a" style="left:28px;top:800.0px;width:598px;height:2.5px;background:#e4e4e4;"></div><div class="t" style="top:831.4px;font-size:29px;color:#a4a4a4;left:47px;transform:scaleX(0.74);transform-origin:0 50%;">18:30-19:00</div><svg class="a" style="left:444px;top:825.6px;" width="44" height="36" viewBox="0 0 44 36"><g fill="none" stroke="#38bcd6" stroke-width="2.6" stroke-linejoin="round" stroke-linecap="round"><path d="M8 4 C11 8 15 8 18 5 L32 22 C38 24 42 26 42 30 L42 33 H22 C14 30 8 24 4 14 Z" fill="#38bcd6" fill-opacity=".35"/><path d="M20 12 L25 9 M24 17 L29 14 M28 21 L33 18"/><path d="M2 26 H12 M0 32 H16"/></g></svg><div class="t" style="top:823.1px;font-size:46px;color:#444;left:562px;transform:translateX(-50%) scaleX(0.72);transform-origin:50% 50%;-webkit-text-stroke:1px #444;">199</div><div class="a" style="left:28px;top:875.6px;width:598px;height:2.5px;background:#e4e4e4;"></div><div class="t" style="top:907.0px;font-size:29px;color:#a4a4a4;left:47px;transform:scaleX(0.74);transform-origin:0 50%;">18:00-18:30</div><svg class="a" style="left:444px;top:901.2px;" width="44" height="36" viewBox="0 0 44 36"><g fill="none" stroke="#38bcd6" stroke-width="2.6" stroke-linejoin="round" stroke-linecap="round"><path d="M8 4 C11 8 15 8 18 5 L32 22 C38 24 42 26 42 30 L42 33 H22 C14 30 8 24 4 14 Z" fill="#38bcd6" fill-opacity=".35"/><path d="M20 12 L25 9 M24 17 L29 14 M28 21 L33 18"/><path d="M2 26 H12 M0 32 H16"/></g></svg><div class="t" style="top:898.7px;font-size:46px;color:#444;left:562px;transform:translateX(-50%) scaleX(0.72);transform-origin:50% 50%;-webkit-text-stroke:1px #444;">137</div><div class="a" style="left:28px;top:951.2px;width:598px;height:2.5px;background:#e4e4e4;"></div><div class="t" style="top:982.6px;font-size:29px;color:#a4a4a4;left:47px;transform:scaleX(0.74);transform-origin:0 50%;">17:30-18:00</div><svg class="a" style="left:444px;top:976.8px;" width="44" height="36" viewBox="0 0 44 36"><g fill="none" stroke="#38bcd6" stroke-width="2.6" stroke-linejoin="round" stroke-linecap="round"><path d="M8 4 C11 8 15 8 18 5 L32 22 C38 24 42 26 42 30 L42 33 H22 C14 30 8 24 4 14 Z" fill="#38bcd6" fill-opacity=".35"/><path d="M20 12 L25 9 M24 17 L29 14 M28 21 L33 18"/><path d="M2 26 H12 M0 32 H16"/></g></svg><div class="t" style="top:974.3px;font-size:46px;color:#444;left:562px;transform:translateX(-50%) scaleX(0.72);transform-origin:50% 50%;-webkit-text-stroke:1px #444;">0</div><div class="a" style="left:28px;top:1026.8px;width:598px;height:2.5px;background:#e4e4e4;"></div><div class="t" style="top:1058.2px;font-size:29px;color:#a4a4a4;left:47px;transform:scaleX(0.74);transform-origin:0 50%;">17:00-17:30</div><svg class="a" style="left:444px;top:1052.4px;" width="44" height="36" viewBox="0 0 44 36"><g fill="none" stroke="#38bcd6" stroke-width="2.6" stroke-linejoin="round" stroke-linecap="round"><path d="M8 4 C11 8 15 8 18 5 L32 22 C38 24 42 26 42 30 L42 33 H22 C14 30 8 24 4 14 Z" fill="#38bcd6" fill-opacity=".35"/><path d="M20 12 L25 9 M24 17 L29 14 M28 21 L33 18"/><path d="M2 26 H12 M0 32 H16"/></g></svg><div class="t" style="top:1049.9px;font-size:46px;color:#444;left:562px;transform:translateX(-50%) scaleX(0.72);transform-origin:50% 50%;-webkit-text-stroke:1px #444;">73</div><div class="a" style="left:28px;top:1102.4px;width:598px;height:2.5px;background:#e4e4e4;"></div><div class="t" style="top:1133.8px;font-size:29px;color:#a4a4a4;left:47px;transform:scaleX(0.74);transform-origin:0 50%;">16:30-17:00</div><svg class="a" style="left:444px;top:1128.0px;" width="44" height="36" viewBox="0 0 44 36"><g fill="none" stroke="#38bcd6" stroke-width="2.6" stroke-linejoin="round" stroke-linecap="round"><path d="M8 4 C11 8 15 8 18 5 L32 22 C38 24 42 26 42 30 L42 33 H22 C14 30 8 24 4 14 Z" fill="#38bcd6" fill-opacity=".35"/><path d="M20 12 L25 9 M24 17 L29 14 M28 21 L33 18"/><path d="M2 26 H12 M0 32 H16"/></g></svg><div class="t" style="top:1125.5px;font-size:46px;color:#444;left:562px;transform:translateX(-50%) scaleX(0.72);transform-origin:50% 50%;-webkit-text-stroke:1px #444;">165</div><div class="a" style="left:28px;top:1178.0px;width:598px;height:2.5px;background:#e4e4e4;"></div><div class="t" style="top:1209.4px;font-size:29px;color:#a4a4a4;left:47px;transform:scaleX(0.74);transform-origin:0 50%;">16:00-16:30</div><svg class="a" style="left:444px;top:1203.6px;" width="44" height="36" viewBox="0 0 44 36"><g fill="none" stroke="#38bcd6" stroke-width="2.6" stroke-linejoin="round" stroke-linecap="round"><path d="M8 4 C11 8 15 8 18 5 L32 22 C38 24 42 26 42 30 L42 33 H22 C14 30 8 24 4 14 Z" fill="#38bcd6" fill-opacity=".35"/><path d="M20 12 L25 9 M24 17 L29 14 M28 21 L33 18"/><path d="M2 26 H12 M0 32 H16"/></g></svg><div class="t" style="top:1201.1px;font-size:46px;color:#444;left:562px;transform:translateX(-50%) scaleX(0.72);transform-origin:50% 50%;-webkit-text-stroke:1px #444;">248</div><div class="a" style="left:28px;top:1253.6px;width:598px;height:2.5px;background:#e4e4e4;"></div><div class="t" style="top:1285.0px;font-size:29px;color:#a4a4a4;left:47px;transform:scaleX(0.74);transform-origin:0 50%;">15:30-16:00</div><svg class="a" style="left:444px;top:1279.1999999999998px;" width="44" height="36" viewBox="0 0 44 36"><g fill="none" stroke="#38bcd6" stroke-width="2.6" stroke-linejoin="round" stroke-linecap="round"><path d="M8 4 C11 8 15 8 18 5 L32 22 C38 24 42 26 42 30 L42 33 H22 C14 30 8 24 4 14 Z" fill="#38bcd6" fill-opacity=".35"/><path d="M20 12 L25 9 M24 17 L29 14 M28 21 L33 18"/><path d="M2 26 H12 M0 32 H16"/></g></svg><div class="t" style="top:1276.7px;font-size:46px;color:#444;left:562px;transform:translateX(-50%) scaleX(0.72);transform-origin:50% 50%;-webkit-text-stroke:1px #444;">258</div><div class="a" style="left:28px;top:1329.1999999999998px;width:598px;height:2.5px;background:#e4e4e4;"></div></div></div>
<div class="p" style="left:1960px;top:1428px;width:652px;height:1372px;background:#fff"><div class="a" style="left:0px;top:0px;width:652px;height:684px;background:#48dcaa;"></div><div class="t" style="top:26.3px;font-size:28px;color:#111;font-weight:700;left:60px;transform:scaleX(1.04);transform-origin:0 50%;">19:20</div><svg class="a" style="left:139px;top:27px;" width="26" height="26" viewBox="0 0 26 26"><path d="M24 1 L1 12 L12 14 L14 25 Z" fill="#111"/></svg><svg class="a" style="left:471px;top:28px;" width="32" height="20" viewBox="0 0 32 20"><rect x="0" y="6" width="6" height="4" rx="1.2" fill="#111" opacity="1"/><rect x="8" y="4" width="6" height="6" rx="1.2" fill="#111" opacity="1"/><rect x="16" y="2" width="6" height="8" rx="1.2" fill="#111" opacity="1"/><rect x="24" y="0" width="6" height="10" rx="1.2" fill="#111" opacity="0.3"/><rect x="0" y="14" width="6" height="5.5" rx="1.5" fill="#111" opacity="1"/><rect x="8" y="14" width="6" height="5.5" rx="1.5" fill="#111" opacity="1"/><rect x="16" y="14" width="6" height="5.5" rx="1.5" fill="#111" opacity="0.3"/><rect x="24" y="14" width="6" height="5.5" rx="1.5" fill="#111" opacity="0.3"/></svg><svg class="a" style="left:514px;top:27px;" width="32" height="26" viewBox="0 0 32 26"><path d="M2 9 A19 19 0 0 1 30 9" fill="none" stroke="#111" stroke-width="4.2" stroke-linecap="round"/><path d="M8 15 A11.5 11.5 0 0 1 24 15" fill="none" stroke="#111" stroke-width="4.2" stroke-linecap="round"/><circle cx="16" cy="21" r="3" fill="#111"/></svg><div class="a" style="left:556px;top:28px;width:42px;height:22px;background:#62d66e;border-radius:6px;"></div><div class="a" style="left:598px;top:35px;width:3px;height:8px;background:#62d66e;border-radius:1.5px;"></div><div class="t" style="top:29.2px;font-size:21px;color:#fff;font-weight:700;letter-spacing:-0.3px;left:577px;transform:translateX(-50%);transform-origin:50% 50%;">99+</div><div class="t" style="top:101.3px;font-size:28px;color:#fff;font-weight:700;left:326px;transform:translateX(-50%);transform-origin:50% 50%;">数据面板</div><svg class="a" style="left:590px;top:98px;" width="32" height="34" viewBox="0 0 32 34"><g fill="none" stroke="#fff" stroke-width="3"><circle cx="24" cy="7" r="4.6"/><circle cx="7" cy="17" r="4.6"/><circle cx="24" cy="27" r="4.6"/><path d="M11 14.5 L20 9.5 M11 19.5 L20 24.5"/></g></svg><div class="a" style="left:0px;top:152px;width:652px;height:2px;background:rgba(255,255,255,.22);"></div><svg class="a" style="left:0px;top:0px;" width="652" height="685" viewBox="0 0 652 685"><line x1="326.0" y1="223.0" x2="326.0" y2="208.0" stroke="#fff" stroke-opacity="0.92" stroke-width="3"/><line x1="332.6" y1="223.1" x2="333.0" y2="208.1" stroke="#fff" stroke-opacity="0.92" stroke-width="3"/><line x1="339.1" y1="223.4" x2="340.1" y2="208.4" stroke="#fff" stroke-opacity="0.92" stroke-width="3"/><line x1="345.7" y1="223.9" x2="347.1" y2="209.0" stroke="#fff" stroke-opacity="0.92" stroke-width="3"/><line x1="352.2" y1="224.6" x2="354.1" y2="209.8" stroke="#fff" stroke-opacity="0.92" stroke-width="3"/><line x1="358.7" y1="225.6" x2="361.0" y2="210.8" stroke="#fff" stroke-opacity="0.92" stroke-width="3"/><line x1="365.2" y1="226.7" x2="368.0" y2="212.0" stroke="#fff" stroke-opacity="0.92" stroke-width="3"/><line x1="371.6" y1="228.0" x2="374.9" y2="213.4" stroke="#fff" stroke-opacity="0.92" stroke-width="3"/><line x1="378.0" y1="229.6" x2="381.7" y2="215.0" stroke="#fff" stroke-opacity="0.92" stroke-width="3"/><line x1="384.3" y1="231.3" x2="388.5" y2="216.9" stroke="#fff" stroke-opacity="0.92" stroke-width="3"/><line x1="390.6" y1="233.2" x2="395.2" y2="219.0" stroke="#fff" stroke-opacity="0.92" stroke-width="3"/><line x1="396.8" y1="235.4" x2="401.9" y2="221.2" stroke="#fff" stroke-opacity="0.92" stroke-width="3"/><line x1="402.9" y1="237.7" x2="408.5" y2="223.7" stroke="#fff" stroke-opacity="0.92" stroke-width="3"/><line x1="409.0" y1="240.2" x2="415.0" y2="226.4" stroke="#fff" stroke-opacity="0.92" stroke-width="3"/><line x1="415.0" y1="242.9" x2="421.4" y2="229.3" stroke="#fff" stroke-opacity="0.92" stroke-width="3"/><line x1="420.9" y1="245.8" x2="427.7" y2="232.4" stroke="#fff" stroke-opacity="0.92" stroke-width="3"/><line x1="426.7" y1="248.9" x2="433.9" y2="235.7" stroke="#fff" stroke-opacity="0.92" stroke-width="3"/><line x1="432.4" y1="252.1" x2="440.0" y2="239.2" stroke="#fff" stroke-opacity="0.92" stroke-width="3"/><line x1="438.0" y1="255.5" x2="446.0" y2="242.9" stroke="#fff" stroke-opacity="0.92" stroke-width="3"/><line x1="443.5" y1="259.1" x2="451.9" y2="246.7" stroke="#fff" stroke-opacity="0.92" stroke-width="3"/><line x1="448.8" y1="262.9" x2="457.7" y2="250.8" stroke="#fff" stroke-opacity="0.92" stroke-width="3"/><line x1="454.1" y1="266.9" x2="463.3" y2="255.0" stroke="#fff" stroke-opacity="0.92" stroke-width="3"/><line x1="459.2" y1="271.0" x2="468.8" y2="259.4" stroke="#fff" stroke-opacity="0.92" stroke-width="3"/><line x1="464.2" y1="275.2" x2="474.1" y2="264.0" stroke="#fff" stroke-opacity="0.92" stroke-width="3"/><line x1="469.1" y1="279.6" x2="479.3" y2="268.7" stroke="#fff" stroke-opacity="0.92" stroke-width="3"/><line x1="473.8" y1="284.2" x2="484.4" y2="273.6" stroke="#fff" stroke-opacity="0.92" stroke-width="3"/><line x1="478.4" y1="288.9" x2="489.3" y2="278.7" stroke="#fff" stroke-opacity="0.92" stroke-width="3"/><line x1="482.8" y1="293.8" x2="494.0" y2="283.9" stroke="#fff" stroke-opacity="0.92" stroke-width="3"/><line x1="487.0" y1="298.8" x2="498.6" y2="289.2" stroke="#fff" stroke-opacity="0.92" stroke-width="3"/><line x1="491.1" y1="303.9" x2="503.0" y2="294.7" stroke="#fff" stroke-opacity="0.92" stroke-width="3"/><line x1="495.1" y1="309.2" x2="507.2" y2="300.3" stroke="#fff" stroke-opacity="0.92" stroke-width="3"/><line x1="498.9" y1="314.5" x2="511.3" y2="306.1" stroke="#fff" stroke-opacity="0.92" stroke-width="3"/><line x1="502.5" y1="320.0" x2="515.1" y2="312.0" stroke="#fff" stroke-opacity="0.92" stroke-width="3"/><line x1="505.9" y1="325.6" x2="518.8" y2="318.0" stroke="#fff" stroke-opacity="0.92" stroke-width="3"/><line x1="509.1" y1="331.3" x2="522.3" y2="324.1" stroke="#fff" stroke-opacity="0.92" stroke-width="3"/><line x1="512.2" y1="337.1" x2="525.6" y2="330.3" stroke="#fff" stroke-opacity="0.92" stroke-width="3"/><line x1="515.1" y1="343.0" x2="528.7" y2="336.6" stroke="#fff" stroke-opacity="0.92" stroke-width="3"/><line x1="517.8" y1="349.0" x2="531.6" y2="343.0" stroke="#fff" stroke-opacity="0.92" stroke-width="3"/><line x1="520.3" y1="355.1" x2="534.3" y2="349.5" stroke="#fff" stroke-opacity="0.92" stroke-width="3"/><line x1="522.6" y1="361.2" x2="536.8" y2="356.1" stroke="#fff" stroke-opacity="0.92" stroke-width="3"/><line x1="524.8" y1="367.4" x2="539.0" y2="362.8" stroke="#fff" stroke-opacity="0.92" stroke-width="3"/><line x1="526.7" y1="373.7" x2="541.1" y2="369.5" stroke="#fff" stroke-opacity="0.92" stroke-width="3"/><line x1="528.4" y1="380.0" x2="543.0" y2="376.3" stroke="#fff" stroke-opacity="0.92" stroke-width="3"/><line x1="530.0" y1="386.4" x2="544.6" y2="383.1" stroke="#fff" stroke-opacity="0.92" stroke-width="3"/><line x1="531.3" y1="392.8" x2="546.0" y2="390.0" stroke="#fff" stroke-opacity="0.92" stroke-width="3"/><line x1="532.4" y1="399.3" x2="547.2" y2="397.0" stroke="#fff" stroke-opacity="0.92" stroke-width="3"/><line x1="533.4" y1="405.8" x2="548.2" y2="403.9" stroke="#fff" stroke-opacity="0.92" stroke-width="3"/><line x1="534.1" y1="412.3" x2="549.0" y2="410.9" stroke="#fff" stroke-opacity="0.92" stroke-width="3"/><line x1="534.6" y1="418.9" x2="549.6" y2="417.9" stroke="#fff" stroke-opacity="0.92" stroke-width="3"/><line x1="534.9" y1="425.4" x2="549.9" y2="425.0" stroke="#fff" stroke-opacity="0.92" stroke-width="3"/><line x1="535.0" y1="432.0" x2="550.0" y2="432.0" stroke="#fff" stroke-opacity="0.92" stroke-width="3"/><line x1="534.9" y1="438.6" x2="549.9" y2="439.0" stroke="#fff" stroke-opacity="0.92" stroke-width="3"/><line x1="534.6" y1="445.1" x2="549.6" y2="446.1" stroke="#fff" stroke-opacity="0.92" stroke-width="3"/><line x1="534.1" y1="451.7" x2="549.0" y2="453.1" stroke="#fff" stroke-opacity="0.92" stroke-width="3"/><line x1="533.4" y1="458.2" x2="548.2" y2="460.1" stroke="#fff" stroke-opacity="0.92" stroke-width="3"/><line x1="532.4" y1="464.7" x2="547.2" y2="467.0" stroke="#fff" stroke-opacity="0.92" stroke-width="3"/><line x1="531.3" y1="471.2" x2="546.0" y2="474.0" stroke="#fff" stroke-opacity="0.92" stroke-width="3"/><line x1="530.0" y1="477.6" x2="544.6" y2="480.9" stroke="#fff" stroke-opacity="0.92" stroke-width="3"/><line x1="528.4" y1="484.0" x2="543.0" y2="487.7" stroke="#fff" stroke-opacity="0.92" stroke-width="3"/><line x1="526.7" y1="490.3" x2="541.1" y2="494.5" stroke="#fff" stroke-opacity="0.92" stroke-width="3"/><line x1="524.8" y1="496.6" x2="539.0" y2="501.2" stroke="#fff" stroke-opacity="0.92" stroke-width="3"/><line x1="522.6" y1="502.8" x2="536.8" y2="507.9" stroke="#fff" stroke-opacity="0.92" stroke-width="3"/><line x1="520.3" y1="508.9" x2="534.3" y2="514.5" stroke="#fff" stroke-opacity="0.92" stroke-width="3"/><line x1="517.8" y1="515.0" x2="531.6" y2="521.0" stroke="#fff" stroke-opacity="0.92" stroke-width="3"/><line x1="515.1" y1="521.0" x2="528.7" y2="527.4" stroke="#fff" stroke-opacity="0.92" stroke-width="3"/><line x1="512.2" y1="526.9" x2="525.6" y2="533.7" stroke="#fff" stroke-opacity="0.92" stroke-width="3"/><line x1="509.1" y1="532.7" x2="522.3" y2="539.9" stroke="#fff" stroke-opacity="0.92" stroke-width="3"/><line x1="505.9" y1="538.4" x2="518.8" y2="546.0" stroke="#fff" stroke-opacity="0.92" stroke-width="3"/><line x1="502.5" y1="544.0" x2="515.1" y2="552.0" stroke="#fff" stroke-opacity="0.92" stroke-width="3"/><line x1="498.9" y1="549.5" x2="511.3" y2="557.9" stroke="#fff" stroke-opacity="0.92" stroke-width="3"/><line x1="495.1" y1="554.8" x2="507.2" y2="563.7" stroke="#fff" stroke-opacity="0.92" stroke-width="3"/><line x1="491.1" y1="560.1" x2="503.0" y2="569.3" stroke="#fff" stroke-opacity="0.92" stroke-width="3"/><line x1="487.0" y1="565.2" x2="498.6" y2="574.8" stroke="#fff" stroke-opacity="0.92" stroke-width="3"/><line x1="482.8" y1="570.2" x2="494.0" y2="580.1" stroke="#fff" stroke-opacity="0.92" stroke-width="3"/><line x1="478.4" y1="575.1" x2="489.3" y2="585.3" stroke="#fff" stroke-opacity="0.92" stroke-width="3"/><line x1="473.8" y1="579.8" x2="484.4" y2="590.4" stroke="#fff" stroke-opacity="0.92" stroke-width="3"/><line x1="469.1" y1="584.4" x2="479.3" y2="595.3" stroke="#fff" stroke-opacity="0.92" stroke-width="3"/><line x1="464.2" y1="588.8" x2="474.1" y2="600.0" stroke="#fff" stroke-opacity="0.92" stroke-width="3"/><line x1="459.2" y1="593.0" x2="468.8" y2="604.6" stroke="#fff" stroke-opacity="0.92" stroke-width="3"/><line x1="454.1" y1="597.1" x2="463.3" y2="609.0" stroke="#fff" stroke-opacity="0.92" stroke-width="3"/><line x1="448.8" y1="601.1" x2="457.7" y2="613.2" stroke="#fff" stroke-opacity="0.92" stroke-width="3"/><line x1="443.5" y1="604.9" x2="451.9" y2="617.3" stroke="#fff" stroke-opacity="0.92" stroke-width="3"/><line x1="438.0" y1="608.5" x2="446.0" y2="621.1" stroke="#fff" stroke-opacity="0.92" stroke-width="3"/><line x1="432.4" y1="611.9" x2="440.0" y2="624.8" stroke="#fff" stroke-opacity="0.92" stroke-width="3"/><line x1="426.7" y1="615.1" x2="433.9" y2="628.3" stroke="#fff" stroke-opacity="0.92" stroke-width="3"/><line x1="420.9" y1="618.2" x2="427.7" y2="631.6" stroke="#fff" stroke-opacity="0.92" stroke-width="3"/><line x1="415.0" y1="621.1" x2="421.4" y2="634.7" stroke="#fff" stroke-opacity="0.92" stroke-width="3"/><line x1="409.0" y1="623.8" x2="415.0" y2="637.6" stroke="#fff" stroke-opacity="0.92" stroke-width="3"/><line x1="402.9" y1="626.3" x2="408.5" y2="640.3" stroke="#fff" stroke-opacity="0.92" stroke-width="3"/><line x1="396.8" y1="628.6" x2="401.9" y2="642.8" stroke="#fff" stroke-opacity="0.92" stroke-width="3"/><line x1="390.6" y1="630.8" x2="395.2" y2="645.0" stroke="#fff" stroke-opacity="0.92" stroke-width="3"/><line x1="384.3" y1="632.7" x2="388.5" y2="647.1" stroke="#fff" stroke-opacity="0.92" stroke-width="3"/><line x1="378.0" y1="634.4" x2="381.7" y2="649.0" stroke="#fff" stroke-opacity="0.92" stroke-width="3"/><line x1="371.6" y1="636.0" x2="374.9" y2="650.6" stroke="#fff" stroke-opacity="0.92" stroke-width="3"/><line x1="365.2" y1="637.3" x2="368.0" y2="652.0" stroke="#fff" stroke-opacity="0.92" stroke-width="3"/><line x1="358.7" y1="638.4" x2="361.0" y2="653.2" stroke="#fff" stroke-opacity="0.92" stroke-width="3"/><line x1="352.2" y1="639.4" x2="354.1" y2="654.2" stroke="#fff" stroke-opacity="0.92" stroke-width="3"/><line x1="345.7" y1="640.1" x2="347.1" y2="655.0" stroke="#fff" stroke-opacity="0.92" stroke-width="3"/><line x1="339.1" y1="640.6" x2="340.1" y2="655.6" stroke="#fff" stroke-opacity="0.92" stroke-width="3"/><line x1="332.6" y1="640.9" x2="333.0" y2="655.9" stroke="#fff" stroke-opacity="0.5" stroke-width="3"/><line x1="326.0" y1="641.0" x2="326.0" y2="656.0" stroke="#fff" stroke-opacity="0.5" stroke-width="3"/><line x1="319.4" y1="640.9" x2="319.0" y2="655.9" stroke="#fff" stroke-opacity="0.5" stroke-width="3"/><line x1="312.9" y1="640.6" x2="311.9" y2="655.6" stroke="#fff" stroke-opacity="0.5" stroke-width="3"/><line x1="306.3" y1="640.1" x2="304.9" y2="655.0" stroke="#fff" stroke-opacity="0.5" stroke-width="3"/><line x1="299.8" y1="639.4" x2="297.9" y2="654.2" stroke="#fff" stroke-opacity="0.5" stroke-width="3"/><line x1="293.3" y1="638.4" x2="291.0" y2="653.2" stroke="#fff" stroke-opacity="0.5" stroke-width="3"/><line x1="286.8" y1="637.3" x2="284.0" y2="652.0" stroke="#fff" stroke-opacity="0.5" stroke-width="3"/><line x1="280.4" y1="636.0" x2="277.1" y2="650.6" stroke="#fff" stroke-opacity="0.5" stroke-width="3"/><line x1="274.0" y1="634.4" x2="270.3" y2="649.0" stroke="#fff" stroke-opacity="0.5" stroke-width="3"/><line x1="267.7" y1="632.7" x2="263.5" y2="647.1" stroke="#fff" stroke-opacity="0.5" stroke-width="3"/><line x1="261.4" y1="630.8" x2="256.8" y2="645.0" stroke="#fff" stroke-opacity="0.5" stroke-width="3"/><line x1="255.2" y1="628.6" x2="250.1" y2="642.8" stroke="#fff" stroke-opacity="0.5" stroke-width="3"/><line x1="249.1" y1="626.3" x2="243.5" y2="640.3" stroke="#fff" stroke-opacity="0.5" stroke-width="3"/><line x1="243.0" y1="623.8" x2="237.0" y2="637.6" stroke="#fff" stroke-opacity="0.5" stroke-width="3"/><line x1="237.0" y1="621.1" x2="230.6" y2="634.7" stroke="#fff" stroke-opacity="0.5" stroke-width="3"/><line x1="231.1" y1="618.2" x2="224.3" y2="631.6" stroke="#fff" stroke-opacity="0.5" stroke-width="3"/><line x1="225.3" y1="615.1" x2="218.1" y2="628.3" stroke="#fff" stroke-opacity="0.5" stroke-width="3"/><line x1="219.6" y1="611.9" x2="212.0" y2="624.8" stroke="#fff" stroke-opacity="0.5" stroke-width="3"/><line x1="214.0" y1="608.5" x2="206.0" y2="621.1" stroke="#fff" stroke-opacity="0.5" stroke-width="3"/><line x1="208.5" y1="604.9" x2="200.1" y2="617.3" stroke="#fff" stroke-opacity="0.5" stroke-width="3"/><line x1="203.2" y1="601.1" x2="194.3" y2="613.2" stroke="#fff" stroke-opacity="0.5" stroke-width="3"/><line x1="197.9" y1="597.1" x2="188.7" y2="609.0" stroke="#fff" stroke-opacity="0.5" stroke-width="3"/><line x1="192.8" y1="593.0" x2="183.2" y2="604.6" stroke="#fff" stroke-opacity="0.5" stroke-width="3"/><line x1="187.8" y1="588.8" x2="177.9" y2="600.0" stroke="#fff" stroke-opacity="0.5" stroke-width="3"/><line x1="182.9" y1="584.4" x2="172.7" y2="595.3" stroke="#fff" stroke-opacity="0.5" stroke-width="3"/><line x1="178.2" y1="579.8" x2="167.6" y2="590.4" stroke="#fff" stroke-opacity="0.5" stroke-width="3"/><line x1="173.6" y1="575.1" x2="162.7" y2="585.3" stroke="#fff" stroke-opacity="0.5" stroke-width="3"/><line x1="169.2" y1="570.2" x2="158.0" y2="580.1" stroke="#fff" stroke-opacity="0.5" stroke-width="3"/><line x1="165.0" y1="565.2" x2="153.4" y2="574.8" stroke="#fff" stroke-opacity="0.5" stroke-width="3"/><line x1="160.9" y1="560.1" x2="149.0" y2="569.3" stroke="#fff" stroke-opacity="0.5" stroke-width="3"/><line x1="156.9" y1="554.8" x2="144.8" y2="563.7" stroke="#fff" stroke-opacity="0.5" stroke-width="3"/><line x1="153.1" y1="549.5" x2="140.7" y2="557.9" stroke="#fff" stroke-opacity="0.5" stroke-width="3"/><line x1="149.5" y1="544.0" x2="136.9" y2="552.0" stroke="#fff" stroke-opacity="0.5" stroke-width="3"/><line x1="146.1" y1="538.4" x2="133.2" y2="546.0" stroke="#fff" stroke-opacity="0.5" stroke-width="3"/><line x1="142.9" y1="532.7" x2="129.7" y2="539.9" stroke="#fff" stroke-opacity="0.5" stroke-width="3"/><line x1="139.8" y1="526.9" x2="126.4" y2="533.7" stroke="#fff" stroke-opacity="0.5" stroke-width="3"/><line x1="136.9" y1="521.0" x2="123.3" y2="527.4" stroke="#fff" stroke-opacity="0.5" stroke-width="3"/><line x1="134.2" y1="515.0" x2="120.4" y2="521.0" stroke="#fff" stroke-opacity="0.5" stroke-width="3"/><line x1="131.7" y1="508.9" x2="117.7" y2="514.5" stroke="#fff" stroke-opacity="0.5" stroke-width="3"/><line x1="129.4" y1="502.8" x2="115.2" y2="507.9" stroke="#fff" stroke-opacity="0.5" stroke-width="3"/><line x1="127.2" y1="496.6" x2="113.0" y2="501.2" stroke="#fff" stroke-opacity="0.5" stroke-width="3"/><line x1="125.3" y1="490.3" x2="110.9" y2="494.5" stroke="#fff" stroke-opacity="0.5" stroke-width="3"/><line x1="123.6" y1="484.0" x2="109.0" y2="487.7" stroke="#fff" stroke-opacity="0.5" stroke-width="3"/><line x1="122.0" y1="477.6" x2="107.4" y2="480.9" stroke="#fff" stroke-opacity="0.5" stroke-width="3"/><line x1="120.7" y1="471.2" x2="106.0" y2="474.0" stroke="#fff" stroke-opacity="0.5" stroke-width="3"/><line x1="119.6" y1="464.7" x2="104.8" y2="467.0" stroke="#fff" stroke-opacity="0.5" stroke-width="3"/><line x1="118.6" y1="458.2" x2="103.8" y2="460.1" stroke="#fff" stroke-opacity="0.5" stroke-width="3"/><line x1="117.9" y1="451.7" x2="103.0" y2="453.1" stroke="#fff" stroke-opacity="0.5" stroke-width="3"/><line x1="117.4" y1="445.1" x2="102.4" y2="446.1" stroke="#fff" stroke-opacity="0.5" stroke-width="3"/><line x1="117.1" y1="438.6" x2="102.1" y2="439.0" stroke="#fff" stroke-opacity="0.5" stroke-width="3"/><line x1="117.0" y1="432.0" x2="102.0" y2="432.0" stroke="#fff" stroke-opacity="0.5" stroke-width="3"/><line x1="117.1" y1="425.4" x2="102.1" y2="425.0" stroke="#fff" stroke-opacity="0.5" stroke-width="3"/><line x1="117.4" y1="418.9" x2="102.4" y2="417.9" stroke="#fff" stroke-opacity="0.5" stroke-width="3"/><line x1="117.9" y1="412.3" x2="103.0" y2="410.9" stroke="#fff" stroke-opacity="0.5" stroke-width="3"/><line x1="118.6" y1="405.8" x2="103.8" y2="403.9" stroke="#fff" stroke-opacity="0.5" stroke-width="3"/><line x1="119.6" y1="399.3" x2="104.8" y2="397.0" stroke="#fff" stroke-opacity="0.5" stroke-width="3"/><line x1="120.7" y1="392.8" x2="106.0" y2="390.0" stroke="#fff" stroke-opacity="0.5" stroke-width="3"/><line x1="122.0" y1="386.4" x2="107.4" y2="383.1" stroke="#fff" stroke-opacity="0.5" stroke-width="3"/><line x1="123.6" y1="380.0" x2="109.0" y2="376.3" stroke="#fff" stroke-opacity="0.5" stroke-width="3"/><line x1="125.3" y1="373.7" x2="110.9" y2="369.5" stroke="#fff" stroke-opacity="0.5" stroke-width="3"/><line x1="127.2" y1="367.4" x2="113.0" y2="362.8" stroke="#fff" stroke-opacity="0.5" stroke-width="3"/><line x1="129.4" y1="361.2" x2="115.2" y2="356.1" stroke="#fff" stroke-opacity="0.5" stroke-width="3"/><line x1="131.7" y1="355.1" x2="117.7" y2="349.5" stroke="#fff" stroke-opacity="0.5" stroke-width="3"/><line x1="134.2" y1="349.0" x2="120.4" y2="343.0" stroke="#fff" stroke-opacity="0.5" stroke-width="3"/><line x1="136.9" y1="343.0" x2="123.3" y2="336.6" stroke="#fff" stroke-opacity="0.5" stroke-width="3"/><line x1="139.8" y1="337.1" x2="126.4" y2="330.3" stroke="#fff" stroke-opacity="0.5" stroke-width="3"/><line x1="142.9" y1="331.3" x2="129.7" y2="324.1" stroke="#fff" stroke-opacity="0.5" stroke-width="3"/><line x1="146.1" y1="325.6" x2="133.2" y2="318.0" stroke="#fff" stroke-opacity="0.5" stroke-width="3"/><line x1="149.5" y1="320.0" x2="136.9" y2="312.0" stroke="#fff" stroke-opacity="0.5" stroke-width="3"/><line x1="153.1" y1="314.5" x2="140.7" y2="306.1" stroke="#fff" stroke-opacity="0.5" stroke-width="3"/><line x1="156.9" y1="309.2" x2="144.8" y2="300.3" stroke="#fff" stroke-opacity="0.5" stroke-width="3"/><line x1="160.9" y1="303.9" x2="149.0" y2="294.7" stroke="#fff" stroke-opacity="0.5" stroke-width="3"/><line x1="165.0" y1="298.8" x2="153.4" y2="289.2" stroke="#fff" stroke-opacity="0.5" stroke-width="3"/><line x1="169.2" y1="293.8" x2="158.0" y2="283.9" stroke="#fff" stroke-opacity="0.5" stroke-width="3"/><line x1="173.6" y1="288.9" x2="162.7" y2="278.7" stroke="#fff" stroke-opacity="0.5" stroke-width="3"/><line x1="178.2" y1="284.2" x2="167.6" y2="273.6" stroke="#fff" stroke-opacity="0.5" stroke-width="3"/><line x1="182.9" y1="279.6" x2="172.7" y2="268.7" stroke="#fff" stroke-opacity="0.5" stroke-width="3"/><line x1="187.8" y1="275.2" x2="177.9" y2="264.0" stroke="#fff" stroke-opacity="0.5" stroke-width="3"/><line x1="192.8" y1="271.0" x2="183.2" y2="259.4" stroke="#fff" stroke-opacity="0.5" stroke-width="3"/><line x1="197.9" y1="266.9" x2="188.7" y2="255.0" stroke="#fff" stroke-opacity="0.5" stroke-width="3"/><line x1="203.2" y1="262.9" x2="194.3" y2="250.8" stroke="#fff" stroke-opacity="0.5" stroke-width="3"/><line x1="208.5" y1="259.1" x2="200.1" y2="246.7" stroke="#fff" stroke-opacity="0.5" stroke-width="3"/><line x1="214.0" y1="255.5" x2="206.0" y2="242.9" stroke="#fff" stroke-opacity="0.5" stroke-width="3"/><line x1="219.6" y1="252.1" x2="212.0" y2="239.2" stroke="#fff" stroke-opacity="0.5" stroke-width="3"/><line x1="225.3" y1="248.9" x2="218.1" y2="235.7" stroke="#fff" stroke-opacity="0.5" stroke-width="3"/><line x1="231.1" y1="245.8" x2="224.3" y2="232.4" stroke="#fff" stroke-opacity="0.5" stroke-width="3"/><line x1="237.0" y1="242.9" x2="230.6" y2="229.3" stroke="#fff" stroke-opacity="0.5" stroke-width="3"/><line x1="243.0" y1="240.2" x2="237.0" y2="226.4" stroke="#fff" stroke-opacity="0.5" stroke-width="3"/><line x1="249.1" y1="237.7" x2="243.5" y2="223.7" stroke="#fff" stroke-opacity="0.5" stroke-width="3"/><line x1="255.2" y1="235.4" x2="250.1" y2="221.2" stroke="#fff" stroke-opacity="0.5" stroke-width="3"/><line x1="261.4" y1="233.2" x2="256.8" y2="219.0" stroke="#fff" stroke-opacity="0.5" stroke-width="3"/><line x1="267.7" y1="231.3" x2="263.5" y2="216.9" stroke="#fff" stroke-opacity="0.5" stroke-width="3"/><line x1="274.0" y1="229.6" x2="270.3" y2="215.0" stroke="#fff" stroke-opacity="0.5" stroke-width="3"/><line x1="280.4" y1="228.0" x2="277.1" y2="213.4" stroke="#fff" stroke-opacity="0.5" stroke-width="3"/><line x1="286.8" y1="226.7" x2="284.0" y2="212.0" stroke="#fff" stroke-opacity="0.5" stroke-width="3"/><line x1="293.3" y1="225.6" x2="291.0" y2="210.8" stroke="#fff" stroke-opacity="0.5" stroke-width="3"/><line x1="299.8" y1="224.6" x2="297.9" y2="209.8" stroke="#fff" stroke-opacity="0.5" stroke-width="3"/><line x1="306.3" y1="223.9" x2="304.9" y2="209.0" stroke="#fff" stroke-opacity="0.5" stroke-width="3"/><line x1="312.9" y1="223.4" x2="311.9" y2="208.4" stroke="#fff" stroke-opacity="0.5" stroke-width="3"/><line x1="319.4" y1="223.1" x2="319.0" y2="208.1" stroke="#fff" stroke-opacity="0.5" stroke-width="3"/><circle cx="326" cy="432" r="201.5" fill="none" stroke="#fff" stroke-opacity=".45" stroke-width="14"/><path d="M326 230.5 A201.5 201.5 0 0 1 336.5 633.2" fill="none" stroke="#fff" stroke-width="14"/></svg><div class="t" style="top:311.8px;font-size:80px;color:#fff;left:326px;transform:translateX(-50%) scaleX(0.76);transform-origin:50% 50%;">4872</div><div class="t" style="top:401.8px;font-size:27px;color:#fff;font-weight:700;left:326px;transform:translateX(-50%);transform-origin:50% 50%;">步</div><div class="t" style="top:454.7px;font-size:74px;color:#fff;left:327px;transform:translateX(-50%) scaleX(0.73);transform-origin:50% 50%;">6.5</div><div class="t" style="top:540.8px;font-size:27px;color:#fff;font-weight:700;letter-spacing:1px;left:326px;transform:translateX(-50%);transform-origin:50% 50%;">小时</div><div class="a" style="left:0px;top:683px;width:652px;height:87px;background:#22ab78;"></div><svg class="a" style="left:24px;top:712px;" width="34" height="34" viewBox="0 0 34 34"><circle cx="17" cy="17" r="15" fill="none" stroke="#fff" stroke-width="3.4"/><path d="M8 20 A10 10 0 0 1 18 8" fill="none" stroke="#fff" stroke-width="2.8" stroke-linecap="round"/></svg><div class="t" style="top:715.3px;font-size:28px;color:#fff;font-weight:700;left:68px;">E55S Pro</div><svg class="a" style="left:202px;top:718px;" width="40" height="22" viewBox="0 0 40 22"><rect x="1.5" y="1.5" width="33" height="19" rx="4" fill="none" stroke="#fff" stroke-width="2.6"/><rect x="5" y="5" width="20" height="12" rx="1.5" fill="#fff"/><rect x="36" y="7" width="3" height="8" rx="1" fill="#fff"/></svg><div class="a" style="left:483px;top:707px;width:145px;height:43px;background:transparent;border-radius:22px;border:2.6px solid #fff;box-sizing:border-box;"></div><div class="t" style="top:716.8px;font-size:25px;color:#fff;font-weight:700;letter-spacing:1px;left:555.5px;transform:translateX(-50%);transform-origin:50% 50%;">更多操作</div><div class="t" style="top:785.8px;font-size:27px;color:#333;font-weight:500;left:107px;transform:translateX(-50%);transform-origin:50% 50%;">今天</div><div class="t" style="top:785.8px;font-size:27px;color:#999;left:325px;transform:translateX(-50%);transform-origin:50% 50%;">昨天</div><div class="t" style="top:785.8px;font-size:27px;color:#999;left:543px;transform:translateX(-50%);transform-origin:50% 50%;">前天</div><svg class="a" style="left:98px;top:815px;" width="22" height="17" viewBox="0 0 22 17"><path d="M1 1 H21 L11 16Z" fill="#555"/></svg><div class="a" style="left:15px;top:859px;width:622px;height:278px;background:#efefef;"></div><svg class="a" style="left:33px;top:877px;" width="64" height="70" viewBox="0 0 64 70"><path d="M32 2 L60 17 V53 L32 68 L4 53 V17Z" fill="#fff" fill-opacity=".55" stroke="#2fb4d2" stroke-width="3" stroke-linejoin="round"/><g fill="#2fb4d2"><ellipse cx="24" cy="28" rx="5.5" ry="9"/><ellipse cx="24" cy="44" rx="4" ry="4.5"/><ellipse cx="40" cy="32" rx="5.5" ry="9"/><ellipse cx="40" cy="48" rx="4" ry="4.5"/></g></svg><div class="t" style="top:895.8px;font-size:33px;color:#2fb4d2;font-weight:500;left:115px;">运动</div><div class="t" style="top:879.8px;font-size:25px;color:#2fb4d2;font-weight:700;left:600px;transform:translateX(-100%);transform-origin:100% 50%;">最大步数:</div><div class="t" style="top:916.3px;font-size:28px;color:#5cc6e0;left:600px;transform:translateX(-100%) scaleX(0.8);transform-origin:100% 50%;">670<span style="font-size:24px">步</span></div><svg class="a" style="left:0px;top:0px;" width="652" height="1372" viewBox="0 0 652 1372"><rect x="47.5" y="1098" width="5" height="4" fill="#2fc0e2"/><rect x="197.5" y="1096" width="5" height="6" fill="#2fc0e2"/><rect x="207.5" y="1057" width="5" height="45" fill="#2fc0e2"/><rect x="219.5" y="1027" width="5" height="75" fill="#2fc0e2"/><rect x="232.5" y="1082" width="5" height="20" fill="#2fc0e2"/><rect x="255.5" y="1074" width="5" height="28" fill="#2fc0e2"/><rect x="267.5" y="1097" width="5" height="5" fill="#2fc0e2"/><rect x="279.5" y="1072" width="5" height="30" fill="#2fc0e2"/><rect x="289.5" y="1032" width="5" height="70" fill="#2fc0e2"/><rect x="302.5" y="1092" width="5" height="10" fill="#2fc0e2"/><rect x="312.5" y="1092" width="5" height="10" fill="#2fc0e2"/><rect x="322.5" y="1000" width="5" height="102" fill="#2fc0e2"/><rect x="334.5" y="1060" width="5" height="42" fill="#2fc0e2"/><rect x="347.5" y="1097" width="5" height="5" fill="#2fc0e2"/><rect x="357.5" y="1095" width="5" height="7" fill="#2fc0e2"/><rect x="369.5" y="1082" width="5" height="20" fill="#2fc0e2"/><rect x="392.5" y="997" width="5" height="105" fill="#2fc0e2"/><rect x="404.5" y="1062" width="5" height="40" fill="#2fc0e2"/><rect x="415.5" y="1064" width="5" height="38" fill="#2fc0e2"/><rect x="427.5" y="1077" width="5" height="25" fill="#2fc0e2"/><rect x="437.5" y="1090" width="5" height="12" fill="#2fc0e2"/><rect x="460.5" y="1082" width="5" height="20" fill="#2fc0e2"/><rect x="472.5" y="1072" width="5" height="30" fill="#2fc0e2"/><rect x="484.5" y="1098" width="5" height="4" fill="#2fc0e2"/><text x="52" y="1124" font-size="14" font-weight="700" fill="#5cc6e0" text-anchor="middle">00:00</text><circle cx="120" cy="1119" r="4.5" fill="#2fb4d2"/><text x="188" y="1124" font-size="14" font-weight="700" fill="#5cc6e0" text-anchor="middle">06:00</text><circle cx="256" cy="1119" r="4.5" fill="#2fb4d2"/><text x="325" y="1124" font-size="14" font-weight="700" fill="#5cc6e0" text-anchor="middle">12:00</text><circle cx="392" cy="1119" r="4.5" fill="#2fb4d2"/><text x="460" y="1124" font-size="14" font-weight="700" fill="#5cc6e0" text-anchor="middle">18:00</text><circle cx="528" cy="1119" r="4.5" fill="#2fb4d2"/><text x="597" y="1124" font-size="14" font-weight="700" fill="#5cc6e0" text-anchor="middle">24:00</text><line x1="62" y1="1137" x2="62" y2="1182" stroke="#d4d4d4" stroke-width="2.5"/></svg><div class="a" style="left:15px;top:1182px;width:622px;height:100px;background:#efefef;"></div><svg class="a" style="left:33px;top:1194px;" width="64" height="70" viewBox="0 0 64 70"><path d="M32 2 L60 17 V53 L32 68 L4 53 V17Z" fill="#fff" fill-opacity=".55" stroke="#6a72c8" stroke-width="3" stroke-linejoin="round"/><path d="M38 22 A14 14 0 1 0 46 44 A11 11 0 0 1 38 22Z" fill="#6a72c8"/></svg><div class="t" style="top:1207.4px;font-size:36px;color:#5566b8;left:625px;transform:translateX(-100%) scaleX(0.72);transform-origin:100% 50%;-webkit-text-stroke:.5px #5566b8;">00:15-06:49</div><div class="a" style="left:0px;top:1277px;width:652px;height:100px;background:#fff;box-shadow:0 -1px 0 #e4e4e4;"></div><div class="t" style="top:1338.7px;font-size:17px;color:#29ad78;left:95px;transform:translateX(-50%);transform-origin:50% 50%;">数据</div><div class="t" style="top:1338.7px;font-size:17px;color:#999;left:325px;transform:translateX(-50%);transform-origin:50% 50%;">运动</div><div class="t" style="top:1338.7px;font-size:17px;color:#999;left:543px;transform:translateX(-50%);transform-origin:50% 50%;">我的</div><svg class="a" style="left:522px;top:1288px;" width="44" height="44" viewBox="0 0 44 44"><circle cx="22" cy="13" r="9" fill="none" stroke="#bbb" stroke-width="2.6"/><path d="M3 42 C3 30 12 25 22 25 C32 25 41 30 41 42Z" fill="none" stroke="#bbb" stroke-width="2.6" stroke-linejoin="round"/></svg><svg class="a" style="left:306px;top:1292px;" width="40" height="36" viewBox="0 0 40 36"><path d="M4 6 L20 24 L34 30 L36 34 H14 L4 26" fill="none" stroke="#bbb" stroke-width="2.6" stroke-linejoin="round"/></svg><svg class="a" style="left:54px;top:1196px;" width="460" height="165" viewBox="0 0 460 165"><defs><linearGradient id="gold8" x1="0" y1="0" x2="0" y2="1"><stop offset="0" stop-color="#fffbd0"/><stop offset=".3" stop-color="#fbe35a"/><stop offset=".58" stop-color="#e8a818"/><stop offset=".8" stop-color="#f6d040"/><stop offset="1" stop-color="#c8860c"/></linearGradient><linearGradient id="gold8b" x1="0" y1="0" x2="0" y2="1"><stop offset="0" stop-color="#fff8c0"/><stop offset=".5" stop-color="#f8dc50"/><stop offset="1" stop-color="#e0a820"/></linearGradient></defs><path d="M72 2 L143 38 V98 L72 159 L2 98 V38Z" fill="#17130a" stroke="#c59a24" stroke-width="4" stroke-linejoin="round"/><path d="M4 100 L72 158 L141 100" fill="none" stroke="#d8a62a" stroke-width="11" stroke-linejoin="miter"/><path d="M72 10 L136 42 H8Z" fill="#2c2410"/><text transform="translate(73 106) scale(1.22 1)" font-size="94" font-weight="900" text-anchor="middle" fill="url(#gold8b)" stroke="#6a4a08" stroke-width="1.5" font-family="'Liberation Sans','Noto Sans CJK SC',sans-serif">金</text><text transform="translate(172 101) scale(1.3 1)" font-size="63" font-weight="700" fill="url(#gold8)" stroke="#3c2602" stroke-width="4" paint-order="stroke" letter-spacing="9" font-family="'Liberation Sans','Noto Sans CJK SC',sans-serif">金测评</text><text x="306" y="141" font-size="24" fill="#f0931e" text-anchor="middle" font-family="'Liberation Sans',sans-serif" textLength="178" lengthAdjust="spacingAndGlyphs">jinceping.com</text></svg></div></div></body></html>
